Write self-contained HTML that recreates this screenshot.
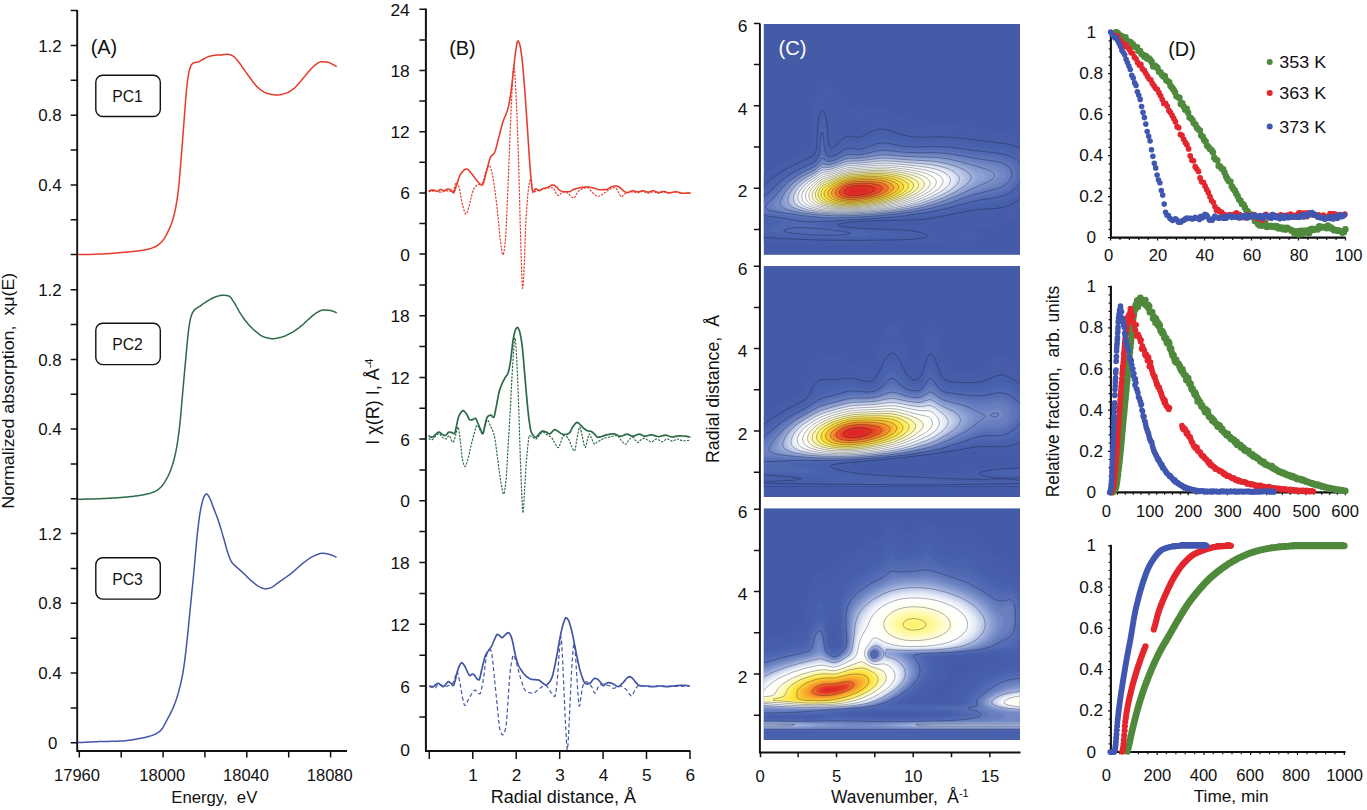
<!DOCTYPE html>
<html><head><meta charset="utf-8"><title>Figure</title>
<style>
html,body{margin:0;padding:0;background:#fff;}
body{width:1367px;height:810px;overflow:hidden;}
svg{display:block;font-family:"Liberation Sans",sans-serif;}
</style></head><body>
<svg width="1367" height="810" viewBox="0 0 1367 810">
<defs><filter id="bl" x="-5%" y="-5%" width="110%" height="110%"><feGaussianBlur stdDeviation="0.9"/></filter></defs>
<rect width="1367" height="810" fill="#fff"/>
<path d="M77.2 10 V751 H347" fill="none" stroke="#111" stroke-width="1.9"/>
<path d="M77.2 254.6H70.7M77.2 219.8H70.7M77.2 184.9H70.7M77.2 150H70.7M77.2 115.2H70.7M77.2 80.3H70.7M77.2 45.5H70.7M77.2 498.8H70.7M77.2 463.9H70.7M77.2 429.1H70.7M77.2 394.2H70.7M77.2 359.4H70.7M77.2 324.6H70.7M77.2 289.7H70.7M77.2 742.7H70.7M77.2 707.9H70.7M77.2 673H70.7M77.2 638.2H70.7M77.2 603.3H70.7M77.2 568.5H70.7M77.2 533.6H70.7M77.2 10.5H70.7" stroke="#111" stroke-width="1.5" fill="none"/>
<text x="61.7" y="51.6" font-size="16.9" text-anchor="end" fill="#111">1.2</text>
<text x="61.7" y="121.3" font-size="16.9" text-anchor="end" fill="#111">0.8</text>
<text x="61.7" y="191" font-size="16.9" text-anchor="end" fill="#111">0.4</text>
<text x="61.7" y="295.8" font-size="16.9" text-anchor="end" fill="#111">1.2</text>
<text x="61.7" y="365.5" font-size="16.9" text-anchor="end" fill="#111">0.8</text>
<text x="61.7" y="435.2" font-size="16.9" text-anchor="end" fill="#111">0.4</text>
<text x="61.7" y="539.7" font-size="16.9" text-anchor="end" fill="#111">1.2</text>
<text x="61.7" y="609.4" font-size="16.9" text-anchor="end" fill="#111">0.8</text>
<text x="61.7" y="679.1" font-size="16.9" text-anchor="end" fill="#111">0.4</text>
<text x="57.4" y="749.1" font-size="16.9" text-anchor="end" fill="#111">0</text>
<path d="M79.3 751V757.5M121.2 751V757.5M163.1 751V757.5M204.9 751V757.5M246.8 751V757.5M288.7 751V757.5M330.6 751V757.5" stroke="#111" stroke-width="1.5" fill="none"/>
<text x="77" y="780.6" font-size="16.5" text-anchor="middle" fill="#111">17960</text>
<text x="162.3" y="780.6" font-size="16.5" text-anchor="middle" fill="#111">18000</text>
<text x="246" y="780.6" font-size="16.5" text-anchor="middle" fill="#111">18040</text>
<text x="329.8" y="780.6" font-size="16.5" text-anchor="middle" fill="#111">18080</text>
<text x="214.3" y="803.3" font-size="16.5" text-anchor="middle" fill="#111" textLength="86" lengthAdjust="spacingAndGlyphs">Energy,&#160; eV</text>
<text transform="translate(14 390.7) rotate(-90)" font-size="16.8" text-anchor="middle" fill="#111" textLength="236" lengthAdjust="spacingAndGlyphs">Normalized absorption,&#160; x&#956;(E)</text>
<text x="104" y="53.8" font-size="20" text-anchor="middle" fill="#111" textLength="26.5" lengthAdjust="spacingAndGlyphs">(A)</text>
<rect x="95.8" y="75.2" width="64.5" height="41.3" rx="7" ry="7" fill="#fff" stroke="#111" stroke-width="1.4"/>
<text x="127.6" y="102" font-size="16.5" text-anchor="middle" fill="#111" textLength="30.5" lengthAdjust="spacingAndGlyphs">PC1</text>
<rect x="95.8" y="323.3" width="64.5" height="41.3" rx="7" ry="7" fill="#fff" stroke="#111" stroke-width="1.4"/>
<text x="127.6" y="350.1" font-size="16.5" text-anchor="middle" fill="#111" textLength="30.5" lengthAdjust="spacingAndGlyphs">PC2</text>
<rect x="95.8" y="557.8" width="64.5" height="41.3" rx="7" ry="7" fill="#fff" stroke="#111" stroke-width="1.4"/>
<text x="127.6" y="584.6" font-size="16.5" text-anchor="middle" fill="#111" textLength="30.5" lengthAdjust="spacingAndGlyphs">PC3</text>
<path d="M77.7 254.6 L 78.7 254.6 79.7 254.6 80.7 254.6 81.7 254.6 82.7 254.6 83.7 254.6 84.7 254.6 85.7 254.5 86.7 254.5 87.7 254.5 88.7 254.5 89.7 254.4 90.7 254.4 91.7 254.4 92.7 254.3 93.7 254.3 94.7 254.3 95.7 254.2 96.7 254.2 97.7 254.1 98.7 254.1 99.7 254.1 100.7 254 101.7 254 102.7 253.9 103.7 253.9 104.7 253.8 105.7 253.8 106.7 253.7 107.7 253.7 108.7 253.6 109.7 253.5 110.7 253.5 111.7 253.4 112.7 253.3 113.7 253.2 114.7 253.1 115.7 253.1 116.7 253 117.7 252.9 118.7 252.8 119.7 252.7 120.7 252.6 121.7 252.5 122.7 252.4 123.7 252.3 124.7 252.2 125.7 252.2 126.7 252.1 127.7 252 128.7 251.9 129.7 251.8 130.7 251.7 131.7 251.6 132.7 251.5 133.7 251.4 134.7 251.3 135.7 251.2 136.7 251.1 137.7 250.9 138.7 250.8 139.7 250.7 140.7 250.5 141.7 250.4 142.7 250.2 143.7 250.1 144.7 249.9 145.7 249.7 146.7 249.5 147.7 249.3 148.7 249 149.7 248.8 150.7 248.5 151.7 248.1 152.7 247.8 153.7 247.4 154.7 247 155.7 246.5 156.7 246 157.7 245.3 158.7 244.5 159.7 243.7 160.7 242.7 161.7 241.7 162.7 240.6 163.7 239.4 164.7 237.8 165.7 236.1 166.7 234.2 167.7 232.2 168.7 230.1 169.7 227.9 170.7 225.6 171.7 223 172.7 220 173.7 216.5 174.7 212.4 175.7 207.6 176.7 201.9 177.7 195.3 178.7 187.2 179.7 176.3 180.7 164.1 181.7 151.9 182.7 138.8 183.7 125.5 184.7 112.4 185.7 98.9 186.7 87.8 187.7 79.4 188.7 73.2 189.7 69 190.7 65.9 191.7 64.3 192.7 63.5 193.7 62.9 194.7 62.5 195.7 62.4 196.7 62.2 197.7 62.1 198.7 61.8 199.7 61.3 200.7 60.7 201.7 60.1 202.7 59.5 203.7 59 204.7 58.4 205.7 57.9 206.7 57.3 207.7 56.9 208.7 56.5 209.7 56.2 210.7 56 211.7 55.7 212.7 55.5 213.7 55.4 214.7 55.2 215.7 55.2 216.7 55.1 217.7 55 218.7 55 219.7 55 220.7 54.9 221.7 54.9 222.7 54.7 223.7 54.6 224.7 54.5 225.7 54.4 226.7 54.3 227.7 54.3 228.7 54.4 229.7 54.6 230.7 55 231.7 55.4 232.7 55.8 233.7 56.5 234.7 57.4 235.7 58.5 236.7 59.5 237.7 60.7 238.7 61.9 239.7 63.3 240.7 64.7 241.7 66.2 242.7 67.6 243.7 69 244.7 70.4 245.7 71.9 246.7 73.3 247.7 74.7 248.7 76.1 249.7 77.5 250.7 78.8 251.7 80.1 252.7 81.5 253.7 82.8 254.7 84.1 255.7 85.3 256.7 86.4 257.7 87.4 258.7 88.2 259.7 89 260.7 89.8 261.7 90.5 262.7 91.2 263.7 91.8 264.7 92.3 265.7 92.8 266.7 93.2 267.7 93.5 268.7 93.8 269.7 94 270.7 94.2 271.7 94.5 272.7 94.6 273.7 94.8 274.7 94.9 275.7 95 276.7 95 277.7 95 278.7 94.9 279.7 94.8 280.7 94.6 281.7 94.4 282.7 94.2 283.7 93.9 284.7 93.6 285.7 93.3 286.7 93 287.7 92.6 288.7 92 289.7 91.5 290.7 90.8 291.7 90.1 292.7 89.4 293.7 88.6 294.7 87.8 295.7 86.9 296.7 85.8 297.7 84.7 298.7 83.5 299.7 82.3 300.7 81.2 301.7 80 302.7 78.8 303.7 77.6 304.7 76.4 305.7 75.1 306.7 73.9 307.7 72.7 308.7 71.6 309.7 70.5 310.7 69.3 311.7 68.2 312.7 67.2 313.7 66.2 314.7 65.3 315.7 64.6 316.7 63.9 317.7 63.2 318.7 62.6 319.7 62.1 320.7 61.8 321.7 61.7 322.7 61.7 323.7 61.8 324.7 61.9 325.7 62 326.7 62.1 327.7 62.3 328.7 62.5 329.7 62.9 330.7 63.3 331.7 63.8 332.7 64.3 333.7 64.8 334.7 65.4 335.7 66 336.7 66.7" fill="none" stroke="#e63a2b" stroke-width="1.5" stroke-linejoin="round"/>
<path d="M77.7 499.3 L 78.7 499.3 79.7 499.2 80.7 499.2 81.7 499.2 82.7 499.2 83.7 499.2 84.7 499.2 85.7 499.1 86.7 499.1 87.7 499.1 88.7 499.1 89.7 499 90.7 499 91.7 499 92.7 498.9 93.7 498.9 94.7 498.9 95.7 498.8 96.7 498.8 97.7 498.8 98.7 498.7 99.7 498.7 100.7 498.7 101.7 498.6 102.7 498.6 103.7 498.5 104.7 498.5 105.7 498.4 106.7 498.4 107.7 498.3 108.7 498.3 109.7 498.2 110.7 498.2 111.7 498.1 112.7 498.1 113.7 498 114.7 497.9 115.7 497.9 116.7 497.8 117.7 497.7 118.7 497.7 119.7 497.6 120.7 497.5 121.7 497.4 122.7 497.3 123.7 497.3 124.7 497.2 125.7 497.1 126.7 497 127.7 496.9 128.7 496.8 129.7 496.7 130.7 496.6 131.7 496.5 132.7 496.4 133.7 496.3 134.7 496.1 135.7 496 136.7 495.9 137.7 495.7 138.7 495.6 139.7 495.4 140.7 495.2 141.7 495.1 142.7 494.9 143.7 494.7 144.7 494.5 145.7 494.3 146.7 494.1 147.7 493.9 148.7 493.6 149.7 493.4 150.7 493.1 151.7 492.8 152.7 492.4 153.7 492 154.7 491.6 155.7 491.2 156.7 490.6 157.7 489.9 158.7 489.1 159.7 488.2 160.7 487.3 161.7 486.2 162.7 485 163.7 483.6 164.7 482.1 165.7 480.4 166.7 478.6 167.7 476.8 168.7 474.8 169.7 472.5 170.7 470.1 171.7 467.3 172.7 464.3 173.7 460.7 174.7 456.8 175.7 452.3 176.7 447.2 177.7 441.2 178.7 433.9 179.7 425.7 180.7 415.5 181.7 403.9 182.7 392.4 183.7 381.3 184.7 370.2 185.7 359.4 186.7 348.5 187.7 337.7 188.7 328.9 189.7 322.6 190.7 317.7 191.7 314.6 192.7 312.4 193.7 310.8 194.7 309.7 195.7 308.9 196.7 308.2 197.7 307.5 198.7 306.9 199.7 306.3 200.7 305.6 201.7 304.9 202.7 304.1 203.7 303.4 204.7 302.8 205.7 302.1 206.7 301.5 207.7 300.9 208.7 300.3 209.7 299.7 210.7 299.1 211.7 298.5 212.7 298 213.7 297.6 214.7 297.2 215.7 296.8 216.7 296.5 217.7 296.2 218.7 295.9 219.7 295.6 220.7 295.4 221.7 295.3 222.7 295.2 223.7 295.2 224.7 295.3 225.7 295.4 226.7 295.6 227.7 295.8 228.7 296 229.7 296.5 230.7 297.5 231.7 298.8 232.7 300.3 233.7 301.8 234.7 303.4 235.7 305.1 236.7 307 237.7 308.8 238.7 310.7 239.7 312.3 240.7 313.9 241.7 315.4 242.7 316.9 243.7 318.3 244.7 319.7 245.7 321.1 246.7 322.3 247.7 323.5 248.7 324.7 249.7 325.8 250.7 326.8 251.7 327.8 252.7 328.8 253.7 329.7 254.7 330.6 255.7 331.4 256.7 332.2 257.7 333 258.7 333.8 259.7 334.6 260.7 335.3 261.7 335.9 262.7 336.5 263.7 336.9 264.7 337.2 265.7 337.5 266.7 337.8 267.7 338.1 268.7 338.3 269.7 338.5 270.7 338.6 271.7 338.7 272.7 338.7 273.7 338.7 274.7 338.6 275.7 338.4 276.7 338.3 277.7 338.1 278.7 337.8 279.7 337.6 280.7 337.4 281.7 337.1 282.7 336.8 283.7 336.5 284.7 336.1 285.7 335.7 286.7 335.2 287.7 334.7 288.7 334.2 289.7 333.7 290.7 333.2 291.7 332.6 292.7 332.1 293.7 331.4 294.7 330.8 295.7 330.1 296.7 329.4 297.7 328.7 298.7 328 299.7 327.2 300.7 326.4 301.7 325.6 302.7 324.7 303.7 323.8 304.7 322.8 305.7 321.9 306.7 321 307.7 320 308.7 319.1 309.7 318.3 310.7 317.4 311.7 316.5 312.7 315.6 313.7 314.8 314.7 314 315.7 313.3 316.7 312.6 317.7 312.1 318.7 311.5 319.7 311 320.7 310.6 321.7 310.2 322.7 310 323.7 310 324.7 310 325.7 310.1 326.7 310.1 327.7 310.2 328.7 310.3 329.7 310.4 330.7 310.5 331.7 310.8 332.7 311.1 333.7 311.5 334.7 311.9 335.7 312.4 336.7 312.9" fill="none" stroke="#2b6a45" stroke-width="1.5" stroke-linejoin="round"/>
<path d="M77.6 742.7 L 78.6 742.6 79.6 742.6 80.6 742.5 81.6 742.5 82.6 742.4 83.6 742.3 84.6 742.3 85.6 742.2 86.6 742.2 87.6 742.1 88.6 742.1 89.6 742 90.6 742 91.6 741.9 92.6 741.9 93.6 741.8 94.6 741.8 95.6 741.7 96.6 741.7 97.6 741.7 98.6 741.6 99.6 741.6 100.6 741.6 101.6 741.5 102.6 741.5 103.6 741.5 104.6 741.5 105.6 741.4 106.6 741.4 107.6 741.4 108.6 741.4 109.6 741.4 110.6 741.3 111.6 741.3 112.6 741.3 113.6 741.3 114.6 741.2 115.6 741.2 116.6 741.2 117.6 741.2 118.6 741.1 119.6 741.1 120.6 741 121.6 741 122.6 740.9 123.6 740.9 124.6 740.8 125.6 740.7 126.6 740.6 127.6 740.5 128.6 740.3 129.6 740.2 130.6 740 131.6 739.9 132.6 739.7 133.6 739.5 134.6 739.4 135.6 739.2 136.6 739 137.6 738.8 138.6 738.7 139.6 738.5 140.6 738.3 141.6 738.1 142.6 737.9 143.6 737.7 144.6 737.5 145.6 737.2 146.6 737 147.6 736.8 148.6 736.5 149.6 736.2 150.6 735.9 151.6 735.6 152.6 735.2 153.6 734.9 154.6 734.4 155.6 734 156.6 733.4 157.6 732.8 158.6 732.2 159.6 731.4 160.6 730.6 161.6 729.5 162.6 728 163.6 726.3 164.6 724.4 165.6 722.5 166.6 720.6 167.6 718.8 168.6 716.9 169.6 715.1 170.6 713.1 171.6 711.1 172.6 709 173.6 706.6 174.6 704.1 175.6 701.4 176.6 698.5 177.6 695.3 178.6 691.9 179.6 688.1 180.6 684.1 181.6 679.6 182.6 674.5 183.6 668.7 184.6 661.6 185.6 653.3 186.6 644.5 187.6 635.3 188.6 625.2 189.6 614.9 190.6 604.8 191.6 594.9 192.6 585 193.6 574.8 194.6 563.8 195.6 552.1 196.6 541.1 197.6 531.7 198.6 523.2 199.6 515.7 200.6 509.7 201.6 504.9 202.6 500.8 203.6 497.7 204.6 495.8 205.6 494.4 206.6 493.8 207.6 494.6 208.6 496.1 209.6 497.8 210.6 500 211.6 502.6 212.6 505.4 213.6 508.1 214.6 510.6 215.6 513.2 216.6 515.8 217.6 518.5 218.6 521.4 219.6 524.5 220.6 527.7 221.6 531.1 222.6 534.6 223.6 538 224.6 541.5 225.6 545.2 226.6 548.9 227.6 552.2 228.6 555.1 229.6 557.8 230.6 560.2 231.6 562 232.6 563.3 233.6 564.4 234.6 565.2 235.6 566.1 236.6 567.1 237.6 568 238.6 568.9 239.6 569.7 240.6 570.6 241.6 571.5 242.6 572.4 243.6 573.4 244.6 574.3 245.6 575.3 246.6 576.3 247.6 577.4 248.6 578.3 249.6 579.3 250.6 580.2 251.6 581 252.6 581.9 253.6 582.7 254.6 583.5 255.6 584.3 256.6 585.1 257.6 585.8 258.6 586.4 259.6 586.9 260.6 587.4 261.6 587.8 262.6 588.3 263.6 588.6 264.6 588.8 265.6 588.9 266.6 588.8 267.6 588.6 268.6 588.4 269.6 588.1 270.6 587.8 271.6 587.4 272.6 586.9 273.6 586.2 274.6 585.5 275.6 584.7 276.6 583.9 277.6 583.1 278.6 582.3 279.6 581.6 280.6 580.9 281.6 580.3 282.6 579.6 283.6 578.9 284.6 578.2 285.6 577.5 286.6 576.8 287.6 576 288.6 575.3 289.6 574.6 290.6 573.8 291.6 573 292.6 572.2 293.6 571.4 294.6 570.5 295.6 569.6 296.6 568.7 297.6 567.8 298.6 566.9 299.6 566 300.6 565.1 301.6 564.3 302.6 563.5 303.6 562.7 304.6 562 305.6 561.2 306.6 560.5 307.6 559.7 308.6 559 309.6 558.3 310.6 557.7 311.6 557.1 312.6 556.6 313.6 556.1 314.6 555.6 315.6 555.2 316.6 554.8 317.6 554.4 318.6 554 319.6 553.7 320.6 553.4 321.6 553.3 322.6 553.3 323.6 553.3 324.6 553.4 325.6 553.6 326.6 553.8 327.6 554 328.6 554.2 329.6 554.4 330.6 554.7 331.6 555 332.6 555.4 333.6 555.9 334.6 556.3 335.6 556.9 336.6 557.4" fill="none" stroke="#4356a6" stroke-width="1.5" stroke-linejoin="round"/>
<path d="M425.9 8.6 V751 H690.5" fill="none" stroke="#111" stroke-width="2"/>
<path d="M425.9 9.3H419.4M425.9 39.9H419.4M425.9 70.5H419.4M425.9 101.1H419.4M425.9 131.7H419.4M425.9 162.3H419.4M425.9 192.9H419.4M425.9 223.5H419.4M425.9 254.1H419.4M425.9 284.9H419.4M425.9 315.8H419.4M425.9 346.6H419.4M425.9 377.4H419.4M425.9 408.2H419.4M425.9 439.1H419.4M425.9 469.9H419.4M425.9 500.7H419.4M425.9 531.6H419.4M425.9 562.5H419.4M425.9 593.4H419.4M425.9 624.3H419.4M425.9 655.2H419.4M425.9 686.1H419.4M425.9 717H419.4" stroke="#111" stroke-width="1.5" fill="none"/>
<text x="409.8" y="15.8" font-size="17.4" text-anchor="end" fill="#111">24</text>
<text x="409.8" y="77" font-size="17.4" text-anchor="end" fill="#111">18</text>
<text x="409.8" y="138.2" font-size="17.4" text-anchor="end" fill="#111">12</text>
<text x="409.8" y="199.4" font-size="17.4" text-anchor="end" fill="#111">6</text>
<text x="409.8" y="260.6" font-size="17.4" text-anchor="end" fill="#111">0</text>
<text x="409.8" y="322.3" font-size="17.4" text-anchor="end" fill="#111">18</text>
<text x="409.8" y="383.9" font-size="17.4" text-anchor="end" fill="#111">12</text>
<text x="409.8" y="445.6" font-size="17.4" text-anchor="end" fill="#111">6</text>
<text x="409.8" y="507.2" font-size="17.4" text-anchor="end" fill="#111">0</text>
<text x="409.8" y="569" font-size="17.4" text-anchor="end" fill="#111">18</text>
<text x="409.8" y="630.8" font-size="17.4" text-anchor="end" fill="#111">12</text>
<text x="409.8" y="692.6" font-size="17.4" text-anchor="end" fill="#111">6</text>
<text x="409.8" y="756.1" font-size="17.4" text-anchor="end" fill="#111">0</text>
<path d="M429.3 751V759M472.8 751V759M516.2 751V759M559.7 751V759M603.1 751V759M646.5 751V759M690 751V759" stroke="#111" stroke-width="1.5" fill="none"/>
<text x="473.1" y="781" font-size="17.2" text-anchor="middle" fill="#111">1</text>
<text x="516.6" y="781" font-size="17.2" text-anchor="middle" fill="#111">2</text>
<text x="560.1" y="781" font-size="17.2" text-anchor="middle" fill="#111">3</text>
<text x="603.5" y="781" font-size="17.2" text-anchor="middle" fill="#111">4</text>
<text x="646.9" y="781" font-size="17.2" text-anchor="middle" fill="#111">5</text>
<text x="690.4" y="781" font-size="17.2" text-anchor="middle" fill="#111">6</text>
<text x="563.4" y="802.9" font-size="17.5" text-anchor="middle" fill="#111" textLength="145.5" lengthAdjust="spacingAndGlyphs">Radial distance, &#197;</text>
<text transform="translate(378.5 401.7) rotate(-90)" font-size="18" text-anchor="middle" fill="#111">I &#967;(R) I, &#197;<tspan font-size="11" dy="-6">-4</tspan></text>
<text x="462.5" y="55" font-size="20" text-anchor="middle" fill="#111" textLength="26.5" lengthAdjust="spacingAndGlyphs">(B)</text>
<path d="M428.6 191.8 L 429.3 191.6 430 191.5 430.7 191.4 431.4 191.3 432.1 191.2 432.8 191.2 433.5 191.1 434.2 191.1 434.9 191.1 435.6 191.1 436.3 191.2 437 191.3 437.7 191.5 438.4 191.7 439.1 191.9 439.8 192.1 440.5 192.1 441.2 192.1 441.9 192 442.6 191.9 443.3 191.7 444 191.5 444.7 191.3 445.4 191.1 446.1 190.9 446.8 190.8 447.5 190.8 448.2 190.8 448.9 190.9 449.6 191.1 450.3 191.3 451 191.5 451.7 191.7 452.4 191.8 453.1 191.6 453.8 189.9 454.5 187.2 455.2 184.5 455.9 182.7 456.6 182.6 457.3 183.3 458 184.5 458.7 186 459.4 188.4 460.1 192.1 460.8 196.3 461.5 200.3 462.2 203.5 462.9 206.2 463.6 208.9 464.3 211.4 465 213.2 465.7 214.2 466.4 214 467.1 212.6 467.8 210.5 468.5 208 469.2 205.5 469.9 203.1 470.6 200.3 471.3 197.2 472 194.2 472.7 191.5 473.4 189.6 474.1 188.4 474.8 187.4 475.5 186.5 476.2 185.8 476.9 185.3 477.6 184.9 478.3 184.6 479 184.4 479.7 184.2 480.4 184 481.1 183.8 481.8 183.4 482.5 182.8 483.2 181.2 483.9 178.9 484.6 176.2 485.3 173.5 486 171.2 486.7 169.5 487.4 167.7 488.1 166.2 488.8 165.3 489.5 165.4 490.2 166.7 490.9 168.7 491.6 171.2 492.3 173.9 493 177.7 493.7 182.1 494.4 186.7 495.1 191.7 495.8 197.1 496.5 202.8 497.2 208.9 497.9 215.1 498.6 222.3 499.3 230 500 237.1 500.7 242.7 501.4 248.1 502.1 252.7 502.8 255 503.5 254 504.2 250.4 504.9 245.1 505.6 238.2 506.3 225.4 507 209.2 507.7 193.2 508.4 176.4 509.1 159.2 509.8 141.4 510.5 123.1 511.2 106.6 511.9 93.1 512.6 79.7 513.3 69.1 514 64.9 514.7 70.5 515.4 83 516.1 96.9 516.8 112.1 517.5 130 518.2 150.1 518.9 172.7 519.6 199.8 520.3 226.2 521 249.7 521.7 273.6 522.4 288.5 523.1 286.4 523.8 273.8 524.5 258.5 525.2 237.8 525.9 220.8 526.6 209.8 527.3 201 528 192.9 528.7 186.8 529.4 182.8 530.1 179.7 530.8 179.4 531.5 183.6 532.2 189.4 532.9 192.8 533.6 192.7 534.3 192.3 535 191.8 535.7 191.2 536.4 190.6 537.1 190.2 537.8 190 538.5 189.9 539.2 189.8 539.9 189.7 540.6 189.6 541.3 189.6 542 189.5 542.7 189.4 543.4 189.2 544.1 189 544.8 188.8 545.5 188.6 546.2 188.3 546.9 188.2 547.6 188 548.3 187.9 549 187.9 549.7 187.8 550.4 187.8 551.1 187.7 551.8 187.7 552.5 187.7 553.2 187.7 553.9 188.6 554.6 190.2 555.3 191.9 556 193.1 556.7 194.2 557.4 195.1 558.1 195.6 558.8 195.4 559.5 194.9 560.2 194.1 560.9 193.4 561.6 192.9 562.3 192.6 563 192.3 563.7 192 564.4 191.9 565.1 191.8 565.8 191.9 566.5 192.3 567.2 192.8 567.9 193.4 568.6 194 569.3 194.6 570 195.2 570.7 195.8 571.4 196.6 572.1 197.2 572.8 197.7 573.5 198 574.2 197.9 574.9 197 575.6 195.8 576.3 194.4 577 193.1 577.7 192.3 578.4 191.4 579.1 190.6 579.8 190 580.5 189.5 581.2 189.2 581.9 188.9 582.6 188.6 583.3 188.4 584 188.2 584.7 188 585.4 187.9 586.1 187.7 586.8 187.7 587.5 187.6 588.2 187.8 588.9 188.3 589.6 189 590.3 189.9 591 190.8 591.7 191.7 592.4 192.5 593.1 193.1 593.8 193.7 594.5 194.3 595.2 194.9 595.9 195.5 596.6 195.9 597.3 196.2 598 196.3 598.7 196.2 599.4 196 600.1 195.7 600.8 195.3 601.5 194.9 602.2 194.4 602.9 194 603.6 193.6 604.3 193.1 605 192.5 605.7 192 606.4 191.4 607.1 190.8 607.8 190.4 608.5 190 609.2 189.6 609.9 189.3 610.6 189 611.3 188.7 612 188.4 612.7 188.1 613.4 187.9 614.1 187.7 614.8 187.7 615.5 187.7 616.2 188.3 616.9 189.4 617.6 190.8 618.3 192.1 619 193.3 619.7 194.6 620.4 196 621.1 196.8 621.8 196.9 622.5 196.3 623.2 195.4 623.9 194.5 624.6 193.9 625.3 193.5 626 193.2 626.7 193 627.4 192.8 628.1 192.6 628.8 192.4 629.5 192.2 630.2 192.1 630.9 191.9 631.6 191.8 632.3 191.8 633 191.8 633.7 191.9 634.4 192.1 635.1 192.3 635.8 192.5 636.5 192.7 637.2 192.8 637.9 192.8 638.6 192.7 639.3 192.5 640 192.3 640.7 192 641.4 191.7 642.1 191.5 642.8 191.5 643.5 191.5 644.2 191.7 644.9 192 645.6 192.4 646.3 192.7 647 193 647.7 193.1 648.4 193.2 649.1 193 649.8 192.8 650.5 192.6 651.2 192.3 651.9 192 652.6 191.9 653.3 191.8 654 191.9 654.7 192 655.4 192.3 656.1 192.6 656.8 192.8 657.5 193.1 658.2 193.2 658.9 193.1 659.6 193 660.3 192.8 661 192.5 661.7 192.2 662.4 192 663.1 191.8 663.8 191.8 664.5 191.9 665.2 192.1 665.9 192.3 666.6 192.6 667.3 192.9 668 193.1 668.7 193.2 669.4 193.2 670.1 193.1 670.8 193 671.5 192.8 672.2 192.7 672.9 192.5 673.6 192.4 674.3 192.3 675 192.2 675.7 192.1 676.4 192.2 677.1 192.3 677.8 192.4 678.5 192.6 679.2 192.8 679.9 193 680.6 193.2 681.3 193.4 682 193.5 682.7 193.5 683.4 193.5 684.1 193.5 684.8 193.5 685.5 193.5 686.2 193.4 686.9 193.4 687.6 193.3 688.3 193.3 689 193.2 689.7 193 690.4 192.9" fill="none" stroke="#e63a2b" stroke-width="1.15" stroke-linejoin="round" stroke-dasharray="2.3 1.2"/>
<path d="M428.6 191.1 L 429.3 190.8 430 190.5 430.7 190.3 431.4 190.2 432.1 190.1 432.8 190.1 433.5 190.1 434.2 190.1 434.9 190.4 435.6 190.8 436.3 191.2 437 191.4 437.7 191.3 438.4 190.9 439.1 190.3 439.8 189.7 440.5 189.4 441.2 189.5 441.9 189.8 442.6 190.2 443.3 190.5 444 190.7 444.7 190.6 445.4 190.2 446.1 189.7 446.8 189.3 447.5 189 448.2 189.1 448.9 189.2 449.6 189.4 450.3 189.7 451 190 451.7 190.7 452.4 191.8 453.1 192.7 453.8 192.7 454.5 191.3 455.2 189.2 455.9 186.9 456.6 185 457.3 182.9 458 180.7 458.7 178.5 459.4 176.6 460.1 174.9 460.8 173.8 461.5 172.9 462.2 172 462.9 171.2 463.6 170.5 464.3 169.9 465 169.5 465.7 169.1 466.4 169 467.1 169.1 467.8 169.4 468.5 169.9 469.2 170.7 469.9 171.5 470.6 172.4 471.3 173.2 472 174 472.7 174.9 473.4 175.9 474.1 176.9 474.8 177.9 475.5 178.9 476.2 179.8 476.9 180.6 477.6 181.4 478.3 182.2 479 183 479.7 183.8 480.4 184.4 481.1 184.9 481.8 185.2 482.5 185.1 483.2 183.9 483.9 181.7 484.6 179 485.3 176 486 173.2 486.7 170.8 487.4 168.1 488.1 165.2 488.8 162.4 489.5 159.9 490.2 157.8 490.9 156.4 491.6 155.6 492.3 155 493 154.5 493.7 153.8 494.4 152.9 495.1 151.3 495.8 149.1 496.5 146.6 497.2 143.7 497.9 140.9 498.6 138.1 499.3 135.6 500 132.8 500.7 130.1 501.4 127.3 502.1 124.7 502.8 122.3 503.5 120.3 504.2 118.5 504.9 116.8 505.6 115.3 506.3 113.6 507 111.7 507.7 109.6 508.4 106.9 509.1 103.6 509.8 99.5 510.5 95.1 511.2 90.2 511.9 84.3 512.6 78 513.3 71.7 514 65.4 514.7 59 515.4 53.2 516.1 48.5 516.8 44 517.5 41.1 518.2 41 518.9 42.2 519.6 44.1 520.3 46.7 521 50.9 521.7 56.2 522.4 62.2 523.1 69.5 523.8 77.9 524.5 86.7 525.2 95.8 525.9 105.7 526.6 116.1 527.3 126.4 528 137 528.7 147.7 529.4 157.9 530.1 168.2 530.8 176.1 531.5 183.2 532.2 189 532.9 191.8 533.6 191.4 534.3 190.4 535 189.3 535.7 188.7 536.4 188.9 537.1 189.4 537.8 190 538.5 190.5 539.2 190.8 539.9 190.6 540.6 190.1 541.3 189.6 542 189.1 542.7 188.7 543.4 188.4 544.1 188.2 544.8 188.1 545.5 187.9 546.2 187.8 546.9 187.6 547.6 187.4 548.3 187.1 549 186.8 549.7 186.3 550.4 185.9 551.1 185.5 551.8 185.2 552.5 184.9 553.2 184.9 553.9 185.1 554.6 185.5 555.3 186 556 186.6 556.7 187.1 557.4 187.8 558.1 188.7 558.8 189.5 559.5 190.1 560.2 190.5 560.9 190.9 561.6 191.2 562.3 191.4 563 191.6 563.7 191.7 564.4 191.8 565.1 191.8 565.8 191.8 566.5 191.8 567.2 191.8 567.9 191.8 568.6 191.8 569.3 191.7 570 191.5 570.7 191.1 571.4 190.7 572.1 190.2 572.8 189.8 573.5 189.5 574.2 189.2 574.9 189 575.6 188.8 576.3 188.6 577 188.4 577.7 188.2 578.4 188.1 579.1 187.9 579.8 187.7 580.5 187.6 581.2 187.5 581.9 187.4 582.6 187.3 583.3 187.2 584 187.1 584.7 187.1 585.4 187 586.1 187 586.8 187 587.5 187 588.2 187 588.9 187 589.6 187.1 590.3 187.3 591 187.4 591.7 187.6 592.4 187.8 593.1 188 593.8 188.2 594.5 188.3 595.2 188.5 595.9 188.8 596.6 189 597.3 189.2 598 189.5 598.7 189.6 599.4 189.7 600.1 189.7 600.8 189.7 601.5 189.7 602.2 189.7 602.9 189.6 603.6 189.6 604.3 189.6 605 189.5 605.7 189.5 606.4 189.4 607.1 189.3 607.8 189 608.5 188.6 609.2 188.1 609.9 187.6 610.6 187.1 611.3 186.8 612 186.6 612.7 186.4 613.4 186.3 614.1 186.1 614.8 186 615.5 185.9 616.2 185.9 616.9 186 617.6 186.2 618.3 186.6 619 187 619.7 187.5 620.4 188 621.1 188.5 621.8 189.2 622.5 189.9 623.2 190.6 623.9 191.1 624.6 191.5 625.3 191.9 626 192.2 626.7 192.4 627.4 192.5 628.1 192.4 628.8 192.2 629.5 191.8 630.2 191.5 630.9 191.2 631.6 190.9 632.3 190.8 633 190.8 633.7 190.9 634.4 191.1 635.1 191.3 635.8 191.5 636.5 191.6 637.2 191.8 637.9 191.8 638.6 191.7 639.3 191.6 640 191.4 640.7 191.2 641.4 191 642.1 190.8 642.8 190.8 643.5 190.8 644.2 191 644.9 191.2 645.6 191.5 646.3 191.8 647 192 647.7 192.1 648.4 192.1 649.1 192 649.8 191.8 650.5 191.5 651.2 191.2 651.9 191 652.6 190.8 653.3 190.8 654 190.8 654.7 191.1 655.4 191.4 656.1 191.7 656.8 192.1 657.5 192.3 658.2 192.5 658.9 192.5 659.6 192.4 660.3 192.2 661 192 661.7 191.8 662.4 191.6 663.1 191.5 663.8 191.5 664.5 191.5 665.2 191.7 665.9 192 666.6 192.3 667.3 192.5 668 192.7 668.7 192.8 669.4 192.8 670.1 192.7 670.8 192.6 671.5 192.5 672.2 192.3 672.9 192.2 673.6 192 674.3 191.9 675 191.8 675.7 191.8 676.4 191.8 677.1 191.9 677.8 192.1 678.5 192.3 679.2 192.5 679.9 192.7 680.6 192.9 681.3 193 682 193.1 682.7 193.2 683.4 193.2 684.1 193.2 684.8 193.2 685.5 193.2 686.2 193.1 686.9 193.1 687.6 193.1 688.3 193.1 689 193 689.7 192.9 690.4 192.9" fill="none" stroke="#e63a2b" stroke-width="1.55" stroke-linejoin="round"/>
<path d="M428.6 438.3 L 429.3 439 430 439.4 430.7 439.6 431.4 439.7 432.1 439.7 432.8 439.4 433.5 438.7 434.2 437.8 434.9 436.9 435.6 436.2 436.3 435.5 437 434.9 437.7 434.3 438.4 433.9 439.1 433.8 439.8 434.2 440.5 435 441.2 435.9 441.9 436.8 442.6 437.4 443.3 437.9 444 438.3 444.7 438.7 445.4 439 446.1 439 446.8 438.4 447.5 437.4 448.2 436.4 448.9 435.7 449.6 435.7 450.3 436.9 451 438.8 451.7 440.8 452.4 442.2 453.1 442.3 453.8 441.1 454.5 439 455.2 436.7 455.9 434.3 456.6 431.1 457.3 428.2 458 426.9 458.7 429.1 459.4 434 460.1 439.3 460.8 445.5 461.5 452.5 462.2 458.3 462.9 461.5 463.6 464.2 464.3 466.1 465 466.6 465.7 465.8 466.4 463.9 467.1 461.6 467.8 459.3 468.5 456.8 469.2 453.9 469.9 450.8 470.6 447.6 471.3 444.5 472 441.7 472.7 438.9 473.4 436.2 474.1 433.7 474.8 431.3 475.5 428.7 476.2 426.4 476.9 425.2 477.6 425.5 478.3 426.6 479 427.9 479.7 429.2 480.4 430.8 481.1 432.5 481.8 433.6 482.5 433.6 483.2 432.3 483.9 430.2 484.6 427.9 485.3 425.8 486 423.2 486.7 420.9 487.4 420 488.1 420.6 488.8 422 489.5 423.7 490.2 425.3 490.9 426.8 491.6 428.2 492.3 429.8 493 431.5 493.7 433.6 494.4 436 495.1 439.8 495.8 444.7 496.5 450.2 497.2 455.8 497.9 460.9 498.6 466.1 499.3 471.4 500 476.5 500.7 481.2 501.4 485.1 502.1 489.1 502.8 492.6 503.5 494.3 504.2 493.2 504.9 489.5 505.6 484.1 506.3 477.6 507 466.4 507.7 453 508.4 441.1 509.1 430.2 509.8 418.8 510.5 405.8 511.2 391.7 511.9 378.1 512.6 366.4 513.3 355.2 514 344.6 514.7 337.9 515.4 338.8 516.1 348.2 516.8 360.5 517.5 375.5 518.2 393.7 518.9 413.2 519.6 435.6 520.3 457.7 521 476.1 521.7 494 522.4 508.7 523.1 513 523.8 504.1 524.5 490.5 525.2 479.7 525.9 468.6 526.6 458.6 527.3 451 528 444.2 528.7 438.5 529.4 435.6 530.1 435.7 530.8 436.1 531.5 436.7 532.2 437.2 532.9 437.6 533.6 438.1 534.3 438.5 535 438.9 535.7 439 536.4 438.8 537.1 438.2 537.8 437.3 538.5 436.4 539.2 435.6 539.9 434.7 540.6 433.8 541.3 433 542 432.3 542.7 432.1 543.4 432.2 544.1 432.6 544.8 433 545.5 433.6 546.2 434.2 546.9 434.7 547.6 435.1 548.3 435.5 549 435.8 549.7 436.2 550.4 436.6 551.1 437.1 551.8 437.8 552.5 438.8 553.2 440.1 553.9 441.5 554.6 442.8 555.3 444 556 445 556.7 446.2 557.4 447.2 558.1 447.6 558.8 447.2 559.5 445.8 560.2 443.9 560.9 442 561.6 440 562.3 437.6 563 435.9 563.7 435.6 564.4 435.7 565.1 435.8 565.8 436.1 566.5 436.4 567.2 437.1 567.9 438 568.6 439 569.3 440.4 570 442.3 570.7 444.3 571.4 446.2 572.1 447.7 572.8 449.1 573.5 450.3 574.2 451 574.9 450.5 575.6 447.3 576.3 442.8 577 438.5 577.7 434.9 578.4 430.9 579.1 427.8 579.8 427 580.5 428.5 581.2 431.6 581.9 435 582.6 438 583.3 441.3 584 444.7 584.7 447.1 585.4 447.5 586.1 445.6 586.8 442.4 587.5 439.4 588.2 436.8 588.9 434.4 589.6 433.9 590.3 435 591 436.9 591.7 438.8 592.4 440.3 593.1 442 593.8 443.5 594.5 444.2 595.2 443.9 595.9 443.2 596.6 442.4 597.3 441.8 598 441.4 598.7 441.1 599.4 440.9 600.1 440.5 600.8 440.1 601.5 439.6 602.2 439.2 602.9 438.7 603.6 438.4 604.3 438.2 605 438 605.7 437.8 606.4 437.7 607.1 437.5 607.8 437.4 608.5 437.2 609.2 437.1 609.9 436.9 610.6 436.7 611.3 436.6 612 436.4 612.7 436.3 613.4 436.1 614.1 436 614.8 435.8 615.5 435.7 616.2 435.6 616.9 435.5 617.6 435.7 618.3 436.4 619 437.3 619.7 438.3 620.4 439.4 621.1 440.3 621.8 441.1 622.5 441.8 623.2 442.6 623.9 443.3 624.6 443.8 625.3 444.2 626 444.1 626.7 443.4 627.4 442.3 628.1 441 628.8 440 629.5 439.3 630.2 438.6 630.9 438 631.6 437.5 632.3 437.3 633 437.4 633.7 438 634.4 438.9 635.1 439.8 635.8 440.6 636.5 441.5 637.2 442.3 637.9 442.4 638.6 442.1 639.3 441.5 640 440.7 640.7 440 641.4 439.6 642.1 439.2 642.8 438.8 643.5 438.5 644.2 438.3 644.9 438.3 645.6 438.6 646.3 439.1 647 439.6 647.7 440.2 648.4 440.5 649.1 440.9 649.8 441.3 650.5 441.6 651.2 441.7 651.9 441.7 652.6 441.5 653.3 441 654 440.5 654.7 439.9 655.4 439.5 656.1 439.1 656.8 439 657.5 439.2 658.2 439.5 658.9 440 659.6 440.6 660.3 441.1 661 441.5 661.7 441.8 662.4 441.7 663.1 441.4 663.8 440.9 664.5 440.4 665.2 439.9 665.9 439.4 666.6 439.1 667.3 439 668 439.2 668.7 439.5 669.4 439.9 670.1 440.3 670.8 440.7 671.5 440.9 672.2 441.1 672.9 441 673.6 440.7 674.3 440.4 675 440 675.7 439.6 676.4 439.2 677.1 439 677.8 439 678.5 439.2 679.2 439.5 679.9 439.8 680.6 440.1 681.3 440.4 682 440.7 682.7 440.7 683.4 440.7 684.1 440.7 684.8 440.7 685.5 440.7 686.2 440.6 686.9 440.6 687.6 440.5 688.3 440.4 689 440.2 689.7 440 690.4 439.8" fill="none" stroke="#2b6a45" stroke-width="1.15" stroke-linejoin="round" stroke-dasharray="2.3 1.2"/>
<path d="M428.6 435.5 L 429.3 436.2 430 436.7 430.7 437.1 431.4 437.2 432.1 437.3 432.8 437 433.5 436.5 434.2 435.8 434.9 435.1 435.6 434.4 436.3 433.8 437 433.2 437.7 432.6 438.4 432.2 439.1 432.1 439.8 432.4 440.5 432.9 441.2 433.5 441.9 434.2 442.6 434.6 443.3 435 444 435.4 444.7 435.5 445.4 435.4 446.1 434.9 446.8 434.2 447.5 433.4 448.2 432.6 448.9 432.2 449.6 432.1 450.3 432.2 451 432.4 451.7 432.6 452.4 432.9 453.1 433.3 453.8 433.6 454.5 433.8 455.2 432.1 455.9 428.6 456.6 425.4 457.3 421.9 458 418.7 458.7 416.5 459.4 415 460.1 413.7 460.8 412.6 461.5 411.7 462.2 411 462.9 410.7 463.6 410.7 464.3 411.2 465 412 465.7 412.9 466.4 413.8 467.1 414.9 467.8 416.3 468.5 417.9 469.2 419.3 469.9 420 470.6 420 471.3 419.9 472 419.8 472.7 419.7 473.4 419.4 474.1 418.9 474.8 418.4 475.5 418.3 476.2 419.2 476.9 420.7 477.6 422.5 478.3 424 479 425.8 479.7 427.6 480.4 429.2 481.1 430.9 481.8 432.5 482.5 433.6 483.2 433.4 483.9 430.5 484.6 426.7 485.3 423.8 486 420.8 486.7 418.2 487.4 416.8 488.1 416.3 488.8 415.8 489.5 415.4 490.2 415.2 490.9 415.2 491.6 415.6 492.3 416.5 493 417.3 493.7 417.5 494.4 415.8 495.1 412.5 495.8 408.8 496.5 405.5 497.2 401.7 497.9 397.8 498.6 394.2 499.3 391.2 500 388.9 500.7 387 501.4 385.2 502.1 383.6 502.8 382.1 503.5 380.7 504.2 379.4 504.9 378 505.6 376.9 506.3 375.9 507 374.9 507.7 373.6 508.4 371.8 509.1 369 509.8 365.4 510.5 361.4 511.2 356.2 511.9 349.9 512.6 343.6 513.3 338.7 514 335.1 514.7 332 515.4 330 516.1 328.7 516.8 327.7 517.5 327.4 518.2 328 518.9 329.5 519.6 331.4 520.3 334.1 521 337.8 521.7 342.4 522.4 347.9 523.1 355.2 523.8 363.5 524.5 371.6 525.2 379.8 525.9 388.2 526.6 396 527.3 403.7 528 411 528.7 417.2 529.4 422.3 530.1 427.1 530.8 430.7 531.5 432.6 532.2 433.9 532.9 435 533.6 435.9 534.3 436.7 535 437.1 535.7 437.3 536.4 437 537.1 436.4 537.8 435.5 538.5 434.6 539.2 433.8 539.9 433.1 540.6 432.4 541.3 431.7 542 431.2 542.7 431.1 543.4 431.1 544.1 431.3 544.8 431.6 545.5 431.8 546.2 432.1 546.9 432.5 547.6 432.9 548.3 433.4 549 433.7 549.7 433.8 550.4 433.5 551.1 433 551.8 432.2 552.5 431.4 553.2 430.6 553.9 430 554.6 429.7 555.3 429.7 556 430 556.7 430.4 557.4 430.9 558.1 431.3 558.8 431.8 559.5 432.4 560.2 432.9 560.9 433.4 561.6 433.8 562.3 434 563 434.2 563.7 434.4 564.4 434.5 565.1 434.5 565.8 434.5 566.5 434.3 567.2 434.1 567.9 433.8 568.6 433.5 569.3 433.1 570 432.3 570.7 431 571.4 429.5 572.1 428 572.8 426.8 573.5 425.9 574.2 424.9 574.9 424 575.6 423.3 576.3 422.7 577 422.4 577.7 422.5 578.4 422.9 579.1 423.5 579.8 424.3 580.5 425 581.2 425.7 581.9 426.4 582.6 427.2 583.3 427.9 584 428.5 584.7 429 585.4 429.5 586.1 430 586.8 430.4 587.5 430.7 588.2 430.9 588.9 431 589.6 431.1 590.3 431.2 591 431.4 591.7 431.7 592.4 432.2 593.1 432.8 593.8 433.5 594.5 434.2 595.2 434.9 595.9 435.7 596.6 436.5 597.3 437.1 598 437.3 598.7 437.2 599.4 437.1 600.1 436.9 600.8 436.7 601.5 436.5 602.2 436.3 602.9 436.1 603.6 435.9 604.3 435.6 605 435.3 605.7 435.1 606.4 434.9 607.1 434.8 607.8 434.6 608.5 434.5 609.2 434.3 609.9 434.2 610.6 434.1 611.3 434 612 433.9 612.7 433.8 613.4 433.8 614.1 433.9 614.8 434 615.5 434.3 616.2 434.6 616.9 435 617.6 435.3 618.3 435.7 619 436 619.7 436.2 620.4 436.2 621.1 436.2 621.8 436 622.5 435.8 623.2 435.5 623.9 435.2 624.6 434.9 625.3 434.6 626 434.4 626.7 434.2 627.4 434.2 628.1 434.3 628.8 434.6 629.5 434.9 630.2 435.4 630.9 435.7 631.6 436.1 632.3 436.2 633 436.2 633.7 436.1 634.4 435.9 635.1 435.6 635.8 435.3 636.5 435 637.2 434.7 637.9 434.4 638.6 434.3 639.3 434.2 640 434.2 640.7 434.5 641.4 434.8 642.1 435.2 642.8 435.6 643.5 436 644.2 436.2 644.9 436.2 645.6 436.2 646.3 436 647 435.9 647.7 435.7 648.4 435.5 649.1 435.3 649.8 435.1 650.5 434.9 651.2 434.9 651.9 434.9 652.6 435 653.3 435.1 654 435.4 654.7 435.6 655.4 435.9 656.1 436.1 656.8 436.3 657.5 436.5 658.2 436.6 658.9 436.6 659.6 436.5 660.3 436.3 661 436.2 661.7 436 662.4 435.8 663.1 435.6 663.8 435.4 664.5 435.3 665.2 435.2 665.9 435.2 666.6 435.3 667.3 435.5 668 435.8 668.7 436 669.4 436.3 670.1 436.5 670.8 436.7 671.5 436.9 672.2 436.9 672.9 436.9 673.6 436.8 674.3 436.7 675 436.6 675.7 436.4 676.4 436.3 677.1 436.1 677.8 436 678.5 435.9 679.2 435.9 679.9 435.9 680.6 435.9 681.3 435.9 682 436 682.7 436 683.4 436 684.1 436.1 684.8 436.2 685.5 436.2 686.2 436.3 686.9 436.4 687.6 436.6 688.3 436.7 689 436.9 689.7 437 690.4 437.2" fill="none" stroke="#2b6a45" stroke-width="1.7" stroke-linejoin="round"/>
<path d="M429.3 686 L 430 686.4 430.7 686.8 431.4 687.2 432.1 687.5 432.8 687.7 433.5 688 434.2 688.2 434.9 688.3 435.6 687.9 436.3 686.8 437 685.5 437.7 684.4 438.4 684 439.1 684.1 439.8 684.4 440.5 684.8 441.2 685.1 441.9 685.4 442.6 685.8 443.3 686.2 444 686.5 444.7 686.7 445.4 686.6 446.1 686.5 446.8 686.2 447.5 685.9 448.2 685.7 448.9 685.5 449.6 685.4 450.3 685.3 451 685.2 451.7 685 452.4 684.1 453.1 682.5 453.8 680.6 454.5 678.7 455.2 676.7 455.9 674.4 456.6 672.5 457.3 671.7 458 673.4 458.7 677 459.4 680.3 460.1 683.8 460.8 687.6 461.5 692 462.2 696.2 462.9 699.5 463.6 702.4 464.3 704.8 465 705.7 465.7 705 466.4 703.6 467.1 702 467.8 700.7 468.5 699.4 469.2 698 469.9 696.8 470.6 695.6 471.3 694.5 472 693.5 472.7 692.6 473.4 691.5 474.1 690.6 474.8 690 475.5 690.2 476.2 691 476.9 691.9 477.6 692.6 478.3 693.2 479 693.7 479.7 694 480.4 693.4 481.1 690.7 481.8 687.6 482.5 684.4 483.2 680.6 483.9 675.6 484.6 669.6 485.3 664 486 658.4 486.7 654.8 487.4 652.9 488.1 651.6 488.8 650.9 489.5 650.4 490.2 650.1 490.9 650 491.6 652.1 492.3 657.3 493 663.2 493.7 670.6 494.4 677.7 495.1 684.7 495.8 691.7 496.5 698.8 497.2 705.9 497.9 712.7 498.6 719.5 499.3 726.1 500 730.1 500.7 732.1 501.4 733.7 502.1 734.7 502.8 735 503.5 734.2 504.2 732.7 504.9 731 505.6 728.5 506.3 724.1 507 715.6 507.7 705.8 508.4 695.2 509.1 684.8 509.8 675.1 510.5 668.8 511.2 664 511.9 660.3 512.6 656.7 513.3 655 514 655.7 514.7 657.3 515.4 659.3 516.1 661.4 516.8 664 517.5 666.9 518.2 669.6 518.9 672.2 519.6 674.8 520.3 677.3 521 679.7 521.7 681.9 522.4 684 523.1 686.1 523.8 687.9 524.5 689.4 525.2 690.2 525.9 690.9 526.6 691.4 527.3 691.8 528 692.2 528.7 692.5 529.4 692.7 530.1 692.9 530.8 693 531.5 693.2 532.2 693.3 532.9 693.3 533.6 693.3 534.3 693 535 692.4 535.7 691.8 536.4 691.2 537.1 690.6 537.8 690.1 538.5 689.5 539.2 688.9 539.9 688.4 540.6 687.8 541.3 687.2 542 686.7 542.7 686.2 543.4 686 544.1 685.8 544.8 685.7 545.5 685.7 546.2 685.7 546.9 686.2 547.6 687.2 548.3 688.3 549 689.4 549.7 690.4 550.4 691.5 551.1 692.6 551.8 693.5 552.5 694.5 553.2 695.4 553.9 696.1 554.6 696.6 555.3 696.1 556 691.8 556.7 686.1 557.4 678.6 558.1 669.4 558.8 658.9 559.5 648.1 560.2 640.9 560.9 636.7 561.6 641.9 562.3 653.3 563 667.3 563.7 683.9 564.4 699.9 565.1 716.1 565.8 729.6 566.5 742.4 567.2 749.9 567.9 745.5 568.6 733.4 569.3 720.3 570 704.1 570.7 688.7 571.4 674.8 572.1 662.8 572.8 653.3 573.5 645.3 574.2 643.8 574.9 649.2 575.6 656.9 576.3 668 577 679.1 577.7 689.8 578.4 699 579.1 706.2 579.8 705.1 580.5 700 581.2 695.2 581.9 690.4 582.6 686.8 583.3 684.8 584 683.4 584.7 682.6 585.4 682.1 586.1 681.8 586.8 681.7 587.5 682.1 588.2 682.8 588.9 683.6 589.6 684.3 590.3 685 591 685.8 591.7 686.8 592.4 688.4 593.1 690.2 593.8 691.7 594.5 693 595.2 693.2 595.9 692.2 596.6 690.7 597.3 689 598 687.2 598.7 686.2 599.4 685.6 600.1 685.1 600.8 684.7 601.5 684.4 602.2 684.2 602.9 684 603.6 684 604.3 684.2 605 684.4 605.7 684.7 606.4 684.9 607.1 685.1 607.8 685.3 608.5 685.5 609.2 685.7 609.9 686 610.6 686.4 611.3 687 612 687.7 612.7 688.2 613.4 688.3 614.1 688.2 614.8 688 615.5 687.8 616.2 687.5 616.9 687.2 617.6 686.9 618.3 686.5 619 686.2 619.7 686 620.4 686 621.1 686.2 621.8 686.5 622.5 686.9 623.2 687.3 623.9 687.7 624.6 688.2 625.3 688.7 626 689.4 626.7 690.1 627.4 691 628.1 692.2 628.8 693.4 629.5 694.2 630.2 695 630.9 695.7 631.6 696 632.3 695.3 633 693.9 633.7 692.6 634.4 691.1 635.1 689.8 635.8 688.6 636.5 687.5 637.2 686.6 637.9 685.8 638.6 685.7 639.3 685.7 640 685.7 640.7 685.8 641.4 685.9 642.1 686 642.8 686 643.5 686.1 644.2 686.2 644.9 686.2 645.6 686.3 646.3 686.4 647 686.5 647.7 686.6 648.4 686.6 649.1 686.6 649.8 686.7 650.5 686.7 651.2 686.6 651.9 686.6 652.6 686.6 653.3 686.5 654 686.4 654.7 686.4 655.4 686.3 656.1 686.2 656.8 686.2 657.5 686.1 658.2 686.1 658.9 686 659.6 686 660.3 686 661 686 661.7 686 662.4 686 663.1 686 663.8 686.1 664.5 686.1 665.2 686.1 665.9 686.1 666.6 686.2 667.3 686.2 668 686.2 668.7 686.2 669.4 686.3 670.1 686.3 670.8 686.3 671.5 686.3 672.2 686.3 672.9 686.3 673.6 686.3 674.3 686.3 675 686.3 675.7 686.3 676.4 686.3 677.1 686.3 677.8 686.3 678.5 686.3 679.2 686.3 679.9 686.3 680.6 686.3 681.3 686.3 682 686.3 682.7 686.2 683.4 686.2 684.1 686.2 684.8 686.2 685.5 686.2 686.2 686.1 686.9 686.1 687.6 686.1 688.3 686.1 689 686 689.7 686" fill="none" stroke="#4356a6" stroke-width="1.2" stroke-linejoin="round" stroke-dasharray="4 2.6"/>
<path d="M429.3 685.7 L 430 686.1 430.7 686.4 431.4 686.6 432.1 686.6 432.8 686.7 433.5 686.6 434.2 686.2 434.9 685.4 435.6 684.6 436.3 684.1 437 683.7 437.7 683.4 438.4 683.3 439.1 683.7 439.8 684.3 440.5 685 441.2 685.5 441.9 686 442.6 686.5 443.3 686.7 444 686.3 444.7 685.6 445.4 684.7 446.1 683.9 446.8 683 447.5 682.1 448.2 681.7 448.9 681.8 449.6 682.2 450.3 682.8 451 683.4 451.7 684.1 452.4 685.1 453.1 685.6 453.8 685.1 454.5 683 455.2 680.3 455.9 677.6 456.6 674.5 457.3 671.7 458 669.4 458.7 667.4 459.4 665.8 460.1 664.4 460.8 663.3 461.5 662.7 462.2 662.9 462.9 663.6 463.6 664.5 464.3 665.5 465 666.7 465.7 668.2 466.4 669.6 467.1 670.9 467.8 672.5 468.5 674 469.2 675.1 469.9 675.7 470.6 675.4 471.3 674.7 472 674.1 472.7 674.1 473.4 674.4 474.1 674.9 474.8 675.5 475.5 676.7 476.2 677.8 476.9 678.6 477.6 679.3 478.3 679.8 479 680 479.7 678.7 480.4 675.8 481.1 672.3 481.8 669.4 482.5 666.5 483.2 663.5 483.9 660.6 484.6 657.9 485.3 655.8 486 654.3 486.7 653.1 487.4 652.1 488.1 651.2 488.8 650.2 489.5 649.2 490.2 648.2 490.9 647.2 491.6 646.1 492.3 644.6 493 643 493.7 641.2 494.4 639.5 495.1 638.1 495.8 636.5 496.5 635.1 497.2 634.3 497.9 634.5 498.6 634.9 499.3 635.5 500 636 500.7 636.7 501.4 637.4 502.1 637.7 502.8 637.3 503.5 636.6 504.2 635.8 504.9 635.1 505.6 634.5 506.3 633.8 507 633.2 507.7 632.8 508.4 632.7 509.1 633.1 509.8 634 510.5 635.1 511.2 636.6 511.9 638.9 512.6 641.5 513.3 644.7 514 648.5 514.7 652.1 515.4 655.1 516.1 657.9 516.8 660.5 517.5 662.9 518.2 664.8 518.9 666.3 519.6 667.6 520.3 668.7 521 669.7 521.7 670.8 522.4 671.8 523.1 672.8 523.8 673.7 524.5 674.5 525.2 675.2 525.9 675.9 526.6 676.5 527.3 677 528 677.5 528.7 677.9 529.4 678.4 530.1 678.8 530.8 679.1 531.5 679.3 532.2 679.4 532.9 679.5 533.6 679.6 534.3 679.6 535 679.7 535.7 679.7 536.4 679.8 537.1 679.8 537.8 679.9 538.5 680 539.2 680.3 539.9 680.8 540.6 681.3 541.3 681.9 542 682.5 542.7 683 543.4 683.5 544.1 684.1 544.8 684.6 545.5 684.9 546.2 685 546.9 684.7 547.6 684.1 548.3 683.4 549 682.6 549.7 681.8 550.4 680.7 551.1 679.5 551.8 677.9 552.5 675.8 553.2 673.1 553.9 670.1 554.6 667 555.3 663.6 556 660 556.7 656.3 557.4 652.4 558.1 648.4 558.8 644.4 559.5 640.6 560.2 636.9 560.9 633.3 561.6 630.1 562.3 627.3 563 624.6 563.7 622.4 564.4 620.5 565.1 618.7 565.8 617.7 566.5 617.8 567.2 618.5 567.9 619.4 568.6 620.5 569.3 622.3 570 624.5 570.7 626.9 571.4 629.6 572.1 632.6 572.8 635.8 573.5 639.2 574.2 642.8 574.9 646.3 575.6 649.9 576.3 653.4 577 656.9 577.7 660.2 578.4 663.5 579.1 666.6 579.8 669.4 580.5 671.9 581.2 674.2 581.9 676.3 582.6 678.2 583.3 680.1 584 681.9 584.7 683.1 585.4 683.5 586.1 683.8 586.8 683.9 587.5 684 588.2 683.9 588.9 683.8 589.6 683.5 590.3 683.1 591 682.3 591.7 681.2 592.4 680.2 593.1 679.6 593.8 678.9 594.5 678.4 595.2 678.3 595.9 678.5 596.6 678.8 597.3 679.1 598 679.6 598.7 680.2 599.4 681 600.1 681.8 600.8 682.8 601.5 683.9 602.2 684.9 602.9 685.6 603.6 685.6 604.3 685.2 605 684.5 605.7 683.8 606.4 683.4 607.1 683 607.8 682.7 608.5 682.7 609.2 682.7 609.9 682.8 610.6 682.9 611.3 683.1 612 683.3 612.7 683.7 613.4 684.1 614.1 684.5 614.8 684.9 615.5 685.4 616.2 685.8 616.9 686.2 617.6 686.5 618.3 686.7 619 686.4 619.7 685.9 620.4 685.2 621.1 684.6 621.8 683.9 622.5 683.2 623.2 682.5 623.9 681.7 624.6 680.9 625.3 679.9 626 679 626.7 678.3 627.4 677.7 628.1 677.1 628.8 676.8 629.5 676.7 630.2 676.9 630.9 677.2 631.6 677.6 632.3 678.2 633 678.9 633.7 679.7 634.4 680.5 635.1 681.4 635.8 682.4 636.5 683.2 637.2 683.9 637.9 684.6 638.6 685.2 639.3 685.4 640 685.6 640.7 685.8 641.4 685.9 642.1 686 642.8 686 643.5 686 644.2 686 644.9 686 645.6 686 646.3 686 647 686 647.7 686 648.4 686.1 649.1 686.2 649.8 686.3 650.5 686.4 651.2 686.5 651.9 686.6 652.6 686.6 653.3 686.7 654 686.6 654.7 686.6 655.4 686.5 656.1 686.4 656.8 686.3 657.5 686.2 658.2 686.1 658.9 686 659.6 686 660.3 686 661 686 661.7 686.1 662.4 686.2 663.1 686.3 663.8 686.4 664.5 686.5 665.2 686.6 665.9 686.6 666.6 686.7 667.3 686.7 668 686.6 668.7 686.6 669.4 686.5 670.1 686.4 670.8 686.3 671.5 686.2 672.2 686.1 672.9 686 673.6 686 674.3 685.9 675 685.8 675.7 685.8 676.4 685.7 677.1 685.6 677.8 685.5 678.5 685.5 679.2 685.4 679.9 685.4 680.6 685.4 681.3 685.3 682 685.3 682.7 685.3 683.4 685.4 684.1 685.4 684.8 685.4 685.5 685.5 686.2 685.5 686.9 685.6 687.6 685.7 688.3 685.8 689 685.9 689.7 686" fill="none" stroke="#4356a6" stroke-width="1.7" stroke-linejoin="round"/>
<path d="M759.9 23.5 V752.5 H1020.5" fill="none" stroke="#111" stroke-width="1.9"/>
<text x="747.4" y="197" font-size="17.4" text-anchor="end" fill="#111">2</text>
<text x="747.4" y="114.6" font-size="17.4" text-anchor="end" fill="#111">4</text>
<text x="747.4" y="32.2" font-size="17.4" text-anchor="end" fill="#111">6</text>
<text x="747.4" y="439.8" font-size="17.4" text-anchor="end" fill="#111">2</text>
<text x="747.4" y="357.4" font-size="17.4" text-anchor="end" fill="#111">4</text>
<text x="747.4" y="275" font-size="17.4" text-anchor="end" fill="#111">6</text>
<text x="747.4" y="682.8" font-size="17.4" text-anchor="end" fill="#111">2</text>
<text x="747.4" y="600.4" font-size="17.4" text-anchor="end" fill="#111">4</text>
<text x="747.4" y="518" font-size="17.4" text-anchor="end" fill="#111">6</text>
<path d="M759.9 229.4H753.9M759.9 188.2H753.9M759.9 147H753.9M759.9 105.8H753.9M759.9 64.6H753.9M759.9 23.4H753.9M759.9 472.2H753.9M759.9 431H753.9M759.9 389.8H753.9M759.9 348.6H753.9M759.9 307.4H753.9M759.9 266.2H753.9M759.9 715.2H753.9M759.9 674H753.9M759.9 632.8H753.9M759.9 591.6H753.9M759.9 550.4H753.9M759.9 509.2H753.9M760.5 752.5V757.2M798.1 752.5V757.2M836.5 752.5V757.2M874.8 752.5V757.2M913.2 752.5V757.2M951.5 752.5V757.2M989.9 752.5V757.2" stroke="#111" stroke-width="1.5" fill="none"/>
<text x="760.2" y="781.6" font-size="16.6" text-anchor="middle" fill="#111">0</text>
<text x="836.5" y="781.6" font-size="16.6" text-anchor="middle" fill="#111">5</text>
<text x="913.2" y="781.6" font-size="16.6" text-anchor="middle" fill="#111">10</text>
<text x="989.9" y="781.6" font-size="16.6" text-anchor="middle" fill="#111">15</text>
<text x="899.9" y="803.4" font-size="17.5" text-anchor="middle" fill="#111" textLength="137.6" lengthAdjust="spacingAndGlyphs">Wavenumber,&#160; &#197;<tspan font-size="11" dy="-6">-1</tspan></text>
<text transform="translate(718.9 389) rotate(-90)" font-size="17.5" text-anchor="middle" fill="#111" textLength="148" lengthAdjust="spacingAndGlyphs">Radial distance,&#160; &#197;</text>
<clipPath id="cla"><rect x="763.8" y="24" width="256.2" height="230.8"/></clipPath>
<rect x="763.8" y="24" width="256.2" height="230.8" fill="#445ba8"/>
<g clip-path="url(#cla)"><g filter="url(#bl)">
<path d="M821.3 86.1 823.2 85.3 826.2 85.4 829.2 86.4 832.3 88.3 836.8 92.8 844.3 103.1 847.4 106.6 850.4 108.9 853.4 110 857.9 110.2 867 108.6 871.5 108.2 877.6 108.1 882.1 108.4 886.6 109.6 891.1 111.2 909.5 119.1 913.8 120.5 918.3 121.6 927.4 122.7 948.5 123.5 960.6 124.6 969.7 126 1021 135.6 1021 212.9 1011.9 219.8 1008.9 221.6 1005.9 222.9 999.9 224.6 984.8 227.5 980.2 228.7 978.7 229.4 977.2 230.3 976.4 231.8 977.2 233.3 980 236.3 980.3 237.8 978.6 239.3 977.2 239.7 972.6 240.8 966.6 241.4 951.5 242.4 930.4 243.1 882.1 243.5 823.2 244.5 796 244 779.4 243.2 762.8 241.9 762.8 174.8 768.8 170.7 776.4 166.2 801 153.7 807.5 149.2 810.3 146.2 811.8 143.2 812.7 138.6 812.8 132.6 812.2 114.6 812.4 108.6 813.1 102.6 814.6 96.6 816.4 92.1 818.7 88.4 820.2 86.9 821.3 86.1ZM857.9 222.8 849.3 224.3 851.4 225.8 860.9 226.8 870 227.3 883.6 227.6 898.7 227.3 910.8 226.6 919 225.8 920.9 224.3 910.9 222.8 898.7 222.1 883.6 221.9 868.5 222.2 857.9 222.8Z" fill="#465daa" fill-rule="evenodd"/>
<path d="M820.7 108.6 821.7 107.4 823.2 107.4 824.7 109.2 825.1 110.1 826.6 114.6 827.4 119.1 828.1 125.1 829.1 141.7 829.6 143.2 830.7 145.1 832.3 145.2 833.8 144.6 836.8 142 841.3 137 844.3 134.7 845.8 134 848.9 133.7 856.4 134.8 859.4 134.5 862.5 133.3 870 129 873 127.8 877.6 126.7 882.1 126.3 888.1 127.4 904.7 133.2 912.3 134.8 921.3 135.4 944 135.1 959.1 136.1 1004.4 141.9 1011.9 143.4 1021 145.7 1021 199.9 1015 204.2 1010.4 206.7 1005.9 208.5 999.9 209.7 980.2 210.8 968.4 212.2 953 215.2 938 218.7 930.6 219.8 918.3 220.4 883.6 220.8 868.5 221.2 856.4 221.9 846.8 222.8 840.3 224.3 841.6 225.8 851.2 227.3 860.9 228 882.1 228.9 907.8 229.5 920 230.3 927.5 231.8 931.7 233.3 934.8 234.8 936.3 236.3 935 237.8 928.9 239 918.3 239.9 901.7 240.4 841.3 240.8 800.5 240.1 762.8 237.9 762.8 184.1 771.9 176.5 779.4 171.4 788.5 166.4 811.1 155.4 812.6 154.5 814.1 153.1 815.6 149.8 816.2 146.2 817.1 128.1 818.1 117.6 819.4 111.6 820.2 109.4 820.7 108.6Z" fill="#475fab" fill-rule="evenodd"/>
<path d="M821.2 119.1 821.7 118.3 823.2 118.8 824.7 122.8 825.8 129.6 826.6 143.2 827.3 147.7 827.7 149.3 828.6 150.7 829.2 151.4 830.7 151.9 833.8 151.1 836.8 149.3 842.8 143.8 845.8 141.9 848.9 141.3 856.4 142.8 859.4 142.9 860.9 142.6 864 141.6 871.5 137.6 874.5 136.4 879.1 135.2 882.1 135 888.1 135.8 903.2 140 909.3 141 916.8 141.4 936.4 140.9 948.5 141.3 959.1 142.2 978.3 144.7 999.9 147 1005.9 147.9 1010.4 149 1015 150.5 1021 152.8 1021 192.3 1014.8 197.2 1008.9 200.9 1005.9 202.1 1001.4 203.3 974.2 206.5 944 212.9 925.9 216.1 909.3 218.3 889.6 219.5 862.5 220.6 848.9 221.4 836.1 222.8 830.5 224.3 831.4 225.8 841.3 227.6 857.9 229.2 876.1 230.3 891.8 231.8 895.7 232.6 899 233.3 902.1 234.8 901.5 236.3 894.2 237.6 879.1 238.3 864 238.7 824.7 238.6 791.5 237.4 762.8 235.3 762.8 190.3 774.9 179.6 782.4 174.1 793 168.1 812.6 158.9 814.1 157.9 815.3 156.7 816.8 153.7 817.5 150.7 818 146.2 818.9 128.1 820.2 121.1 821.2 119.1Z" fill="#4a62ae" fill-rule="evenodd"/>
<path d="M821.2 128.1 821.7 126.9 823.2 128.1 824.3 134.1 825 144.7 825.6 149.2 826.2 151.6 827.3 153.7 827.7 154.3 829.2 155.3 830.7 155.4 832.3 155.1 835.7 153.7 838.3 152.1 844.3 147.5 847.4 146.3 850.4 146.2 857.9 147.5 860.9 147.3 864.8 146.2 873 142.6 876 141.6 880.6 140.7 883.6 140.6 888.1 141.2 901.7 144.2 907.8 145 915.3 145.4 934.9 144.9 947 145.3 954.6 145.9 978.7 149.1 998.4 151.2 1004.4 152.2 1010.4 153.9 1016.5 156.6 1021 159.5 1021 185.5 1016.9 189.7 1013.4 192.7 1010.4 194.9 1005.9 197.3 1002.9 198.3 998.4 199.3 980.5 201.7 972.7 203.2 945.5 210 930.4 213 909.3 216.2 888.1 218.2 836.3 221.3 822.7 222.8 815.5 224.3 816.4 225.8 826.2 227.7 838.3 229.3 862.1 231.8 868.4 233.3 868.8 234.8 859.5 236.3 842.8 236.7 823.2 236.5 791.5 235.1 773.5 233.3 767.2 231.8 765.6 230.3 767.8 228.8 777.8 225.8 781.4 224.3 782.5 222.8 781.1 221.3 777 219.8 762.8 217.1 762.8 194.8 767.6 191.2 778.8 180.7 785.4 175.7 796 169.5 812.6 161.8 814.1 161 815.6 159.7 817.5 156.7 818.7 152.2 819.4 146.2 820.1 132.6 821.2 128.1Z" fill="#4f67b1" fill-rule="evenodd"/>
<path d="M821.6 143.2 821.7 141.9 822.3 144.7 823.2 146.7 823.9 150.7 825.8 155.2 827.7 157.3 829.2 157.8 832.3 157.5 835.3 156.4 838.3 154.9 844.3 150.9 847.4 149.8 850.4 149.6 857.9 150.6 860.9 150.4 865.5 149.3 876 145.7 882.1 144.7 888.1 145.1 901.7 147.5 909.3 148.2 916.8 148.3 936.4 148 950 148.8 975.7 152.4 998.4 155 1004.4 156.2 1008.9 157.7 1012.7 159.7 1016.6 162.7 1019.2 165.7 1021 169.4 1021 175.9 1020.4 177.7 1018.9 180.7 1016.8 183.7 1012.7 188.2 1010.4 190.1 1007.4 192.2 1004.4 193.6 1001.4 194.6 995.3 196 977.2 199.1 969.7 201 959.1 204 948.5 207 936.4 210 922.9 212.6 910.8 214.4 895.7 216.2 880.6 217.5 850.4 219.3 821.7 220.5 811.1 220.2 802.1 219.3 784 216.7 762.8 214.2 762.8 198.6 769 194.2 781.2 182.2 788.5 176.6 797.5 171.2 803.6 168.2 812.6 164.1 815.6 162.3 817.6 159.7 819.5 155.2 820.9 149.2 821.6 143.2Z" fill="#546cb5" fill-rule="evenodd"/>
<path d="M874.4 149.2 879.1 148.2 883.6 147.9 888.1 148.1 901.7 150 908.9 150.7 933.4 150.5 944 151 953.1 151.9 975.7 155.6 995.3 158.1 1003 159.7 1005.9 160.7 1008.9 162.2 1011.6 164.2 1013 165.7 1014.2 167.2 1015.6 170.2 1016 171.7 1016.1 174.7 1015.4 177.7 1013.9 180.7 1011.8 183.7 1008.9 186.6 1005.9 188.8 1002.9 190.3 995.3 192.5 981.7 195.2 974.2 197 947 205.5 934.9 208.7 918.3 211.9 895.7 215 879.1 216.5 859.4 217.9 841.3 218.7 823.2 218.8 805.1 217.3 771.9 213.2 762.8 211.5 762.8 202.7 768.8 198.3 771.8 195.7 783.1 183.7 790 178.1 799 172.5 813.4 165.7 815.6 164.3 817.2 162.8 818.3 161.2 821.7 154.6 823.2 155 825.7 158.2 827.7 159.6 829.2 159.9 830.7 159.7 835.8 158.2 839 156.7 844.3 153.6 847.4 152.5 850.4 152.3 856.4 152.9 860.9 152.8 864.2 152.2 874.4 149.2Z" fill="#5e75ba" fill-rule="evenodd"/>
<path d="M879.4 150.7 882.1 150.4 886.6 150.5 901.7 152.2 909.3 152.7 938 152.9 945.5 153.5 953.1 154.5 975.7 158.7 993.8 161.4 999.9 162.7 1004.4 164.4 1007.4 166.4 1009.5 168.7 1011 171.7 1011.3 173.2 1011.1 176.2 1010 179.2 1008.9 180.9 1006.5 183.7 1004.5 185.2 1001.7 186.7 998.4 188 975.7 193.9 947 203.7 933.4 207.6 924.4 209.6 915.3 211.3 892.7 214.3 873 216.1 850.4 217.4 836.8 217.7 821.7 217.4 805.1 215.8 777.9 212 770.3 210.3 767.6 209.2 766.5 207.7 766.5 206.2 768.6 203.2 774.9 196.7 783.2 186.7 787.9 182.2 793 178.2 799 174.4 815.6 166 817.6 164.2 821.7 158.6 823.2 158.6 826.2 160.8 827.7 161.4 830.7 161.4 836.2 159.7 844.3 155.7 847.4 154.7 850.4 154.4 857.9 154.8 860.9 154.7 866.3 153.7 874.5 151.5 879.4 150.7Z" fill="#677ebf" fill-rule="evenodd"/>
<path d="M873.9 153.7 879.1 152.8 885.1 152.5 907.8 154.5 933.4 154.8 947 155.9 956.1 157.5 975.7 161.8 995.3 165.6 999.8 167.2 1002.6 168.7 1004.3 170.2 1005.3 171.7 1005.9 173.2 1006.1 174.7 1005.9 176.2 1004.5 179.2 1003.1 180.7 1001.2 182.2 995.3 185.1 975.7 191.2 950 200.9 936.4 205.3 928.9 207.4 918.3 209.7 900.2 212.6 879.1 214.8 857.9 216.2 841.3 216.8 823.2 216.5 803.6 214.5 783.9 211.2 776.8 209.2 774.5 207.7 773.6 206.2 773.6 204.7 774.1 203.2 775.9 200.2 783.5 189.7 789 183.7 793 180.3 799.1 176.2 805.1 172.8 815.6 167.6 817.2 166.3 821.7 161.2 823.2 161.1 826.2 162.5 827.7 162.9 830.7 162.8 836 161.2 844.3 157.5 847.4 156.5 850.4 156.2 857.9 156.5 860.9 156.3 873.9 153.7Z" fill="#7388c5" fill-rule="evenodd"/>
<path d="M874.8 155.2 880.6 154.4 886.6 154.3 907.8 156.1 934.9 156.8 947 158.1 959.1 160.6 989.6 168.7 993.4 170.2 995.9 171.7 997.3 173.2 998 174.7 997.9 176.2 997.1 177.7 995.7 179.2 993.6 180.7 990.8 182.2 947 200.4 936.4 204 924.4 207.3 910.8 210.1 896.4 212.2 874.5 214.5 853.4 215.8 838.3 216 823.2 215.6 803.6 213.4 789 210.7 784 209.2 781.1 207.7 779.5 206.2 778.8 204.7 778.7 203.2 779.1 201.7 781.2 197.2 786 189.7 790 185.2 795.1 180.7 800.5 176.9 806.6 173.5 815.6 169 817.2 167.8 821.7 163.3 823.2 163 826.2 164 829.2 164.3 835.4 162.7 844.3 159 847.4 158.1 850.4 157.8 860.9 157.7 874.8 155.2Z" fill="#8095cc" fill-rule="evenodd"/>
<path d="M874.5 156.7 882.1 155.9 888.1 156 907.8 157.5 933.4 158.5 945.5 159.9 957.9 162.7 971.7 167.2 979.1 170.2 982.1 171.7 984.3 173.2 985.6 174.7 986 176.2 985.5 177.7 984.2 179.2 980.2 182.2 972.3 186.7 963.7 191.2 954.2 195.7 945.5 199.4 931.9 204.1 919.8 207.3 906.2 210.1 890.4 212.2 870 214.2 851.9 215.1 838.3 215.3 821.7 214.8 805.1 212.7 797.5 211.4 791.5 209.8 788.5 208.8 785.4 207.2 784.2 206.2 783.1 204.7 782.7 203.2 782.9 200.2 784.7 195.7 788.4 189.7 792.3 185.2 796 181.8 801.8 177.7 806.6 174.9 815.6 170.3 821.7 165 823.2 164.7 826.2 165.4 829.2 165.5 834.3 164.2 844.3 160.3 847.4 159.5 850.4 159.1 860.9 158.9 874.5 156.7Z" fill="#8ea1d3" fill-rule="evenodd"/>
<path d="M873.2 158.2 880.6 157.3 888.1 157.3 907.8 158.8 931.9 160 944 161.5 950 162.8 956.1 164.5 962.1 166.7 966.8 168.7 972.1 171.7 974 173.2 975.3 174.7 975.9 176.2 975.9 177.7 975.4 179.2 974.3 180.7 972.9 182.2 969.1 185.2 964.6 188.2 956.5 192.7 943.4 198.7 930.4 203.4 916.8 207.1 901.7 210 886.6 212 871.5 213.4 850.4 214.6 836.8 214.7 821.7 214.1 805.1 211.9 799.6 210.7 794.5 209.3 790.6 207.7 788.3 206.2 786.9 204.7 786.1 203.2 785.8 201.7 786.1 198.7 787.8 194.2 790.6 189.7 794.4 185.2 797.7 182.2 801.8 179.2 806.7 176.2 815.6 171.4 821.7 166.5 823.2 166.1 827.7 166.7 830.7 166.2 836.8 164.4 844.3 161.5 847.4 160.7 850.4 160.3 860.9 160 873.2 158.2Z" fill="#9fafdb" fill-rule="evenodd"/>
<path d="M870.9 159.7 879.1 158.7 888.1 158.6 906.2 160 928.9 161.3 939.5 162.6 950 164.9 956.1 166.9 960.1 168.7 965.3 171.7 967 173.2 968.3 174.7 969.1 176.2 969.3 177.7 969.1 179.2 968.5 180.7 966.1 183.7 962.5 186.7 958.1 189.7 952.8 192.7 941 198.3 927.4 203.2 913.8 206.9 898.7 209.8 883.6 211.8 868.5 213.1 848.9 214.1 835.3 214.1 820.2 213.3 806.6 211.3 797.5 209 794.4 207.7 791.8 206.2 790.1 204.7 789.1 203.2 788.6 201.7 788.6 198.7 790 194.2 792.6 189.7 796.4 185.2 799.8 182.2 803.6 179.5 808.1 176.7 815.6 172.6 821.7 167.8 823.2 167.5 827.7 167.7 830.7 167.3 847.4 161.8 850.4 161.4 860.9 161.1 870.9 159.7Z" fill="#b0bee2" fill-rule="evenodd"/>
<path d="M881.9 159.7 891.1 159.9 925.9 162.5 934.9 163.5 942.5 164.9 951.5 167.6 956.1 169.6 959.6 171.7 962.8 174.7 963.7 176.2 964.1 177.7 964.1 179.2 963.7 180.7 961.7 183.7 958.6 186.7 954.5 189.7 949.4 192.7 943.5 195.7 931.9 200.5 918.3 204.9 904.7 208 891.1 210.3 872.7 212.2 853.4 213.4 838.3 213.6 821.7 212.8 809.6 211.1 801.8 209.2 797.7 207.7 794.9 206.2 793 204.7 791.9 203.2 791.2 201.7 790.9 200.2 791.1 197.2 792 194.2 794.5 189.7 796.9 186.7 800 183.7 806 179.2 815.6 173.7 821.7 169.1 823.2 168.7 827.7 168.7 830.7 168.2 844.3 163.6 847.4 162.8 850.4 162.4 860.9 162 874.5 160.2 881.9 159.7Z" fill="#c0cce9" fill-rule="evenodd"/>
<path d="M875.1 161.2 882.1 160.7 891.1 161 925.9 163.8 938.4 165.7 947 168.1 951.5 170 954.5 171.7 958 174.7 959.1 176.3 959.6 177.7 959.8 179.2 959.5 180.7 957.9 183.7 956.6 185.2 953.2 188.2 948.8 191.2 943.5 194.2 931.9 199.4 919.8 203.5 906.2 207 892.7 209.4 876 211.4 859.4 212.7 844.3 213.2 829.2 212.8 817.2 211.6 811.1 210.6 805.2 209.2 800.8 207.7 797.8 206.2 795.8 204.7 794.4 203.2 793.6 201.7 793 198.7 793.4 195.7 795.4 191.2 797.4 188.2 800.2 185.2 805.7 180.7 815.6 174.7 821.7 170.2 823.2 169.8 827.7 169.7 830.7 169.1 844.3 164.5 847.4 163.8 850.4 163.4 862.5 162.8 875.1 161.2Z" fill="#d0d9ef" fill-rule="evenodd"/>
<path d="M870.2 162.7 880.6 161.7 889.6 161.9 921.3 164.6 933.4 166.3 943 168.7 946.8 170.2 949.8 171.7 953.7 174.7 954.8 176.2 955.6 177.7 955.9 179.2 955.8 180.7 954.4 183.7 953.3 185.2 950.1 188.2 945.8 191.2 940.6 194.2 930.7 198.7 918.3 203.1 906.2 206.3 892.7 208.8 877.8 210.7 862.5 212 845.8 212.7 833.8 212.5 820.2 211.5 808.5 209.2 802.1 207 799 205.3 797.5 204 795.8 201.7 795.2 200.2 795 197.2 795.7 194.2 798.1 189.7 800.4 186.7 803.6 183.7 806.6 181.3 815.6 175.7 821.7 171.3 823.2 170.8 827.7 170.6 830.7 169.9 844.3 165.4 847.4 164.7 850.4 164.3 860.9 163.7 870.2 162.7Z" fill="#e0e6f5" fill-rule="evenodd"/>
<path d="M880.5 162.7 892.7 163 918.3 165.5 928.9 166.9 937.2 168.7 941.8 170.2 945.1 171.7 947.7 173.2 949.6 174.7 950.9 176.2 951.8 177.7 952.2 179.2 952.3 180.7 951.9 182.2 951.2 183.7 948.8 186.7 943 191.2 937.8 194.2 933.4 196.4 921.3 201.2 909.4 204.7 897.2 207.5 883.6 209.6 868.5 211.1 850.4 212.2 836.8 212.1 823.2 211.3 812.6 209.5 806.5 207.7 803.1 206.2 800.5 204.6 799 203.2 797.9 201.7 797.2 200.2 796.9 198.7 797.1 195.7 798 192.7 799.7 189.7 803.6 185.2 808.1 181.5 815.6 176.7 821.7 172.3 823.2 171.8 829.2 171.1 844.3 166.3 848.9 165.3 860.9 164.5 874.5 163 880.5 162.7Z" fill="#eaeef8" fill-rule="evenodd"/>
<path d="M871.6 164.2 882.1 163.5 891.1 163.8 916.8 166.4 930.4 168.5 938 170.7 943.5 173.2 945.6 174.7 947.2 176.2 948.2 177.7 948.8 179.2 948.9 180.7 948.7 182.2 947.1 185.2 945.8 186.7 942.4 189.7 935.1 194.2 925.3 198.7 913.8 202.7 901.7 205.9 889.6 208.2 874.5 210.1 859.4 211.3 844.3 211.8 832.3 211.5 820.2 210.3 814.8 209.2 809.6 207.9 805.5 206.2 803.6 205.1 801.1 203.2 799.9 201.7 799.1 200.2 798.6 197.2 798.8 195.7 799.7 192.7 801.3 189.7 803.7 186.7 808.8 182.2 815.6 177.7 821.7 173.3 823.2 172.8 830.2 171.7 842.8 167.5 847.4 166.3 851.9 165.8 860.9 165.3 871.6 164.2Z" fill="#f3f6fb" fill-rule="evenodd"/>
<path d="M864.9 165.7 877.6 164.5 888.1 164.5 906.2 166.2 922.9 168.4 931.9 170.4 935.9 171.7 939.3 173.2 941.7 174.7 943.5 176.2 944.7 177.7 945.5 179.2 945.8 180.7 945.6 182.2 945.1 183.7 944.3 185.2 941.6 188.2 935.3 192.7 926.3 197.2 915.3 201.4 904.7 204.5 892.7 207.1 879.1 209.1 865.5 210.4 848.9 211.3 836.8 211.2 823.2 210.2 814.1 208.4 807.9 206.2 805.1 204.7 803.1 203.2 801.8 201.7 800.9 200.2 800.3 197.2 800.7 194.2 801.9 191.2 804 188.2 808.5 183.7 821.7 174.3 823.2 173.7 829.2 172.7 844.3 167.8 847.4 167.1 851.9 166.5 864.9 165.7Z" fill="#f9fbfd" fill-rule="evenodd"/>
<path d="M872 165.7 882.1 165.2 892.7 165.7 912.3 167.9 925.7 170.2 931.9 171.9 935.1 173.2 938 174.7 940 176.2 941.4 177.7 942.5 180 942.7 182.2 941.5 185.2 940.4 186.7 937.2 189.7 930.1 194.2 919.8 198.9 909.3 202.5 897.2 205.6 885.1 207.8 871.5 209.5 854.9 210.7 844.3 211 832.3 210.5 821.7 209.4 814.1 207.6 810.2 206.2 807.2 204.7 805.1 203.2 803.7 201.7 802.7 200.2 801.9 197.2 802 195.7 802.7 192.7 804.3 189.7 806.8 186.7 810 183.7 821.7 175.2 823.2 174.6 829.2 173.5 842.8 169 847.4 167.8 872 165.7Z" fill="#fcfdfe" fill-rule="evenodd"/>
<path d="M864 167.2 876 166.1 886.6 166.1 901.7 167.5 918.3 169.9 927.4 172 930.9 173.2 934.1 174.7 936.5 176.2 938.1 177.7 939.1 179.2 939.7 180.7 939.9 182.2 939.6 183.7 938.9 185.2 936.4 188.2 932.7 191.2 930.4 192.7 921.5 197.2 912.3 200.8 901.7 203.9 889.6 206.5 877.6 208.3 862.5 209.8 847.4 210.5 835.3 210.3 824.3 209.2 817 207.7 812.5 206.2 809.6 204.9 807 203.2 805.5 201.7 804.4 200.2 803.8 198.7 803.5 197.2 803.8 194.2 804.9 191.2 806.9 188.2 811.5 183.7 821.7 176.1 823.2 175.5 829.2 174.2 842.8 169.7 847.4 168.6 851.9 168 864 167.2Z" fill="#ffffff" fill-rule="evenodd"/>
<path d="M871.2 167.2 880.6 166.7 891.1 167.2 907.8 169.1 919.8 171.3 927.4 173.5 930.3 174.7 933 176.2 934.8 177.7 936.1 179.2 936.8 180.7 937.1 182.2 936.9 183.7 936.3 185.2 935.3 186.7 932.4 189.7 925.5 194.2 915.6 198.7 906.2 201.9 895.5 204.7 883.6 207 870 208.7 854.9 209.8 844.3 210.1 832.3 209.6 821.7 208.2 814.7 206.2 811.3 204.7 808.9 203.2 807.2 201.7 806.1 200.2 805.4 198.7 805 195.7 805.2 194.2 806.3 191.2 809.7 186.7 813 183.7 821.7 177 823.2 176.4 829.2 175 842.8 170.4 847.4 169.3 851.9 168.7 871.2 167.2Z" fill="#fffffb" fill-rule="evenodd"/>
<path d="M861.9 168.7 874.5 167.6 883.6 167.5 894.2 168.2 908.6 170.2 918.3 172.1 926.5 174.7 929.5 176.2 931.7 177.7 933.1 179.2 934 180.7 934.4 182.2 934.3 183.7 933.8 185.2 931.6 188.2 928.1 191.2 920.3 195.7 910.8 199.7 900.2 202.9 889.6 205.4 876 207.6 862.5 208.9 848.9 209.7 838.3 209.5 827.7 208.6 820.2 207.3 813.3 204.7 810.7 203.2 808.9 201.7 807.7 200.2 806.9 198.7 806.5 197.2 806.6 194.2 807.1 192.7 808.6 189.7 812.6 185.2 821.7 177.9 823.2 177.2 829.2 175.7 845.8 170.3 851.9 169.3 861.9 168.7Z" fill="#fffff8" fill-rule="evenodd"/>
<path d="M869.3 168.7 879.1 168.2 889.6 168.6 903.1 170.2 915.3 172.5 922.7 174.7 926.1 176.2 928.5 177.7 930.1 179.2 931.2 180.7 931.7 182.2 931.7 183.7 931.3 185.2 930.5 186.7 929.3 188.2 925.9 191.2 918.2 195.7 911.1 198.7 902.2 201.7 891.1 204.5 880.6 206.4 868.5 208 853.4 209.1 844.3 209.3 833.8 208.8 823.2 207.3 818.7 206.1 815.3 204.7 812.6 203.2 810.6 201.7 809.3 200.2 808.4 198.7 807.9 195.7 808.4 192.7 809.1 191.2 811.1 188.2 814 185.2 819.1 180.7 821.7 178.8 823.2 178.1 829.2 176.4 841.3 172.3 847.4 170.6 851.9 170 869.3 168.7Z" fill="#fffff1" fill-rule="evenodd"/>
<path d="M858 170.2 873 169.1 880.6 168.8 889.6 169.3 900.2 170.6 910.8 172.5 918.9 174.7 922.7 176.2 925.4 177.7 927.2 179.2 928.4 180.7 929.1 182.2 929.3 183.7 928.9 185.2 927.1 188.2 923.8 191.2 916.8 195.3 909 198.7 899.8 201.7 889.6 204.3 878.6 206.2 866.2 207.7 851.9 208.7 841.3 208.8 832.3 208.1 823.2 206.7 817.2 204.7 814.4 203.2 812.3 201.7 810.9 200.2 809.9 198.7 809.4 197.2 809.4 194.2 810.4 191.2 811.3 189.7 815.3 185.2 821.7 179.7 823.2 178.9 829.2 177.2 845.8 171.6 850.4 170.8 858 170.2Z" fill="#fffee8" fill-rule="evenodd"/>
<path d="M866.4 170.2 877.6 169.5 886.6 169.8 897.2 170.9 909.3 173.1 916.8 175.3 922.3 177.7 924.4 179.2 925.7 180.7 926.5 182.2 926.8 183.7 926.6 185.2 926 186.7 923.5 189.7 919.5 192.7 916.9 194.2 910.6 197.2 902.5 200.2 891.7 203.2 880.6 205.4 870 206.9 854.9 208.2 844.3 208.4 833.8 207.8 824.7 206.4 819 204.7 816.1 203.2 814 201.7 812.4 200.2 811.4 198.7 810.6 195.7 811.1 192.7 811.7 191.2 813.7 188.2 819.6 182.2 821.7 180.6 823.2 179.8 845.8 172.2 851.9 171.2 866.4 170.2Z" fill="#fffdde" fill-rule="evenodd"/>
<path d="M853.4 171.7 877.6 170.2 885.1 170.4 894.2 171.3 905.3 173.2 913.8 175.5 919.2 177.7 921.5 179.2 923.1 180.7 924 182.2 924.4 183.7 924.3 185.2 923.7 186.7 921.4 189.7 917.4 192.7 914.9 194.2 908.6 197.2 900.3 200.2 891.1 202.8 881.6 204.7 870 206.4 857.9 207.5 847.4 208 838.3 207.7 829.2 206.7 821.7 205 817.8 203.2 815.6 201.7 814 200.2 812.9 198.7 812.3 197.2 812 195.7 812.1 194.2 813 191.2 816.2 186.7 819 183.7 821.7 181.5 824.7 180.1 842.8 173.7 847.4 172.5 853.4 171.7Z" fill="#fffcd0" fill-rule="evenodd"/>
<path d="M862.5 171.7 874.5 170.9 882.1 170.9 891.1 171.6 901.1 173.2 909.3 175.2 916.1 177.7 918.7 179.2 920.4 180.7 921.5 182.2 922 183.7 922 185.2 921.6 186.7 919.3 189.7 915.4 192.7 907.8 196.7 900.2 199.6 891.1 202.2 880.6 204.4 871.5 205.8 860.9 206.9 848.9 207.6 839.8 207.4 832.3 206.6 823.2 204.8 819.5 203.2 817.1 201.7 815.5 200.2 814.3 198.7 813.6 197.2 813.4 194.2 813.7 192.7 815.1 189.7 817.3 186.7 820.1 183.7 823.2 181.5 838.3 175.9 845.8 173.4 851.9 172.4 862.5 171.7Z" fill="#fffbc2" fill-rule="evenodd"/>
<path d="M871.2 171.7 880.6 171.5 888.1 172 897.2 173.3 906.2 175.3 912.3 177.4 915.9 179.2 917.8 180.7 919.1 182.2 919.7 183.7 919.8 185.2 919.4 186.7 918.6 188.2 915.6 191.2 910.8 194.3 901.7 198.3 892.7 201.2 884 203.2 874.5 204.9 863.3 206.2 851.9 207 842.8 207.1 833.4 206.2 824.7 204.5 820.2 202.7 816.9 200.2 815.7 198.7 815 197.2 814.7 195.7 815 192.7 815.5 191.2 817.3 188.2 819.7 185.2 821.7 183.4 824.7 181.8 836.8 177.1 844.3 174.5 848.9 173.4 854.9 172.8 871.2 171.7Z" fill="#fffab4" fill-rule="evenodd"/>
<path d="M857.1 173.2 877.6 172.1 885.1 172.4 892.7 173.3 901.7 175.1 909.3 177.4 913.1 179.2 915.2 180.7 916.6 182.2 917.4 183.7 917.6 185.2 917.3 186.7 916.5 188.2 913.6 191.2 909 194.2 902.5 197.2 893.8 200.2 885.1 202.4 874.5 204.4 864 205.7 853.4 206.5 845.8 206.7 837.6 206.2 829.2 204.9 823.2 203.3 820.2 201.7 818.3 200.2 817.1 198.7 816.3 197.2 815.9 195.7 815.9 194.2 816.7 191.2 819.5 186.7 822.7 183.7 833.8 178.9 844.3 175.1 850.4 173.8 857.1 173.2Z" fill="#fff8a2" fill-rule="evenodd"/>
<path d="M866.1 173.2 876 172.8 883.6 173 892.7 174.1 900.2 175.6 907 177.7 910.8 179.5 912.7 180.7 914.2 182.2 915.1 183.7 915.4 185.2 915.2 186.7 914.5 188.2 911.6 191.2 907 194.2 900.6 197.2 892.7 199.9 885.1 201.9 876 203.7 865.5 205.1 853.4 206.1 845.8 206.3 838.3 205.8 830.7 204.6 824.7 203 821.8 201.7 820.2 200.6 818.4 198.7 817.6 197.2 817.1 194.2 817.3 192.7 818.5 189.7 820.2 187.1 821.7 185.5 824.7 183.6 833.8 179.6 841.3 176.7 847.4 174.9 853.4 174 866.1 173.2Z" fill="#fff68f" fill-rule="evenodd"/>
<path d="M852.6 174.7 874.5 173.4 882.1 173.6 888.1 174.1 897.2 175.7 904 177.7 907.8 179.3 910.1 180.7 911.8 182.2 912.9 183.7 913.3 185.2 913.1 186.7 912.5 188.2 909.7 191.2 905.1 194.2 898.6 197.2 892.7 199.3 885.1 201.3 876 203.2 865.5 204.6 854.9 205.6 847.4 205.8 841.3 205.6 834.2 204.7 827.8 203.2 823.2 201.5 821.2 200.2 819.7 198.7 818.8 197.2 818.3 195.7 818.4 192.7 819.5 189.7 820.5 188.2 821.7 186.7 823.2 185.5 832.7 180.7 840.1 177.7 845.8 175.9 852.6 174.7Z" fill="#fff47d" fill-rule="evenodd"/>
<path d="M860.8 174.7 871.5 174.1 879.1 174.1 886.6 174.7 894.2 175.9 901 177.7 906.2 179.9 909.5 182.2 910.6 183.7 911.1 185.2 911.1 186.7 910.5 188.2 909.4 189.7 905.8 192.7 900.2 195.7 894.2 198.1 887.1 200.2 879.1 202.1 870 203.6 859.9 204.7 850.4 205.3 842.8 205.2 836.8 204.6 830.2 203.2 824.7 201.3 822.8 200.2 821 198.7 820 197.2 819.5 195.7 819.3 194.2 819.9 191.2 821.6 188.2 823.2 186.6 828.2 183.7 837.9 179.2 845.8 176.5 851.9 175.4 860.8 174.7Z" fill="#fff16c" fill-rule="evenodd"/>
<path d="M871.9 174.7 879.1 174.7 886.6 175.4 894.2 176.7 900.2 178.5 905.1 180.7 907.8 183 909 185.2 909 186.7 908.5 188.2 907.5 189.7 905.9 191.2 901.3 194.2 895.7 196.8 890.2 198.7 883.6 200.5 874.5 202.4 865.5 203.7 856.4 204.5 848.9 204.9 841.3 204.6 833.8 203.5 827.7 201.7 824.6 200.2 823.2 199.3 821.3 197.2 820.7 195.7 820.5 194.2 820.6 192.7 821.7 189.9 823 188.2 824.7 186.7 829.8 183.7 835.9 180.7 844.3 177.5 848.9 176.4 853.4 175.8 871.9 174.7Z" fill="#ffed5d" fill-rule="evenodd"/>
<path d="M855 176.2 874.5 175.3 880.6 175.5 887.2 176.2 894.2 177.6 899.2 179.2 903.2 181.2 904.7 182.2 906.1 183.7 906.9 185.2 907 186.7 906.5 188.2 905.5 189.7 904 191.2 899.4 194.2 894.2 196.6 888 198.7 880.6 200.6 873 202.1 864 203.4 853.4 204.3 847.4 204.4 841.3 204.1 835.6 203.2 830.1 201.7 826.2 200 824.2 198.7 822.8 197.2 822 195.7 821.7 194.2 822.3 191.2 823.1 189.7 824.5 188.2 826.4 186.7 834.2 182.2 841.3 179.1 847.4 177.3 855 176.2Z" fill="#fee84d" fill-rule="evenodd"/>
<path d="M864.8 176.2 873 175.9 880.6 176.2 886.6 176.9 892.7 178.1 898.7 180.2 902.3 182.2 903.9 183.7 904.8 185.2 905 186.7 904.6 188.2 903.6 189.7 902.1 191.2 897.5 194.2 891.1 197 885.8 198.7 877.6 200.7 871.5 201.9 862.5 203.1 853.4 203.8 845.8 203.9 838.9 203.2 833.8 202.1 828.5 200.2 826 198.7 824.7 197.6 823.4 195.7 823.1 194.2 823.2 192.7 823.7 191.2 824.7 189.7 828.1 186.7 832.8 183.7 839.8 180.4 845.8 178.3 850.4 177.3 864.8 176.2Z" fill="#fee43e" fill-rule="evenodd"/>
<path d="M851.8 177.7 871.5 176.6 877.6 176.7 883.6 177.2 889.6 178.3 894.2 179.5 898.7 181.5 901.7 183.7 902.6 185.2 902.9 186.7 902.6 188.2 901.7 189.7 900.2 191.2 898.2 192.7 892.7 195.6 888.4 197.2 880.6 199.5 873 201.1 865.5 202.2 854.9 203.2 848.9 203.4 843.7 203.2 838.3 202.5 833.8 201.4 829.2 199.5 826.1 197.2 825 195.7 824.6 194.2 824.7 192.7 825.3 191.2 826.3 189.7 829.6 186.7 834.3 183.7 840.7 180.7 845.8 178.9 851.8 177.7Z" fill="#fddb3a" fill-rule="evenodd"/>
<path d="M859 177.7 874.5 177.2 880.6 177.6 885.1 178.2 890 179.2 894.5 180.7 897.5 182.2 899.4 183.7 900.5 185.2 900.9 186.7 900.6 188.2 899.8 189.7 898.3 191.2 896.3 192.7 893.7 194.2 888.1 196.6 881.1 198.7 874.6 200.2 867 201.5 851.9 202.9 845.8 202.8 841.3 202.4 836.8 201.6 832.3 200.1 829.2 198.4 827.8 197.2 826.7 195.7 826.2 194.2 826.3 192.7 826.8 191.2 827.9 189.7 831.1 186.7 835.8 183.7 842.4 180.7 847.1 179.2 851.9 178.3 859 177.7Z" fill="#fcd136" fill-rule="evenodd"/>
<path d="M850 179.2 856.4 178.4 867 177.9 873 177.8 879.1 178.2 885.1 179 889.6 180.1 894.2 181.8 897.1 183.7 898.3 185.2 898.8 186.7 898.6 188.2 897.8 189.7 896.4 191.2 892.7 193.7 888.3 195.7 883.6 197.3 876 199.3 870 200.5 860.9 201.7 853.4 202.3 847.4 202.4 842.8 202 838.3 201.2 834.7 200.2 830.7 198.2 829.5 197.2 828.3 195.7 827.8 194.2 827.9 192.7 828.4 191.2 830.7 188.2 834.7 185.2 839.8 182.5 844.3 180.7 850 179.2Z" fill="#fbc832" fill-rule="evenodd"/>
<path d="M854.6 179.2 870 178.5 876 178.7 881.6 179.2 886.6 180.2 891.1 181.7 894.7 183.7 896.1 185.2 896.7 186.7 896.6 188.2 895.9 189.7 894.5 191.2 892.4 192.7 886.6 195.5 881.7 197.2 876 198.7 870 199.9 854.9 201.7 848.9 201.9 844.3 201.6 839.8 200.9 835.3 199.5 832.3 198 831.2 197.2 829.9 195.7 829.4 194.2 829.4 192.7 829.9 191.2 832.2 188.2 835.3 185.8 838.9 183.7 844.3 181.3 848.9 180.1 854.6 179.2Z" fill="#fabb30" fill-rule="evenodd"/>
<path d="M867 179.2 877.6 179.5 882.1 180.1 886.6 181.2 889.4 182.2 892.7 184.1 893.8 185.2 894.6 186.7 894.6 188.2 893.8 189.7 892.5 191.2 890.4 192.7 883.9 195.7 879.3 197.2 873.2 198.7 860.9 200.6 853.4 201.2 848.9 201.3 844.3 201 839.8 200.2 835.5 198.7 833 197.2 831.6 195.7 830.9 194.2 830.9 192.7 831.3 191.2 832.2 189.7 835.4 186.7 840.5 183.7 844.3 182 848.9 180.7 853.4 180 867 179.2Z" fill="#f8ad2f" fill-rule="evenodd"/>
<path d="M852.7 180.7 867 179.9 877.6 180.3 882.1 181 886.3 182.2 889.6 183.7 891.4 185.2 892.3 186.7 892.4 188.2 891.8 189.7 890.4 191.2 888.3 192.7 885.4 194.2 881.6 195.7 876.7 197.2 870 198.7 862.5 199.9 854.9 200.6 850.4 200.7 845.8 200.5 841.3 199.8 837.7 198.7 834.8 197.2 833.2 195.7 832.5 194.2 832.4 192.7 832.8 191.2 833.8 189.6 836.9 186.7 839.8 184.9 844.3 182.8 848.9 181.4 852.7 180.7Z" fill="#f7a02d" fill-rule="evenodd"/>
<path d="M862.3 180.7 873.1 180.7 877.6 181.2 882.8 182.2 886.7 183.7 888.9 185.2 890 186.7 890.2 188.2 889.6 189.7 888.3 191.2 886.1 192.7 883.1 194.2 879.2 195.7 873.9 197.2 864 199.1 851.9 200.1 847.4 200 842.8 199.4 839.8 198.6 836.8 197.2 834.9 195.7 834.1 194.2 833.9 192.7 834.3 191.2 835.2 189.7 836.6 188.2 840.9 185.2 843.9 183.7 848.4 182.2 851.9 181.5 862.3 180.7Z" fill="#f48d2b" fill-rule="evenodd"/>
<path d="M851.8 182.2 862.5 181.4 873 181.5 877.6 182.1 880.6 182.7 883.6 183.7 886.3 185.2 887.6 186.7 887.9 188.2 887.4 189.7 886.1 191.2 883.9 192.7 880.8 194.2 876.6 195.7 870.8 197.2 859.4 199 853.4 199.4 848.9 199.4 844.3 198.9 841.3 198.1 838.9 197.2 836.8 195.7 835.7 194.2 835.5 192.7 835.9 191.2 836.7 189.7 838.1 188.2 840.1 186.7 844.3 184.4 847.4 183.3 851.8 182.2Z" fill="#f27a29" fill-rule="evenodd"/>
<path d="M860.9 182.2 871.5 182.3 879.1 183.5 883.3 185.2 885 186.7 885.5 188.2 885.1 189.7 883.7 191.2 881.5 192.7 878.3 194.2 871.5 196.3 862.5 197.9 851.9 198.8 847.4 198.6 844.3 198.1 841.4 197.2 838.8 195.7 837.5 194.2 837.1 192.7 837.5 191.2 838.3 189.7 839.8 188.2 841.8 186.7 844.5 185.2 848.5 183.7 851.9 183 860.9 182.2Z" fill="#ef6828" fill-rule="evenodd"/>
<path d="M852.2 183.7 856.4 183.2 862.5 183 871.5 183.2 877.6 184.3 880 185.2 882.1 186.7 882.9 188.2 882.5 189.7 881.2 191.2 879 192.7 875.5 194.2 868.5 196.2 860.9 197.4 851.9 198.1 845.8 197.5 844.3 197.2 840.9 195.7 839.4 194.2 838.9 192.7 839.2 191.2 840 189.7 841.5 188.2 844.3 186.3 847.4 185 852.2 183.7Z" fill="#eb5627" fill-rule="evenodd"/>
<path d="M849.5 185.2 856.4 184.1 865.5 183.9 873 184.6 875.9 185.2 877.6 186 878.9 186.7 880 188.2 879.8 189.7 878.6 191.2 876.2 192.7 874.5 193.4 868.5 195.3 860.9 196.6 853.4 197.3 848.9 197.1 845.8 196.5 843.5 195.7 841.5 194.2 840.8 192.7 841 191.2 841.3 190.6 841.8 189.7 844.3 187.5 845.8 186.6 849.5 185.2Z" fill="#e84526" fill-rule="evenodd"/>
<path d="M854.3 185.2 860.9 184.9 868.5 185.1 873 186 875 186.7 876 187.6 876.7 188.2 876.8 189.7 875.5 191.2 873 192.7 868.7 194.2 865.5 194.9 859.4 196 851.9 196.4 846.9 195.7 843.9 194.2 842.9 192.7 842.9 191.2 843.8 189.7 845.5 188.2 848.9 186.5 854.3 185.2Z" fill="#e53826" fill-rule="evenodd"/>
<path d="M852.2 186.7 856.4 186.1 864 186.1 869.2 186.7 871.5 187.6 872.6 188.2 873.1 189.7 871.9 191.2 869 192.7 865.5 193.8 859.4 194.9 853.4 195.4 850.4 195.2 846.9 194.2 845.3 192.7 845.2 191.2 846.1 189.7 848.1 188.2 852.2 186.7Z" fill="#e23025" fill-rule="evenodd"/>
<path d="M852.3 188.2 854.9 187.7 859.4 187.5 866.1 188.2 868.1 189.7 867.2 191.2 863.6 192.7 854.9 194.1 851.9 193.9 850.4 193.5 848.7 192.7 848.2 191.2 849.3 189.7 852.3 188.2Z" fill="#df2825" fill-rule="evenodd"/>
</g>
<path d="M762.8 185.9 773.4 176.9 782.4 170.9 793 165.2 811.2 156.7 814.1 154.6 815.6 152.1 816.6 147.7 817 143.2 817.6 128.1 818.6 119.1 820.2 112.8 821.7 110.6 823.2 110.8 824.7 113.2 825.7 116.1 827 123.6 828.5 143.2 829.2 146.1 830.7 147.6 832.3 147.5 835.3 145.9 842.8 138.3 845.8 136.5 848.9 136.1 856.4 137.4 859.4 137.3 862.5 136.2 870 131.9 873 130.6 877.6 129.4 882.1 128.9 885.1 129.3 889.6 130.4 903.2 135 910.8 136.7 919.8 137.2 944 136.9 957.6 137.8 1004.4 143.5 1011.9 145.1 1021 147.7M1021 197.8 1016.5 201.1 1011.9 204 1008.9 205.5 1004.4 207.1 996.8 208.3 980.2 209.3 969.7 210.7 934.9 217.7 928.9 218.7 921.3 219.5 913.8 219.9 882.1 220.6 859.4 221.4 844.2 222.8 838 224.3 839.2 225.8 845.8 227 851.9 227.7 864 228.5 906.2 230.2 915.3 231.3 921.3 232.7 926.4 234.8 927.6 236.3 925.4 237.8 922.9 238.2 913.5 239.3 900.2 239.8 868.5 240.3 842.8 240.3 821.7 240.1 803.6 239.5 782.4 238.6 762.8 237.3M1021 181.6 1016.9 186.7 1012.1 191.2 1007.4 194.3 1002.9 196.2 996.8 197.6 981.7 199.8 974.2 201.3 947 208.5 934.9 211.2 922.9 213.3 906.2 215.7 891.1 217.3 876 218.4 821.7 221.6 809.6 221.9 802.1 221.6 796 220.7 783.4 218.3 762.8 215.5M762.8 196.8 768.4 192.7 779.2 182.2 787 176.2 796 170.8 802.1 167.8 812.6 163 815.6 161.1 817.6 158.2 818.7 155.2 819.4 152.2 820 147.7 820.7 137.1 821.7 131.9 823.2 134 824.2 146.2 825.4 152.2 827 155.2 827.7 155.9 829.2 156.6 832.3 156.3 835.5 155.2 838.3 153.6 844.3 149.3 847.4 148.1 850.4 148 857.9 149.2 860.9 149 865.5 147.7 876 143.8 880.6 142.9 883.6 142.8 889.6 143.5 900.2 145.7 906.2 146.5 913.8 146.9 934.9 146.5 947 146.9 957.6 148.1 977.2 150.8 998.4 153.2 1005.9 154.6 1011.5 156.7 1016.8 159.7 1021 163.4M788.2 228.8 794.5 227.8 802.1 227.5 821 228.8 845.7 231.8 850.6 233.3 845.8 234.6 836.8 235.1 820.2 235.1 810 234.8 791.6 233.3 784.5 231.8 783.7 230.3 788.2 228.8ZM877.8 150.7 882.1 150.2 885.1 150.2 906.2 152.4 913.8 152.6 936.4 152.7 944 153.1 953.1 154.3 975.7 158.4 994.6 161.2 1001.1 162.7 1004.4 163.9 1007.4 165.8 1010.1 168.7 1011.5 171.7 1011.8 173.2 1011.6 176.2 1010.5 179.2 1008.9 181.6 1007 183.7 1004.4 185.7 998.9 188.2 993.9 189.7 975.7 194.1 947 203.9 931.9 208.1 913.8 211.7 892.7 214.4 873 216.2 850.4 217.5 836.8 217.8 821.7 217.6 803.6 215.8 776.4 211.9 770.4 210.7 768.8 210.2 766.6 209.2 765.6 207.7 765.8 206.2 766.6 204.7 774.9 196.3 782.9 186.7 787.6 182.2 793 178 799 174.2 815.6 165.9 817.4 164.2 821.7 158.3 823.2 158.3 826.2 160.6 827.7 161.2 830.7 161.2 835.8 159.7 844.3 155.5 847.4 154.5 850.4 154.2 857.9 154.7 860.9 154.5 865.5 153.7 877.8 150.7ZM878 155.2 882.1 154.8 886.6 154.8 907.8 156.5 931.9 157.2 939.5 157.7 947 158.7 960.6 161.7 984.7 168.7 989 170.2 991.9 171.7 993.8 173.2 994.6 174.7 994.6 176.2 993.9 177.7 992.3 179.2 987.3 182.2 957.2 195.7 945.5 200.4 933.4 204.5 919.8 208 907.8 210.4 892.7 212.5 871.5 214.5 850.4 215.7 836.8 215.8 821.7 215.2 803.6 213.2 790.9 210.7 785.8 209.2 782.7 207.7 781 206.2 780.2 204.7 780 203.2 780.2 201.7 782.1 197.2 785.7 191.2 790.7 185.2 795.8 180.7 800.5 177.4 806.6 173.9 815.6 169.4 821.7 163.8 823.2 163.5 826.2 164.4 829.2 164.6 835.3 163.1 844.3 159.4 847.4 158.5 850.4 158.2 860.9 158.1 878 155.2ZM881.9 158.2 889.6 158.3 906.8 159.7 928.9 160.9 938 161.8 945.5 163.2 956.1 166.2 960.6 168 964.9 170.2 968.9 173.2 970.2 174.7 970.9 176.2 971.1 177.7 970.8 179.2 968.9 182.2 965.7 185.2 961.6 188.2 956.7 191.2 950 194.7 942.5 198.1 934.9 201 921.3 205.3 907.8 208.4 891.1 211.1 874.5 212.8 853.4 214.1 839.8 214.4 821.7 213.6 809.6 212.1 802.6 210.7 797.5 209.4 793.3 207.7 791.5 206.7 789.2 204.7 788.2 203.2 787.8 201.7 787.9 198.7 788.7 195.7 791 191.2 794.4 186.7 797.4 183.7 801.2 180.7 805.1 178.1 815.6 172.2 821.7 167.5 823.2 167.1 827.7 167.4 830.7 167 835.3 165.6 844.3 162.3 847.4 161.5 850.4 161.1 860.9 160.8 874.5 158.8 881.9 158.2ZM876.1 161.2 883.6 160.8 892.7 161.2 924.4 163.8 931.9 164.7 938 165.8 947 168.3 951.4 170.2 954.1 171.7 957.6 174.7 958.6 176.2 959.2 177.7 959.4 179.2 959.1 180.7 957.6 183.7 956.3 185.2 952.9 188.2 948.5 191.2 943.2 194.2 931.9 199.3 919.8 203.4 906.2 206.9 891.1 209.6 876 211.4 859.4 212.6 844.3 213.1 829.2 212.7 817.2 211.6 805.6 209.2 801.1 207.7 798.1 206.2 796 204.7 794.6 203.2 793.8 201.7 793.2 198.7 793.6 195.7 795.6 191.2 797.6 188.2 800.3 185.2 805.8 180.7 815.6 174.8 821.7 170.3 823.2 169.9 827.7 169.8 830.7 169.2 844.3 164.6 847.4 163.9 850.4 163.5 862.5 162.9 876.1 161.2ZM868.1 164.2 879.1 163.2 889.6 163.3 916.8 165.9 928.9 167.5 938 169.8 944 172.3 947 174.3 948.5 175.7 950 177.7 950.5 179.2 950.6 180.7 949.6 183.7 948.6 185.2 945.7 188.2 939.2 192.7 930.2 197.2 919.8 201.2 907.8 204.8 895.7 207.4 880.6 209.7 865.5 211.1 848.9 212 836.8 211.9 823.2 211 813.2 209.2 808.1 207.8 805.1 206.6 801.8 204.7 800.1 203.2 798.9 201.7 798.2 200.2 797.7 197.2 798.3 194.2 799.6 191.2 802.9 186.7 808 182.2 815.6 177.2 821.7 172.8 823.2 172.3 829.2 171.6 844.3 166.7 847.4 165.9 868.1 164.2ZM871.2 165.7 880.6 165.1 891.1 165.5 910.8 167.6 924.4 169.8 931.9 171.8 935.5 173.2 938.3 174.7 940.3 176.2 941.7 177.7 942.6 179.2 943 180.7 943 182.2 941.8 185.2 940.7 186.7 937.5 189.7 930.4 194.2 921.3 198.4 910.8 202.1 898.7 205.3 886.6 207.6 873 209.4 859.4 210.5 845.8 211 833.8 210.7 821.7 209.5 814.1 207.7 810 206.2 807 204.7 804.9 203.2 803.5 201.7 802.5 200.2 801.8 197.2 801.8 195.7 802.6 192.7 804.2 189.7 806.6 186.7 811.1 182.7 821.7 175.1 823.2 174.5 829.2 173.4 842.8 169 847.4 167.8 871.2 165.7ZM874 167.2 883.6 167 894.2 167.7 909.3 169.7 921.3 172 925.4 173.2 929.2 174.7 933.4 177.3 935.2 179.2 936 180.7 936.3 182.2 936.1 183.7 934.6 186.7 933.3 188.2 929.7 191.2 921.9 195.7 912.3 199.7 901.7 203 891.1 205.5 879.1 207.5 867 208.9 851.9 209.9 841.3 209.9 830.2 209.2 820.2 207.7 815.4 206.2 811.9 204.7 809.5 203.2 807.7 201.7 806.6 200.2 805.8 198.7 805.5 197.2 805.6 194.2 806.1 192.7 807.6 189.7 810.1 186.7 820.2 178.3 823.2 176.6 829.2 175.2 842.8 170.6 847.4 169.5 851.9 168.9 874 167.2ZM877 168.7 886.6 168.8 897.2 169.9 909.3 171.9 918.3 174.1 923.7 176.2 926.3 177.7 928.1 179.2 929.3 180.7 929.9 182.2 930 183.7 929.7 185.2 927.8 188.2 926.3 189.7 922.2 192.7 913.8 197 905.4 200.2 895.7 203 886.6 205 874.5 206.9 862.5 208.2 850.4 208.9 839.8 208.8 829.2 207.9 820.5 206.2 816.6 204.7 813.8 203.2 811.8 201.7 810.4 200.2 809.5 198.7 809 197.2 808.8 195.7 809.4 192.7 810.9 189.7 813.4 186.7 820.2 180.5 823.2 178.7 829.2 176.9 842.8 172.2 847.4 171 853.4 170.3 877 168.7ZM854.2 171.7 877.6 170.3 885.1 170.4 894.2 171.3 904.9 173.2 913.8 175.6 918.9 177.7 921.2 179.2 922.8 180.7 923.8 182.2 924.2 183.7 924.1 185.2 923.5 186.7 921.1 189.7 917.2 192.7 914.7 194.2 908.4 197.2 898.7 200.7 888.9 203.2 879.1 205.1 868.5 206.6 854.9 207.7 845.8 208 838.3 207.7 829.2 206.6 821.7 204.9 818 203.2 815.7 201.7 814.1 200.2 813 198.7 812.4 197.2 812.1 195.7 812.2 194.2 813.2 191.2 816.3 186.7 819.2 183.7 821.7 181.6 824.7 180.2 842.8 173.7 848.9 172.3 854.2 171.7ZM853.1 173.2 870 172.1 877.6 171.8 885.1 172.1 892.7 172.9 902 174.7 909.3 176.8 914.5 179.2 916.5 180.7 917.8 182.2 918.6 183.7 918.7 185.2 918.3 186.7 917.5 188.2 914.6 191.2 909.9 194.2 903.5 197.2 895.7 200 888.1 202 879.1 203.9 870 205.3 859.4 206.3 850.4 206.9 841.3 206.8 833.8 206 826.2 204.5 821.7 203 819.4 201.7 817.6 200.2 816.4 198.7 815.7 197.2 815.3 195.7 815.6 192.7 816.1 191.2 817.8 188.2 820.2 185.3 821.7 183.9 824.7 182.2 841.3 175.7 847.4 174 853.1 173.2ZM852.1 174.7 874.5 173.3 882.1 173.5 888.1 174.1 897.2 175.7 904.3 177.7 909.3 180 912.1 182.2 913.1 183.7 913.5 185.2 913.3 186.7 912.7 188.2 909.9 191.2 905.3 194.2 898.8 197.2 892.7 199.3 885.1 201.4 876 203.2 865.5 204.7 854.9 205.6 847.4 205.9 841.3 205.6 833.9 204.7 827.5 203.2 823.2 201.6 821 200.2 819.6 198.7 818.7 197.2 818.2 195.7 818.3 192.7 819.4 189.7 820.3 188.2 821.7 186.6 823.2 185.3 832.6 180.7 840 177.7 845.8 175.8 852.1 174.7ZM851.2 176.2 871.5 174.9 879.1 174.9 885.1 175.4 891.1 176.3 897.2 177.8 901.7 179.4 904.3 180.7 906.4 182.2 907.8 183.8 908.4 185.2 908.4 186.7 907.9 188.2 906.9 189.7 903.3 192.7 897.7 195.7 892.7 197.7 884.1 200.2 876 202 868.1 203.2 859.4 204.2 851.9 204.7 844.3 204.7 838.3 204.1 832.3 202.9 826.2 200.7 823 198.7 821.7 197.2 821.1 195.7 821 192.7 822.2 189.7 824.7 187.1 830.2 183.7 838.3 179.9 845.8 177.2 851.2 176.2ZM850.6 177.7 856.4 177.1 870 176.4 877.6 176.5 883.6 177 888.3 177.7 894.2 179.2 898.7 181.1 900.7 182.2 902.3 183.7 903.3 185.2 903.5 186.7 903.2 188.2 902.3 189.7 898.8 192.7 894.2 195.2 889 197.2 882.1 199.3 874.5 201 867 202.2 857.9 203.1 850.4 203.6 844.3 203.4 838.3 202.7 833.8 201.7 829.2 199.9 827.3 198.7 825.5 197.2 824.5 195.7 824.1 194.2 824.2 192.7 824.8 191.2 825.8 189.7 829.1 186.7 833.8 183.7 840.2 180.7 845.8 178.7 850.6 177.7ZM850.3 179.2 856.4 178.5 867 178 873 177.9 879.1 178.2 885.1 179.1 889.6 180.2 894.2 182 896.8 183.7 898.1 185.2 898.6 186.7 898.4 188.2 897.6 189.7 896.2 191.2 894.2 192.7 891.5 194.2 886.6 196.2 880.6 198.1 874.5 199.6 867 200.9 859.4 201.8 851.9 202.3 845.8 202.2 841.1 201.7 835.3 200.3 831.7 198.7 829.7 197.2 828.5 195.7 828 194.2 828 192.7 828.5 191.2 830.9 188.2 834.8 185.2 840.6 182.2 845.8 180.2 850.3 179.2ZM850.5 180.7 856.4 180 864 179.6 870 179.5 876 179.8 880.6 180.3 885.1 181.3 887.9 182.2 891.1 183.9 892.6 185.2 893.5 186.7 893.5 188.2 892.8 189.7 891.4 191.2 889.3 192.7 886.6 194.2 882.8 195.7 878 197.2 871.7 198.7 860.9 200.3 853.4 201 848.9 201 844.3 200.7 839.8 199.8 836.5 198.7 833.9 197.2 832.4 195.7 831.7 194.2 831.6 192.7 832.1 191.2 833 189.7 834.3 188.2 838.3 185.3 841.3 183.7 845.8 181.9 850.5 180.7ZM851.4 182.2 856.4 181.6 862.5 181.4 873 181.5 880.6 182.6 883.9 183.7 886.5 185.2 887.8 186.7 888.2 188.2 887.6 189.7 886.3 191.2 884.1 192.7 881 194.2 876.9 195.7 871.5 197.1 859.4 199 853.4 199.5 848.9 199.5 842.8 198.7 838.7 197.2 836.8 195.9 835.6 194.2 835.3 192.7 835.7 191.2 836.6 189.7 838 188.2 839.9 186.7 844.3 184.3 847.4 183.2 851.4 182.2ZM853.8 183.7 864 183.2 871.5 183.5 877.6 184.8 879.1 185.3 881.2 186.7 882 188.2 881.8 189.7 880.5 191.2 878.1 192.7 873 194.7 865.5 196.5 854.9 197.8 848.9 197.7 845.5 197.2 842.8 196.3 841.6 195.7 840 194.2 839.4 192.7 839.7 191.2 840.6 189.7 842 188.2 844.2 186.7 847.4 185.2 853.8 183.7ZM850.8 186.7 854.9 185.9 860.9 185.7 867 185.9 871.5 186.8 873.9 188.2 874.3 189.7 873.1 191.2 870.3 192.7 865.5 194.2 859.4 195.2 853.4 195.8 848.9 195.3 845.9 194.2 844.5 192.7 844.5 191.2 845.4 189.7 847.2 188.2 850.8 186.7Z" fill="none" stroke="#10182c" stroke-opacity="0.75" stroke-width="0.45"/>
</g>
<text x="792.5" y="55" font-size="20.5" text-anchor="middle" fill="#fff" textLength="28" lengthAdjust="spacingAndGlyphs">(C)</text>
<clipPath id="clb"><rect x="763.8" y="266" width="256.2" height="231"/></clipPath>
<rect x="763.8" y="266" width="256.2" height="231" fill="#445ba8"/>
<g clip-path="url(#clb)"><g filter="url(#bl)">
<path d="M890.4 322.1 891.1 321.6 892.7 321.1 894.2 321.2 895.7 321.9 897.2 323.3 898.7 325.4 900.2 328.3 901.7 332.3 906.5 349.2 909.3 357.5 911.1 361.2 912.3 363 913.8 364.3 915.3 364.7 916.8 363.9 918.3 361.7 919.8 357.6 924.4 338.2 926.5 331.1 927.4 328.9 928.9 326.3 930.4 324.9 931.9 324.6 933.4 325.5 934.9 327.5 937 332.6 938.9 340.2 942.5 357.9 944 362.9 945.5 366 947 368 948.5 369.2 951.5 370.4 959.1 371.1 969.7 371 975.8 370.2 980.2 368.7 983.3 367 987 364.2 993.8 358.1 996.8 356.1 999.9 354.9 1001.4 354.7 1004.4 355.1 1005.9 355.6 1008.9 357.5 1021 369.3 1021 447.4 1011.9 448.9 1002.9 449.9 981.7 449.9 969.7 450.8 927.4 456.1 883.2 460.4 856.9 463.4 849.1 464.9 846.2 466.4 847.2 467.9 851.2 469.4 854.9 470.3 864 471.7 877.6 473.1 895.7 474.1 916.8 474.7 936.4 474.9 947 474.5 956.1 473.5 969.6 470.9 990.8 467.9 1004.4 466.7 1021 466.2 1021 485.6 928.9 486.5 762.8 485.5 762.8 415.2 773.4 408.7 793.7 397.3 797.5 394.7 799.7 392.8 802.1 389.9 803.6 387 808.6 373.2 811.8 367.2 814.1 364.1 817.2 361 820.2 358.8 823.2 357.3 827.7 356 830.7 355.7 833.8 356 839.8 357.7 854.7 364.2 862.5 366.9 865.5 367.2 867 367 868.5 366.4 870 365.3 871.5 363.7 873 361.5 876 355.5 879.1 347.7 883.6 334.2 886.1 328.1 888.1 324.5 890.4 322.1Z" fill="#465daa" fill-rule="evenodd"/>
<path d="M891.9 349.2 892.7 349 894.2 349.4 895.7 350.4 897.2 352.1 900.2 357.2 905.4 368.7 907.8 373 909.3 375 910.8 376.4 913.8 377.9 915.3 378.1 916.8 377.8 918.3 377 919.8 375.3 921.5 371.7 925.9 357.6 927.4 353.6 928.9 350.9 930.4 349.6 931.9 349.7 932.9 350.7 933.4 351.2 934.9 354.2 939.5 368.7 941 372.5 942.1 374.7 944 377.2 947 379.2 951.5 380.2 960.1 380.7 971.2 381 977.2 380.5 981.7 379.5 984.8 378.5 996.8 373 1001.4 372.1 1004.4 372.5 1008.9 374.3 1021 382 1021 443.7 1015 445.5 1005.9 447.1 999.9 447.6 983.3 447.3 975.7 447.7 928.9 454.8 898.7 458.1 844.4 463.4 836 464.9 833.9 466.4 835.8 467.9 840.1 469.4 848.9 471.5 860.9 473.2 879.1 474.9 931.9 477.4 960.6 478.4 975.7 478.2 978.7 477.7 980.4 477 976.1 475.5 974.7 473.9 976.9 472.4 982.6 470.9 991.4 469.4 1001.4 468.4 1010.4 467.9 1021 467.8 1021 484 954.6 484.9 916.8 485.1 821.7 484.5 762.8 483.7 762.8 480.9 783.3 480 792.2 478.5 783.7 477 762.8 475.2 762.8 423.3 770.3 418 777.9 413.2 785.4 408.9 799.1 401.8 803.7 398.8 806.6 396 808.1 394 812.6 384.6 814.1 382.1 815.6 380.2 817.2 378.8 818.7 378 821.7 377.1 824.7 376.9 835.3 377.3 844.3 376.4 848.9 376.3 854.9 377 865.5 379.6 868.5 379.6 871.5 378.6 873 377.6 874.4 376.2 876 374 883 359.7 886.6 353.7 889.6 350.3 891.1 349.3 891.9 349.2Z" fill="#475fab" fill-rule="evenodd"/>
<path d="M890.5 362.7 892.7 362.3 894.2 362.8 895.7 363.8 898.7 367.5 903.6 376.2 906.2 379.8 909.3 382.3 912.3 383.7 913.8 384 916.8 383.9 918.3 383.4 919.8 382.4 921.3 380.7 922.9 377.7 927.4 366.3 928.9 364 930.4 363.1 931.9 363.5 933.4 365.2 934.9 368 939 377.7 941 381 942.5 382.7 944 383.8 947 385.1 951.5 385.8 965 386.8 972.7 387 977.2 386.9 984.8 385.6 996.8 381.9 1001.4 381.4 1004.4 381.8 1007.4 382.6 1015 386.3 1021 390.1 1021 437.7 1018 439.6 1013.5 441.7 1008.9 443.1 1004.4 444 998.4 444.4 984.8 443.9 978.7 444.2 972.7 445.2 950.6 449.9 927.4 453.9 891.1 458 856.4 461.1 825.9 463.4 817.5 464.9 818 466.4 822 467.9 833.8 471.2 842.8 473.1 853.4 474.7 865.5 476 888.1 477.6 966 481.5 976 483 939.5 483.7 912.3 483.9 823.6 483 821 481.5 828 480 828.3 478.5 827.7 478.4 815.6 476.8 762.8 473.3 762.8 428.9 773.4 421 780.9 415.9 788.5 411.5 801.4 404.8 806.2 401.8 808.1 400.3 811 397.3 817.2 388.8 818.7 387.5 820.2 386.8 824.7 386 830.7 386 835.3 385.6 844.3 383.5 848.9 382.8 854.9 383.2 864 385.2 867 385.5 870 385.4 873 384.5 876 382.5 877.7 380.7 879.7 377.7 885.7 367.2 888.1 364.3 890.5 362.7ZM996.4 470.9 1008.9 469.8 1021 469.7 1021 475.2 1016.5 475.4 1002.9 475.3 996.8 474.8 992.3 474 991.2 472.4 996.4 470.9Z" fill="#4a62ae" fill-rule="evenodd"/>
<path d="M890.1 371.7 891.1 371.3 892.7 371.2 894.2 371.8 895.7 372.9 897.2 374.5 901.8 380.7 904.7 384 907.8 386.1 909.3 386.8 912.3 387.6 916.8 387.9 919.8 386.8 921.3 385.6 923.7 382.3 927.4 374.7 928.9 372.6 930.4 371.9 931.9 372.4 933.4 374.1 938 382.3 941 386.1 944 388.2 947 389.2 951.5 389.9 966.6 391.3 977.2 391.8 984.8 390.9 996.8 388 1001.4 387.7 1005.9 388.5 1010.4 390.2 1016.5 393.7 1021 397.1 1021 430.1 1017.4 433.4 1012.9 436.4 1007.4 438.8 1002.9 439.9 998.4 440.4 986.3 439.8 980.2 440.2 974.2 441.4 949.1 448.4 931.9 452.1 901.7 456.2 873 458.9 844.3 461 806.6 462.2 792.1 463.4 790 464.9 794.4 466.4 808.6 469.4 814 470.9 816.4 472.4 814.1 472.9 806.6 473.3 794.5 473 780.4 472.4 762.8 471.2 762.8 433.3 774.9 423.8 780.9 419.5 788.5 414.7 806.7 404.8 810.8 401.8 817.2 396.2 820.2 394.4 824.7 393 834.8 391.3 844.3 388.4 848.9 387.5 851.9 387.3 854.9 387.5 862.5 388.8 867 389.3 870 389.2 873 388.6 876 387.3 879.1 385 881.4 382.3 886.6 374.8 888.1 373.1 890.1 371.7Z" fill="#4f67b1" fill-rule="evenodd"/>
<path d="M889.6 379.2 891.1 378.6 892.7 378.6 894.2 379.1 897.2 381.4 901.7 385.8 905.2 388.3 909.3 389.9 912.3 390.6 915.3 390.9 918.3 390.6 919.8 390.1 921.3 389.2 923.7 386.8 927.4 380.9 928.9 379.1 930.4 378.5 931.9 379.1 933.4 380.6 937.8 386.8 939.5 388.7 942.5 391 945.5 392.2 950 393.1 968.2 395.3 977.2 396 984.8 395.4 996.8 393 999.9 392.8 1002.9 393.1 1005.9 393.8 1008.9 395 1013.5 397.6 1018 401.5 1021 405.4 1021 421.2 1018 425.7 1015 428.8 1011.9 431.1 1007.4 433.6 1002.9 435.2 999.9 435.7 996.8 435.9 986.3 435.6 980.2 436.3 974.2 437.9 952.7 445.4 936.4 449.8 925.9 451.9 903.2 455.3 874.5 458.2 847.4 460 826.2 460.6 794.5 460.5 770.3 461.6 762.8 461.7 762.8 437.4 778.6 424.3 785.4 419.4 793 414.8 806 407.8 817.2 400.3 820.2 398.8 824.7 397.3 835.3 394.9 844.3 392.1 848.9 391 854.9 390.9 867 392.1 870 391.9 873.9 391.3 877.6 389.8 880 388.3 883.3 385.3 888.1 380.3 889.6 379.2Z" fill="#546cb5" fill-rule="evenodd"/>
<path d="M930.1 383.8 931.9 384.2 933.4 385.4 938 390.6 941 393.1 944 394.6 947 395.4 971.2 399.4 977.2 400.1 981.7 400.1 984.8 399.8 993.8 398.1 998.4 397.5 1002.9 398 1007.4 399.6 1010.9 401.8 1014 404.8 1016 407.8 1016.7 409.3 1017.4 412.3 1017.3 415.3 1015.8 419.8 1013.8 422.8 1010.9 425.8 1006.4 428.9 1001.4 430.8 996.8 431.4 986.3 431.5 981.7 432.2 978.7 432.9 972.7 435.1 958.8 440.9 950.9 443.9 938 448 928.9 450.3 910.8 453.4 894.2 455.6 867 458.1 842.8 459.5 823.2 459.7 793 459 770.3 459.1 762.8 458.7 762.8 441.3 768.8 436.3 778.6 427.3 785.4 421.9 793 417 807 409.3 817.2 403.1 823.2 400.7 836.7 397.3 845.8 394.5 850.4 393.7 854.9 393.5 867 394.3 871.5 394 874.5 393.4 876.6 392.8 879.9 391.3 888.1 385.6 891.1 384.4 892.7 384.3 894.2 384.7 897.2 386.3 902.5 389.8 907.8 392 913.8 393.2 918.3 393 921.3 391.9 922.9 390.9 927.4 385.5 928.9 384.1 930.1 383.8Z" fill="#5e75ba" fill-rule="evenodd"/>
<path d="M928.6 388.3 930.4 387.7 931.9 388.2 933.4 389.2 939.5 394.7 941.1 395.8 944 397.1 974.2 403.7 978.7 404.5 981.7 404.7 986.3 404.3 996.8 402.5 999.9 402.5 1003.1 403.3 1006 404.8 1008.9 407.4 1010.2 409.3 1011.3 412.3 1011.3 415.3 1010.4 417.9 1008.9 420.3 1006.5 422.8 1002.9 425.1 999.9 426.2 995.3 426.8 986.3 427.1 980.2 428.5 974.2 431 957.6 439 949.4 442.4 936.8 446.9 927.4 449.4 909 452.9 891.1 455.3 862.5 457.9 839 458.9 817.2 458.8 776.4 457.2 767.3 456.3 765 455.9 762.8 455 762.8 446.2 778.6 430.4 785.5 424.3 790 421 796 417.2 818.7 404.6 824.7 402.5 845.8 396.8 848.9 396.2 853.4 395.7 867 396.1 873 395.6 879.1 393.9 889.6 388.8 892.7 388.4 895.7 389.1 903.5 392.8 907.8 394.2 913.8 395.2 918.3 395.1 921.3 394.3 922.9 393.4 928.6 388.3Z" fill="#677ebf" fill-rule="evenodd"/>
<path d="M929.1 391.3 930.4 391.1 931.9 391.5 933.4 392.4 939.5 397.2 944 399.4 962.1 404 980.2 410.3 984.8 410.9 987.8 410.7 995.3 409 998.4 409 999.9 409.4 1002.1 410.8 1003.1 412.3 1003.5 413.8 1003.4 415.3 1002.9 416.7 1001.4 418.5 999 419.8 996.8 420.4 987.8 420.8 983.3 421.9 977.2 425.1 963.7 433.4 955 437.9 939.5 444.4 933.4 446.6 927.4 448.3 909.3 452.1 889.6 454.9 865.5 457.1 850.4 458 839.8 458.4 817.2 458.1 790 456.4 776.4 455 773.4 454.3 769.5 452.9 767.7 451.4 767.1 449.9 767.2 448.4 768.7 445.4 773.5 439.4 780.1 431.9 784.7 427.3 790 423.1 799 417.2 814.1 408.7 818.7 406.4 826.2 403.9 847.4 398.3 853.4 397.5 867 397.6 873 397.2 879 395.8 888.1 392.1 891.1 391.5 892.7 391.4 895.7 391.9 903.2 394.7 907.8 396 913.8 397 918.3 397 921.3 396.3 922.9 395.6 927.4 392.2 929.1 391.3Z" fill="#7388c5" fill-rule="evenodd"/>
<path d="M888.5 394.3 891.1 393.8 894.2 393.9 907.8 397.7 912.3 398.4 916.8 398.7 921.3 398.1 923.3 397.3 928.9 394 930.4 393.9 931.9 394.3 933.4 395 939.5 399.4 942.5 401 945.5 402.1 959.9 406.3 965.1 408.5 969.3 410.8 973 413.8 974.1 415.3 974.7 416.8 974.8 418.3 974.4 419.8 972.5 422.8 969.6 425.8 965.9 428.9 959 433.4 947.5 439.4 938 443.5 931.9 445.7 915.9 449.9 901.7 452.6 885.1 454.8 862.5 456.8 844.3 457.7 827.7 457.8 808.1 456.9 790 455.2 780.9 453.6 778.2 452.9 774.9 451.4 773.3 449.9 772.8 448.4 772.8 446.9 773.3 445.4 775.8 440.9 780.2 434.9 784.2 430.4 789.1 425.8 794.5 421.8 799 418.8 814.1 410.3 818.7 408 826.2 405.4 847.4 399.9 853.4 399.1 867 399 873 398.5 879.1 397.3 888.5 394.3Z" fill="#8095cc" fill-rule="evenodd"/>
<path d="M890.8 395.8 895.7 396 907.8 399.1 916.8 400.2 921.3 399.8 928.9 396.3 930.4 396.3 931.9 396.7 941 402.3 945.5 404.2 956.1 407.8 960.6 409.9 964.3 412.3 965.9 413.8 967.8 416.8 968.2 418.3 968.2 419.8 967 422.8 966 424.3 963.1 427.3 959.4 430.4 954.9 433.4 948.5 437 940.5 440.9 934.9 443.3 928.9 445.5 913.8 449.5 898.7 452.4 879.1 454.9 859.4 456.5 841.3 457.3 823.2 457.1 803.6 455.7 790 453.9 785.4 452.9 782.4 451.9 778.8 449.9 777.7 448.4 777.2 446.9 777.7 443.9 779 440.9 781.7 436.4 785.3 431.9 789.8 427.3 793.4 424.3 797.6 421.3 803.6 417.6 814.1 411.7 820.2 408.8 830.7 405.5 842.8 402.3 848.9 401 854.9 400.3 867 400.2 873 399.8 878.7 398.8 886.6 396.5 890.8 395.8Z" fill="#8ea1d3" fill-rule="evenodd"/>
<path d="M883.7 398.8 889.6 397.5 894.2 397.5 909.3 400.8 918.3 401.6 922.9 400.9 928.9 398.4 930.4 398.4 931.9 398.8 933.4 399.5 941 404.3 953 409.3 958.4 412.3 960.6 414.3 962.5 416.8 963 418.3 963.2 419.8 962.4 422.8 961.5 424.3 959 427.3 955.5 430.4 951.2 433.4 939.5 439.8 933.9 442.4 928.9 444.3 913.8 448.6 898.7 451.8 880.6 454.2 861.4 455.9 844.3 456.7 826.2 456.6 808.1 455.4 794.5 453.6 786.4 451.4 783.5 449.9 781.9 448.4 781.1 446.9 780.8 445.4 780.9 443.9 781.8 440.9 783.3 437.9 786.3 433.4 790.4 428.9 794.5 425.2 799.8 421.3 806.6 417.2 814.1 412.9 820.2 410.1 829.2 407.2 841.3 403.9 848.9 402.2 854.9 401.6 867 401.3 873 400.9 877.6 400.3 883.7 398.8Z" fill="#9fafdb" fill-rule="evenodd"/>
<path d="M882.7 400.3 889.6 399 894.2 398.9 909.3 402 918.3 403 922.9 402.4 928.9 400.4 931.9 400.8 934.9 402.4 941 406.3 951.5 411.4 955.1 413.8 956.6 415.3 958.4 418.3 958.8 419.8 958.3 422.8 957.6 424.3 955.3 427.3 952 430.4 947.8 433.4 937.4 439.4 931.9 441.9 927.4 443.6 911.1 448.4 897 451.4 879.1 453.9 859.4 455.6 842.8 456.3 826.2 456.1 809.6 454.9 796.4 452.9 790 451 787.7 449.9 785.7 448.4 784.5 446.9 784 445.4 783.9 443.9 784 442.4 785 439.4 786.5 436.4 789.7 431.9 792.5 428.9 796 425.7 800.5 422.3 808.1 417.6 815.6 413.4 820.2 411.3 829.2 408.3 847.4 403.6 854.9 402.6 873 402 882.7 400.3Z" fill="#b0bee2" fill-rule="evenodd"/>
<path d="M889.5 400.3 892.7 400.2 895.7 400.5 909.3 403.2 916.8 404.2 921.3 404.1 928.9 402.2 931.9 402.7 948.2 412.3 952.1 415.3 953.4 416.8 954.7 419.8 954.8 421.3 954.6 422.8 953 425.8 950.4 428.9 946.8 431.9 937.5 437.9 928.9 441.9 915.3 446.4 903.2 449.5 889.6 452 873 454 854.9 455.4 836.8 455.9 820.2 455.3 805.1 453.6 800.5 452.8 795.1 451.4 791.4 449.9 789.1 448.4 787.7 446.9 786.9 445.4 786.6 443.9 786.8 440.9 787.9 437.9 789.5 434.9 791.7 431.9 794.4 428.9 797.8 425.8 801.8 422.8 808.1 418.8 814.1 415.3 818.7 413.1 823.2 411.3 838.3 406.8 848.9 404.4 854.9 403.7 873 402.9 889.5 400.3Z" fill="#c0cce9" fill-rule="evenodd"/>
<path d="M886.8 401.8 891.1 401.4 894.2 401.5 910.8 404.6 918.3 405.5 922.9 405.2 928.9 403.9 931.9 404.5 934.9 406.1 946.2 413.8 949.4 416.8 950.4 418.3 951 419.8 951.2 421.3 951.1 422.8 949.8 425.8 947.4 428.9 944 431.9 939.8 434.9 934.9 437.9 927.4 441.3 913.8 445.9 901.7 449.1 889.6 451.4 873 453.6 854.9 455 838.3 455.5 823.2 455 809.6 453.6 803.6 452.6 798.8 451.4 794.8 449.9 792.2 448.4 790.5 446.9 789.6 445.4 789.1 443.9 789.1 440.9 789.9 437.9 791.5 434.9 793.6 431.9 796.3 428.9 799.6 425.8 803.6 422.8 809.6 419 815.6 415.6 820.2 413.5 824.7 411.8 839.8 407.4 848.9 405.3 854.9 404.6 873 403.9 886.8 401.8Z" fill="#d0d9ef" fill-rule="evenodd"/>
<path d="M883.8 403.3 888.1 402.7 892.7 402.5 897.2 403 907.8 405.2 916.8 406.6 921.3 406.7 928.9 405.5 931.9 406.2 934.9 407.9 938.8 410.8 942.6 413.8 945.7 416.8 947.5 419.8 947.9 421.3 947.9 422.8 946.8 425.8 944.5 428.9 941.4 431.9 937.4 434.9 933.4 437.3 927.4 440.1 912.6 445.4 900.2 448.8 888.1 451.1 873 453.1 856.4 454.5 841.3 455 826.2 454.7 812.6 453.4 802.1 451.3 797.9 449.9 795.1 448.4 793.2 446.9 792.1 445.4 791.4 443.9 791.2 440.9 791.9 437.9 793.3 434.9 795.4 431.9 798.1 428.9 801.4 425.8 805.4 422.8 815.6 416.6 820.2 414.5 824.7 412.7 839.8 408.3 850.4 406 856.4 405.4 873 404.7 883.8 403.3Z" fill="#e0e6f5" fill-rule="evenodd"/>
<path d="M880 404.8 888.1 403.7 892.7 403.6 897.2 404.1 909.3 406.5 918.3 407.9 922.9 407.9 927.4 407.2 930.4 407.4 933.4 408.8 936.3 410.8 939.8 413.8 942.6 416.8 944.4 419.8 944.8 421.3 944.9 422.8 944 425.8 942 428.9 939 431.9 932.6 436.4 926.4 439.4 912.3 444.6 901.7 447.7 889.6 450.3 874.5 452.5 859.4 453.9 844.3 454.6 829.2 454.4 815.6 453.2 805.7 451.4 800.9 449.9 797.8 448.4 795.7 446.9 794.4 445.4 793.6 443.9 793.2 440.9 793.4 439.4 794.3 436.4 796 433.4 798.3 430.4 801.3 427.3 805.1 424.3 814.1 418.5 818.7 416.1 823.2 414.2 836.8 410 848.9 407.1 854.9 406.4 871.5 405.7 880 404.8Z" fill="#eaeef8" fill-rule="evenodd"/>
<path d="M886.8 404.8 891.1 404.6 894.2 404.7 918.3 409 921.3 409.2 928.9 408.7 931.9 409.7 934.9 411.7 937.3 413.8 939.9 416.8 941.7 419.8 942.2 422.8 942 424.3 941.5 425.8 939.6 428.9 936.7 431.9 934.9 433.4 928.9 437 915.3 442.7 903.2 446.6 892.7 449.1 879 451.4 865.5 453 850.4 454 835.3 454.2 821.7 453.4 809.6 451.5 805.1 450.3 802.1 449.2 800.4 448.4 797.5 446.3 795.7 443.9 795.2 442.4 795.1 440.9 795.5 437.9 796.8 434.9 798.7 431.9 801.4 428.9 804.8 425.8 812.6 420.4 820.2 416.4 830.7 412.5 844.3 408.8 851.9 407.5 873.7 406.3 886.8 404.8Z" fill="#f3f6fb" fill-rule="evenodd"/>
<path d="M881.3 406.3 888.1 405.6 894.2 405.7 918.3 410.2 922.9 410.5 927.4 410.3 930.4 410.8 933.1 412.3 935 413.8 936.4 415.4 938.5 418.3 939.7 421.3 939.9 422.8 939.7 424.3 938.5 427.3 936.2 430.4 934.6 431.9 931.9 433.9 928.9 435.7 917.4 440.9 906.2 445 895.7 447.9 885.1 450 871.5 451.9 856.4 453.2 841.3 453.8 827.7 453.4 815.6 452 806.5 449.9 802.9 448.4 800.4 446.9 798.8 445.4 797.7 443.9 797.1 442.4 796.9 439.4 797.2 437.9 798.4 434.9 800.3 431.9 803 428.9 806.3 425.8 810.4 422.8 818.7 418 827.7 414.3 841.3 410.3 850.4 408.4 856.4 407.8 873 407.1 881.3 406.3Z" fill="#f9fbfd" fill-rule="evenodd"/>
<path d="M873.6 407.8 888.1 406.5 894.2 406.6 898.7 407.3 919.8 411.6 928.9 412.1 931.9 413.5 933.4 414.7 936.3 418.3 937.5 421.3 937.7 422.8 937.1 425.8 935.4 428.9 934.1 430.4 931.9 432.3 928.9 434.4 918.6 439.4 907.8 443.7 898.7 446.4 888.1 448.9 874.5 451 860.9 452.5 847.4 453.3 833.8 453.3 821.7 452.3 812.6 450.8 809.2 449.9 805.3 448.4 802.6 446.9 800.8 445.4 799.7 443.9 799 442.4 798.7 440.9 798.9 437.9 800 434.9 801.8 431.9 804.5 428.9 807.9 425.8 815.6 420.5 820.2 418.2 824.7 416.2 838.3 411.9 848.9 409.4 856.4 408.6 873.6 407.8Z" fill="#fcfdfe" fill-rule="evenodd"/>
<path d="M882 407.8 889.6 407.3 895.7 407.7 919.8 412.9 928.9 413.9 931.9 415.7 933.4 417.3 934.9 419.8 935.6 422.8 935.5 424.3 934.4 427.3 932 430.4 930.4 431.8 925.5 434.9 912.9 440.9 901.7 444.9 891.1 447.7 879.1 449.9 867 451.5 853.4 452.6 839.8 453 826.2 452.3 815.6 450.8 811.9 449.9 808.1 448.6 804.8 446.9 802.8 445.4 801.6 443.9 800.8 442.4 800.4 440.9 800.4 437.9 800.9 436.4 802.3 433.4 804.5 430.4 807.5 427.3 814.1 422.4 821.7 418.3 832.3 414.4 842.8 411.4 851.9 409.7 882 407.8Z" fill="#ffffff" fill-rule="evenodd"/>
<path d="M871.7 409.3 888.1 408.1 894.2 408.3 901.7 409.7 919.8 414.1 927.4 415.4 930.4 416.8 931.9 418.4 933.3 421.3 933.5 424.3 932.4 427.3 931.3 428.9 928 431.9 917.3 437.9 907.8 442 897.7 445.4 888.1 447.7 875.9 449.9 863.7 451.4 848.9 452.4 836.8 452.5 824.7 451.7 815.6 450.1 810 448.4 806.9 446.9 804.8 445.4 803.4 443.9 802.5 442.4 802 440.9 802 437.9 802.4 436.4 803.8 433.4 806 430.4 809 427.3 815.6 422.4 820.2 419.9 824.7 417.9 835.3 414.2 847.4 411.1 854.9 410.1 871.7 409.3Z" fill="#fffffb" fill-rule="evenodd"/>
<path d="M881.9 409.3 889.6 408.9 897.2 409.6 908.8 412.3 927.4 417.5 928.9 418.4 930.3 419.8 931 421.3 931.4 422.8 931.3 424.3 930.2 427.3 928.9 429 925.4 431.9 918.1 436.4 909.3 440.6 900.4 443.9 889.6 446.8 879.1 448.9 867 450.6 853.4 451.8 839.8 452.1 827.7 451.5 817.5 449.9 811.1 447.9 809 446.9 806.6 445.3 805.1 443.8 804.2 442.4 803.6 440.9 803.4 439.4 803.8 436.4 804.4 434.9 806.2 431.9 808.8 428.9 812.2 425.8 818.7 421.6 826.2 418 836.8 414.4 845.8 412.1 853.4 410.9 881.9 409.3Z" fill="#fffff8" fill-rule="evenodd"/>
<path d="M866.8 410.8 889.6 409.7 894.2 410 900.2 411.1 913.8 414.8 925.9 419.4 928.2 421.3 928.8 422.8 928.9 424.3 928.5 425.8 927.7 427.3 926.5 428.9 923 431.9 916 436.4 906.6 440.9 898.2 443.9 889.6 446.2 879 448.4 867 450.2 853.4 451.4 842.8 451.8 832.1 451.4 821.7 450.1 814.7 448.4 809.6 446.1 806.9 443.9 805.8 442.4 804.9 439.4 805 437.9 805.8 434.9 807.5 431.9 810.1 428.9 815.7 424.3 823.2 420.1 833.8 416.1 845.8 412.8 854.9 411.4 866.8 410.8Z" fill="#fffff1" fill-rule="evenodd"/>
<path d="M880.6 410.8 889.6 410.5 895.7 411.1 904.7 413.1 913.8 416 919.2 418.3 922.1 419.8 924.2 421.3 925.5 422.8 925.9 424.3 925.7 425.8 925 427.3 923.8 428.9 920.7 431.9 914 436.4 906.2 440.2 897.2 443.5 888.1 446 876.1 448.4 864 450.1 851.9 451.1 839.8 451.3 829.2 450.7 820.2 449.2 817.1 448.4 813.1 446.9 810.4 445.4 808.6 443.9 807.5 442.4 806.7 440.9 806.4 439.4 806.7 436.4 807.2 434.9 808.9 431.9 813.1 427.3 819.5 422.8 827.7 418.9 836.8 415.8 845.8 413.4 853.4 412.2 880.6 410.8Z" fill="#fffee8" fill-rule="evenodd"/>
<path d="M860 412.3 888.1 411.2 892.7 411.5 897.2 412.2 908.7 415.3 916.1 418.3 920.6 421.3 922 422.8 922.7 424.3 922.7 425.8 922.3 427.3 921.4 428.9 918.6 431.9 912.1 436.4 906.2 439.4 898.5 442.4 889.6 445 879.1 447.3 868.5 449.1 856.4 450.3 845.8 450.9 835.3 450.7 826.2 449.8 818.7 448.1 815.2 446.9 812.6 445.6 810.3 443.9 809.1 442.4 808.3 440.9 807.9 439.4 807.8 437.9 808.5 434.9 809.3 433.4 811.4 430.4 816.3 425.8 823.2 421.7 832.3 417.9 842.8 414.8 851.9 413 860 412.3Z" fill="#fffdde" fill-rule="evenodd"/>
<path d="M877.4 412.3 888.1 412 894.2 412.5 901.7 414.1 909.8 416.8 915.8 419.8 917.8 421.3 919.2 422.8 919.9 424.3 920.2 425.8 919.9 427.3 919.1 428.9 918 430.4 914.8 433.4 910.2 436.4 904.3 439.4 895.7 442.6 886.6 445.2 876 447.4 865.5 449 853.4 450.2 842.8 450.5 832.3 450 823.2 448.6 817.2 446.8 814.2 445.4 812 443.9 810.6 442.4 809.8 440.9 809.3 439.4 809.4 436.4 809.9 434.9 811.5 431.9 815.8 427.3 821.7 423.3 829.1 419.8 838.3 416.6 845.8 414.7 853.4 413.4 860.9 412.9 877.4 412.3Z" fill="#fffcd0" fill-rule="evenodd"/>
<path d="M855.5 413.8 885.1 412.7 889.6 412.8 894.2 413.3 902.7 415.3 910.5 418.3 913.2 419.8 915.2 421.3 916.7 422.8 917.5 424.3 917.9 425.8 917.7 427.3 916.1 430.4 914.7 431.9 910.8 434.9 905.6 437.9 898.7 440.9 889.6 443.8 879.1 446.3 870 447.9 859.4 449.2 848.9 450 839.8 450 830.7 449.3 823.2 448 817.2 445.9 813.7 443.9 812.2 442.4 811.3 440.9 810.7 439.4 810.6 437.9 810.7 436.4 811.9 433.4 814 430.4 815.4 428.9 818.7 426.2 821.4 424.3 829.2 420.5 838.3 417.3 847.4 415 855.5 413.8Z" fill="#fffbc2" fill-rule="evenodd"/>
<path d="M869.2 413.8 888.1 413.5 894.2 414.1 899.6 415.3 907.8 418.3 910.7 419.8 912.8 421.3 914.3 422.8 915.3 424.3 915.7 425.8 915.6 427.3 915.1 428.9 914.1 430.4 912.8 431.9 909 434.9 903.8 437.9 896.8 440.9 888.1 443.6 879.1 445.8 870 447.4 859.4 448.8 848.9 449.5 838.3 449.5 829.2 448.6 821.7 446.9 817.2 444.9 815.5 443.9 813.8 442.4 812.7 440.9 812.1 439.4 811.9 437.9 812.5 434.9 813.2 433.4 815.3 430.4 818.7 427.2 824.7 423.3 832.7 419.8 841.3 417 850.4 415 857.9 414.2 869.2 413.8Z" fill="#fffab4" fill-rule="evenodd"/>
<path d="M852.5 415.3 862.5 414.6 882.1 414.1 888.1 414.2 892.7 414.6 898.7 416 905.2 418.3 910.5 421.3 912.1 422.8 913.1 424.3 913.6 425.8 913.6 427.3 913.2 428.9 912.3 430.4 909.3 433.4 904.8 436.4 898.7 439.4 890.3 442.4 880.6 444.9 871.5 446.7 860.9 448.2 850.4 449 841.3 449.1 833.8 448.6 826.2 447.4 820.2 445.5 817.2 443.9 815.4 442.4 814.2 440.9 813.6 439.4 813.3 437.9 813.4 436.4 814.4 433.4 816.6 430.4 818 428.9 821.9 425.8 827.7 422.6 835.3 419.6 844.3 416.9 852.5 415.3Z" fill="#fff8a2" fill-rule="evenodd"/>
<path d="M859.4 415.3 885.1 414.8 889.6 415.1 894.2 415.7 900.2 417.4 905.8 419.8 908.2 421.3 909.9 422.8 911 424.3 911.6 425.8 911.7 427.3 911.3 428.9 909.2 431.9 905.5 434.9 900.2 437.9 892.8 440.9 886.6 442.8 876 445.3 867 446.9 857.9 448 848.9 448.7 839.8 448.6 832.3 447.9 826.2 446.8 820.2 444.5 817 442.4 815.7 440.9 815 439.4 814.7 436.4 815.1 434.9 816.6 431.9 818.7 429.5 821.2 427.3 825.9 424.3 833.8 420.8 842.8 417.9 850.4 416.2 859.4 415.3Z" fill="#fff68f" fill-rule="evenodd"/>
<path d="M850.3 416.8 856.4 416.1 865.5 415.7 882.1 415.5 889.6 415.8 895.4 416.8 900.1 418.3 904.7 420.6 907.7 422.8 909 424.3 909.6 425.8 909.8 427.3 909.5 428.9 907.4 431.9 903.7 434.9 898.4 437.9 891.1 440.8 883.6 443 874.5 445.1 864 446.9 853.4 448 845.8 448.3 838.3 448 829.5 446.9 824.1 445.4 820.2 443.5 818.6 442.4 817.2 440.9 816.4 439.4 816 437.9 816.4 434.9 817 433.4 818.7 430.9 822.5 427.3 827.4 424.3 834 421.3 842.8 418.5 850.3 416.8Z" fill="#fff47d" fill-rule="evenodd"/>
<path d="M854.7 416.8 864 416.3 879.1 416.2 886.6 416.3 891.1 416.8 897.2 418.3 901 419.8 904.7 422.1 906.9 424.3 907.7 425.8 907.9 427.3 907.6 428.9 906.9 430.4 904 433.4 899.5 436.4 894.2 438.9 888.1 441.1 879.1 443.6 870.2 445.4 859.8 446.9 850.4 447.7 842.8 447.8 835.3 447.2 827.7 445.8 823.2 444.1 820.3 442.4 818.7 440.9 817.8 439.4 817.4 437.9 817.3 436.4 817.7 434.9 818.7 432.7 820.5 430.4 822 428.9 826.2 425.8 832.1 422.8 839.8 420 847.4 418 854.7 416.8Z" fill="#fff16c" fill-rule="evenodd"/>
<path d="M867.3 416.8 886.6 417.1 891.1 417.6 895.7 418.8 900.2 420.7 903.5 422.8 904.9 424.3 905.8 425.8 906.1 427.3 905.8 428.9 905.1 430.4 903.9 431.9 900.3 434.9 895.7 437.4 891.1 439.4 883.6 441.8 875.2 443.9 867 445.4 856.4 446.8 847.4 447.3 839.8 447.1 833.8 446.4 827.7 445.1 823.2 443.1 820.3 440.9 819.3 439.4 818.8 437.9 819 434.9 819.6 433.4 821.7 430.4 825.3 427.3 830.4 424.3 836.8 421.6 842.8 419.7 850.4 418 857.9 417.2 867.3 416.8Z" fill="#ffed5d" fill-rule="evenodd"/>
<path d="M851.9 418.3 857.9 417.7 867 417.4 880.6 417.5 888.1 418 892.7 418.8 897.2 420.4 900.2 422 902.9 424.3 903.8 425.8 904.2 427.3 904 428.9 903.4 430.4 902.2 431.9 898.5 434.9 892.9 437.9 886.6 440.2 879.1 442.4 870 444.4 860.9 445.8 851.9 446.7 844.3 446.8 838.3 446.5 831.5 445.4 826.6 443.9 823.2 442 821.8 440.9 820.7 439.4 820.1 437.9 820 436.4 820.9 433.4 823.1 430.4 826.7 427.3 832 424.3 838.3 421.7 844.5 419.8 851.9 418.3Z" fill="#fee84d" fill-rule="evenodd"/>
<path d="M857.8 418.3 867 418 877.6 418.1 885.1 418.5 889.6 419.1 892.8 419.8 897.2 421.6 900.2 423.7 901.9 425.8 902.4 427.3 902.2 428.9 901.6 430.4 898.9 433.4 894.2 436.4 888.1 439 882.3 440.9 874.5 442.9 865.5 444.6 856.4 445.8 848.9 446.3 841.3 446.2 835.3 445.5 829.2 444 825.5 442.4 823.2 440.6 822.2 439.4 821.6 437.9 821.4 436.4 821.6 434.9 823.1 431.9 826.1 428.9 830.6 425.8 837.1 422.8 844.3 420.5 850.4 419.2 857.8 418.3Z" fill="#fee43e" fill-rule="evenodd"/>
<path d="M850 419.8 856.4 419 864 418.7 874.5 418.7 883.6 419.1 888.9 419.8 892.7 420.8 897 422.8 898.8 424.3 900.2 426.5 900.5 427.3 900.4 428.9 899.8 430.4 898.7 431.9 895 434.9 889.6 437.6 885 439.4 879.1 441.2 871.5 443 864 444.3 855.5 445.4 848.9 445.8 842.8 445.7 836.8 445.1 831.2 443.9 827.4 442.4 824.7 440.4 823.7 439.4 823 437.9 822.8 436.4 823 434.9 824.5 431.9 827.5 428.9 832.1 425.8 836.8 423.7 843.6 421.3 850 419.8Z" fill="#fddb3a" fill-rule="evenodd"/>
<path d="M854 419.8 860.9 419.4 868.5 419.3 879.1 419.6 885.1 420.1 889.6 420.9 892.7 421.9 895.7 423.6 898 425.8 898.6 427.3 898.6 428.9 898.1 430.4 895.7 433.1 893.2 434.9 888.1 437.4 882.8 439.4 876 441.3 867 443.3 859.4 444.4 851.9 445.2 845.8 445.3 839.8 444.9 833.8 443.9 829.4 442.4 826.9 440.9 825.3 439.4 824.7 438.3 824.2 436.4 824.3 434.9 824.9 433.4 827.2 430.4 831.1 427.3 836.8 424.4 841.3 422.7 847.4 421 854 419.8Z" fill="#fcd136" fill-rule="evenodd"/>
<path d="M848.5 421.3 854.9 420.3 860.9 420 868.5 419.9 877.6 420.2 883.6 420.8 888.1 421.6 891.9 422.8 894.5 424.3 895.9 425.8 896.7 427.3 896.8 428.9 896.2 430.4 895.2 431.9 893.5 433.4 889.6 435.8 884.9 437.9 879.1 439.8 871.5 441.8 857.9 444.1 850.4 444.7 844.3 444.7 838.3 444.1 833.8 443.1 830.7 442 827.7 440.1 826 437.9 825.6 436.4 825.7 434.9 826.3 433.4 828.6 430.4 832.6 427.3 836.8 425.2 842.8 422.8 848.5 421.3Z" fill="#fbc832" fill-rule="evenodd"/>
<path d="M851.9 421.3 857.9 420.7 865.5 420.5 880.6 421.2 885.1 421.9 888.7 422.8 892 424.3 893.7 425.8 894.6 427.3 894.8 428.9 894.4 430.4 893.3 431.9 891.6 433.4 889.4 434.9 885.1 436.9 878.3 439.4 867 442.2 853.4 444 847.4 444.2 841.4 443.9 836.8 443.1 832.3 441.7 829.2 439.9 827.7 438.2 827.1 436.4 827.2 434.9 827.7 433.4 829.2 431.2 831.8 428.9 836.8 425.9 840.5 424.3 845.8 422.6 851.9 421.3Z" fill="#fabb30" fill-rule="evenodd"/>
<path d="M858.4 421.3 865.5 421.2 873 421.4 879.1 421.9 884.7 422.8 889.2 424.3 891.1 425.7 892.5 427.3 892.8 428.9 892.4 430.4 891.3 431.9 889.7 433.4 884.3 436.4 876 439.4 870 440.9 862.5 442.4 850.4 443.6 844.3 443.5 839.8 443 836.8 442.4 832.3 440.6 830.4 439.4 829.1 437.9 828.6 436.4 828.6 434.9 829.1 433.4 830.1 431.9 833.4 428.9 836.8 426.8 842.5 424.3 847.4 422.9 853.4 421.8 858.4 421.3Z" fill="#f8ad2f" fill-rule="evenodd"/>
<path d="M850.7 422.8 854.9 422.3 862.5 421.9 870 422 876 422.4 880.6 423 885.1 424.1 888.1 425.5 889.6 426.7 890.2 427.3 890.6 428.9 890.3 430.4 889.3 431.9 886.6 434 882.1 436.4 878.3 437.9 873.5 439.4 867.3 440.9 859.4 442.2 853.4 442.9 844.3 442.9 839.8 442.3 835.3 441 832.3 439.4 830.8 437.9 830.2 436.4 830.1 434.9 830.6 433.4 832.3 431.1 834.9 428.9 837.4 427.3 841.3 425.6 845.8 424 850.7 422.8Z" fill="#f7a02d" fill-rule="evenodd"/>
<path d="M855.8 422.8 862.5 422.5 868.5 422.7 879.1 423.8 882.1 424.4 885.7 425.8 887.6 427.3 888.1 428.4 888.1 430.4 887.1 431.9 885.4 433.4 883 434.9 875.9 437.9 870.8 439.4 864 440.9 851.9 442.4 847.4 442.4 842.8 442 838.3 441.1 835.3 439.9 832.6 437.9 831.8 436.4 831.7 434.9 832.2 433.4 833.1 431.9 834.6 430.4 838.3 427.8 842.6 425.8 847.1 424.3 851.9 423.3 855.8 422.8Z" fill="#f48d2b" fill-rule="evenodd"/>
<path d="M850.2 424.3 854.9 423.6 859.4 423.3 865.5 423.3 871.5 423.7 879.1 424.9 882.2 425.8 884.7 427.3 885.7 428.9 885.7 430.4 884.8 431.9 883.1 433.4 880.7 434.9 877.5 436.4 873.3 437.9 867.9 439.4 857.9 441.1 851.9 441.7 847.4 441.7 842.8 441.3 839.8 440.6 836.6 439.4 834.5 437.9 833.5 436.4 833.4 434.9 833.8 433.4 834.7 431.9 836.2 430.4 838.3 428.9 841.3 427.2 844.8 425.8 850.2 424.3Z" fill="#f27a29" fill-rule="evenodd"/>
<path d="M855 424.3 864 424.1 873 424.8 879.1 426.2 881.5 427.3 882.9 428.9 883.1 430.4 882.3 431.9 880.7 433.4 878.3 434.9 874.9 436.4 870.5 437.9 860.9 440 851.9 441 844.3 440.7 839.1 439.4 836.6 437.9 835.4 436.4 835.1 434.9 835.5 433.4 836.4 431.9 838 430.4 840.2 428.9 843.1 427.3 847.3 425.8 855 424.3Z" fill="#ef6828" fill-rule="evenodd"/>
<path d="M850.5 425.8 854.9 425.2 859.4 424.9 868.5 425.2 872.9 425.8 876 426.7 877.8 427.3 879.8 428.9 880.4 430.4 879.7 431.9 878.2 433.4 875.7 434.9 872.2 436.4 865.5 438.3 857.9 439.7 850.4 440.3 845.8 440 842.8 439.5 838.9 437.9 837.4 436.4 837 434.9 837.3 433.4 838.2 431.9 839.8 430.4 842.8 428.5 845.8 427.2 850.5 425.8Z" fill="#eb5627" fill-rule="evenodd"/>
<path d="M856.8 425.8 864.6 425.8 871.5 426.8 873.5 427.3 876 428.6 877.3 430.4 876.9 431.9 875.4 433.4 872.9 434.9 869.2 436.4 865.5 437.4 857.9 438.9 851.9 439.5 845.8 439.1 841.3 437.7 839.6 436.4 839 434.9 839.2 433.4 840.2 431.9 841.9 430.4 844.4 428.9 850.4 426.8 856.8 425.8Z" fill="#e84526" fill-rule="evenodd"/>
<path d="M852.2 427.3 859.4 426.7 867 427.2 872.4 428.9 873.9 430.4 873.8 431.9 872.4 433.4 869.8 434.9 865.7 436.4 860.9 437.5 854.9 438.4 850.4 438.5 845.4 437.9 842.3 436.4 841.3 434.9 841.4 433.4 842.4 431.9 844.2 430.4 847.1 428.9 852.2 427.3Z" fill="#e53826" fill-rule="evenodd"/>
<path d="M850.7 428.9 854.9 428.1 860.9 428 865.5 428.5 867.1 428.9 868.5 429.5 869.9 430.4 870.2 431.9 868.9 433.4 866.1 434.9 862.5 436 856.4 437.2 851.9 437.5 848.9 437.2 845.6 436.4 844 434.9 843.9 433.4 844.3 432.7 844.9 431.9 847 430.4 850.7 428.9Z" fill="#e23025" fill-rule="evenodd"/>
<path d="M850.9 430.4 854.9 429.5 857.9 429.4 860.9 429.6 864.3 430.4 865.6 431.9 864.5 433.4 861.2 434.9 856.4 435.8 853.4 436.1 850.4 435.9 848.9 435.4 847.7 434.9 847.1 433.4 848.2 431.9 850.9 430.4Z" fill="#df2825" fill-rule="evenodd"/>
</g>
<path d="M762.8 424.8 770.3 419.4 777.9 414.5 785.4 410.1 800.5 402.2 805.1 399.1 807 397.3 809.4 394.3 813.2 386.8 815 383.8 817.2 381.5 818.7 380.5 820.2 380 823.2 379.5 835.3 379.8 844.3 378.5 848.9 378.2 854.9 378.9 865.5 381.4 868.5 381.4 871.5 380.7 874.5 378.5 876.4 376.2 878.9 371.7 883.6 362.1 886.6 357.4 889.6 354.3 891.1 353.5 892.7 353.2 894.2 353.6 895.7 354.6 897.2 356.2 900.2 361.1 904.7 370.6 907.1 374.7 909.8 377.7 912.2 379.2 913.8 379.8 915.3 379.9 916.8 379.7 918.3 379 919.8 377.5 921.3 374.9 922.6 371.7 925.9 361.3 927.4 357.5 928.9 354.9 930.4 353.8 931.9 354 933.1 355.2 934.9 358.5 939.5 371.7 941.6 376.2 944 379.2 947 380.9 951.5 381.8 959.1 382.3 969.7 382.7 977.2 382.3 981.7 381.5 984.8 380.6 996.8 375.7 1001.4 374.9 1004.4 375.3 1008.9 377 1021 384.2M1021 442.5 1013.5 445 1005.9 446.4 999.9 446.9 984.8 446.5 975.7 447 940 452.9 927.4 454.7 897.2 458.1 840.6 463.4 832.1 464.9 830.4 466.4 832.7 467.9 837.1 469.4 845.8 471.5 857.9 473.4 876 475.1 947 478.7 977.2 479.3 1004.4 478.8 1021 480.3M1021 477.5 1007.4 478.2 996.8 478 984.8 476.1 981.7 475.3 979 473.9 980.4 472.4 985.8 470.9 994.9 469.4 1007.4 468.5 1021 468.2M762.8 482 796 480 801.5 478.5 792 477 762.8 474.7M1021 483.5 956.1 484.6 915.3 484.8 832.3 484.3 762.8 483.2M1021 421.2 1017.8 425.8 1013.5 430 1008.9 432.9 1004.4 434.7 1001.4 435.5 998.4 435.8 986.3 435.6 980.2 436.3 974.2 437.9 957.4 443.9 945.5 447.5 931.9 450.8 919.9 452.9 904.7 455.1 891.1 456.6 871.5 458.4 851.9 459.8 827.7 460.6 794.5 460.5 770.3 461.6 762.8 461.7M762.8 437.4 777.9 424.9 784.8 419.8 793 414.8 806.6 407.5 818.7 399.4 823.2 397.7 833.8 395.3 844.3 392.1 848.9 391 854.9 390.9 867 392.1 870 391.9 873.9 391.3 877.6 389.8 880 388.3 883.3 385.3 888.1 380.3 889.6 379.2 891.1 378.6 892.7 378.6 894.2 379.1 895.7 380 901.1 385.3 905.2 388.3 908.7 389.8 912.3 390.6 916.8 390.8 919.8 390.1 921.3 389.2 923.7 386.8 927.4 380.9 928.9 379.1 930.4 378.5 931.9 379.1 933.4 380.6 937.8 386.8 940.7 389.8 944 391.7 947 392.6 969.7 395.5 977.2 396 984.8 395.4 996.8 393 999.9 392.8 1002.9 393.1 1005.9 393.8 1008.9 395 1013.5 397.6 1018 401.5 1021 405.4M888.5 392.8 891.1 392.2 894.2 392.3 907.8 396.5 912.3 397.3 916.8 397.6 919.8 397.3 921.3 396.9 923.5 395.8 928.9 392.1 930.4 391.9 931.9 392.4 933.4 393.2 938.6 397.3 942.5 399.5 945.5 400.6 961.8 404.8 966.2 406.3 973.2 409.3 984.4 415.3 984.9 416.8 981.7 419.8 973.8 425.8 967.2 430.4 962.2 433.4 950.4 439.4 934.9 445.7 925.4 448.4 906.2 452.4 891.1 454.5 871.5 456.5 850.4 457.9 833.8 458.2 817.2 457.9 796 456.6 782.4 455.2 774.9 453.8 772.2 452.9 769.9 451.4 769 449.9 768.9 448.4 769.4 446.9 771.1 443.9 775.7 437.9 781 431.9 787.3 425.8 791.5 422.6 797.5 418.6 817.2 407.6 821.7 405.8 826.2 404.4 845.8 399.1 853.4 398 867 398 873 397.6 879.1 396.2 888.5 392.8ZM992.2 413.8 995.3 412.9 996.8 413 998.4 413.6 998.6 415.3 996.8 416.6 995.3 417 992.3 416.7 990.3 415.3 992.2 413.8ZM887.3 398.8 891.1 398.3 894.2 398.4 907.8 401.3 916.8 402.4 921.3 402.2 928.9 399.6 930.4 399.6 931.9 400 933.4 400.7 941 405.5 952.6 410.8 957.1 413.8 958.5 415.3 960.2 418.3 960.5 419.8 959.9 422.8 959.1 424.3 956.7 427.3 953.4 430.4 949.1 433.4 938 439.7 932 442.4 927.4 444.1 912.3 448.4 897.2 451.6 879.1 454.1 857.9 455.9 839.8 456.5 823.2 456.2 806.6 454.9 794.5 452.9 789.3 451.4 786.1 449.9 784.2 448.4 783.2 446.9 782.8 445.4 783 442.4 784.7 437.9 787.7 433.4 790.2 430.4 793.2 427.3 796.9 424.3 802.1 420.7 809.6 416.2 815.6 412.9 821.7 410.3 832.3 407 842.8 404.2 848.9 402.9 854.9 402.2 873 401.6 879.1 400.6 887.3 398.8ZM883.2 403.3 888.1 402.6 892.7 402.4 897.2 402.9 907.8 405 916.8 406.4 921.3 406.6 928.9 405.4 931.9 406 934.9 407.7 939.1 410.8 943 413.8 946.1 416.8 947.9 419.8 948.2 421.3 948.2 422.8 947.1 425.8 946.1 427.3 943.3 430.4 939.7 433.4 934.9 436.6 927.4 440.2 912.9 445.4 901.7 448.5 889.6 450.9 874.5 453 857.9 454.4 841.3 455.1 826.2 454.7 812.6 453.5 802 451.4 797.6 449.9 794.8 448.4 793 446.9 791.8 445.4 791.2 443.9 791 440.9 792.3 436.4 794.1 433.4 796.5 430.4 799.5 427.3 803.2 424.3 808.1 421 814.1 417.3 818.7 415.1 823.2 413.2 838.3 408.6 848.9 406.2 854.9 405.4 873 404.6 883.2 403.3ZM882.7 406.3 889.6 405.7 894.2 405.8 898.7 406.5 918.3 410.4 922.9 410.8 927.4 410.6 930.4 411.1 932.6 412.3 934.9 414.3 937.1 416.8 938.8 419.8 939.4 422.8 939.3 424.3 938.1 427.3 935.8 430.4 934.2 431.9 928.9 435.5 915.3 441.5 904.4 445.4 892.7 448.4 880.6 450.6 867 452.3 853.4 453.4 839.8 453.7 826.2 453.2 814.1 451.6 806.6 449.7 803.4 448.4 800.9 446.9 799.2 445.4 798.1 443.9 797.5 442.4 797.3 439.4 798 436.4 799.6 433.4 801.8 430.4 804.9 427.3 811.1 422.6 818.7 418.2 823.2 416.2 829.2 414 841.3 410.5 850.4 408.6 856.4 408 873 407.2 882.7 406.3ZM877.4 409.3 888.1 408.5 895.7 409 903.2 410.5 919.8 414.8 927.4 416.4 928.9 417 930.4 418.2 931.6 419.8 932.5 422.8 932 425.8 930.4 428.6 928.9 430.1 924.4 433.4 915.3 438.3 904.7 442.8 895.7 445.6 885.1 448 873 450.1 859.4 451.6 845.8 452.3 833.8 452.2 823.2 451.2 814.1 449.4 811.1 448.4 807.9 446.9 805.7 445.4 804.3 443.9 803.3 442.4 802.6 439.4 802.7 437.9 803.7 434.9 806.7 430.4 809.7 427.3 813.5 424.3 817.2 422 821.2 419.8 830.7 416 841.3 412.8 850.4 410.9 857.9 410.2 877.4 409.3ZM857.8 412.3 886.6 411.1 892.7 411.3 897.2 412 907.8 414.8 915.3 417.7 919.3 419.8 921.3 421.3 922.6 422.8 923.3 424.3 923.3 425.8 922.8 427.3 920.6 430.4 915 434.9 909.3 438.1 903 440.9 894.2 443.9 885.1 446.2 873 448.5 860.9 450 848.9 450.9 838.3 450.9 829.2 450.3 820.2 448.7 814.8 446.9 811.9 445.4 810 443.9 808.7 442.4 808 440.9 807.6 439.4 807.8 436.4 808.3 434.9 809.9 431.9 814.2 427.3 817.2 425.1 820.7 422.8 829.2 418.9 838.3 415.9 848.9 413.3 857.8 412.3ZM871.7 413.8 885.1 413.5 891.1 413.7 897.2 414.8 903.2 416.6 907.6 418.3 910.4 419.8 912.6 421.3 914.1 422.8 915.1 424.3 915.5 425.8 915.4 427.3 914.9 428.9 912.6 431.9 908.8 434.9 903.2 438 894.2 441.7 886.6 444 876 446.3 867 447.8 856.4 449 845.8 449.6 836.8 449.3 828.4 448.4 822 446.9 817.2 444.8 814 442.4 812.9 440.9 812.3 439.4 812.1 437.9 812.6 434.9 813.3 433.4 815.4 430.4 820.2 426.2 825.8 422.8 833.8 419.5 842.8 416.7 851.9 414.9 859.4 414.2 871.7 413.8ZM851.8 416.8 859.4 416.1 870 415.8 883.6 415.8 891.1 416.3 897.2 417.7 902.5 419.8 906.2 422.3 908.2 424.3 908.9 425.8 909 427.3 908.7 428.9 907.9 430.4 905.1 433.4 900.6 436.4 895.7 438.7 889.6 441 880.6 443.5 872 445.4 862.5 446.9 853.4 447.8 845.8 448.1 838.3 447.8 830.8 446.9 825 445.4 821.5 443.9 819.3 442.4 817.8 440.9 816.9 439.4 816.6 437.9 816.9 434.9 818.4 431.9 819.7 430.4 823.1 427.3 828 424.3 835.3 421.1 844.3 418.3 851.8 416.8ZM855.4 418.3 862.5 417.9 871.5 417.8 882.1 418.1 888.1 418.6 893.8 419.8 897.5 421.3 900.2 423.1 901.5 424.3 902.5 425.8 902.9 427.3 902.8 428.9 902.1 430.4 899.4 433.4 894.7 436.4 889.6 438.6 883 440.9 876 442.7 867 444.5 859.4 445.6 850.4 446.4 844.3 446.5 838.3 446.1 833.6 445.4 827.7 443.7 824.7 442.2 823 440.9 821.7 439.2 821.1 437.9 821 436.4 821.8 433.4 824 430.4 825.7 428.9 829.2 426.4 835.3 423.4 841.3 421.2 848.9 419.3 855.4 418.3ZM848.5 421.3 854.9 420.3 860.9 420 868.5 419.9 877.6 420.2 883.6 420.8 888.1 421.6 891.9 422.8 894.5 424.3 895.9 425.8 896.7 427.3 896.8 428.9 896.2 430.4 895.2 431.9 893.5 433.4 889.6 435.8 884.9 437.9 879.1 439.8 871.5 441.8 857.9 444.1 850.4 444.7 844.3 444.7 838.3 444.1 833.8 443.1 830.7 442 827.7 440.1 826 437.9 825.6 436.4 825.7 434.9 826.3 433.4 828.6 430.4 832.6 427.3 836.8 425.2 842.8 422.8 848.5 421.3ZM851.9 422.8 857.9 422.2 864 422.1 871.5 422.3 877.4 422.8 884.7 424.3 887.9 425.8 889.4 427.3 890 428.9 889.7 430.4 888.7 431.9 887 433.4 884.5 434.9 877.6 437.9 867 440.7 859.4 442 853.4 442.7 844.3 442.7 839.8 442 835.7 440.9 832.9 439.4 831.3 437.9 830.7 436.4 830.6 434.9 831.1 433.4 832 431.9 833.5 430.4 835.4 428.9 838.3 427.2 842.8 425.2 847.4 423.8 851.9 422.8ZM849.1 425.8 856.4 424.7 865.5 424.6 874.5 425.7 879.3 427.3 881.1 428.9 881.5 430.4 880.8 431.9 879.2 433.4 876.7 434.9 873.3 436.4 867 438.3 857.9 440 853.4 440.5 848.9 440.6 842.8 439.9 841 439.4 837.9 437.9 836.6 436.4 836.2 434.9 836.5 433.4 837.5 431.9 839.1 430.4 841.3 428.9 844.5 427.3 849.1 425.8ZM850.2 428.9 854.9 428 859.4 427.8 864 428.1 868.5 429.2 870.3 430.4 870.6 431.9 869.3 433.4 866.5 434.9 864 435.7 859.4 436.8 853.4 437.6 848.9 437.4 845.3 436.4 843.7 434.9 843.6 433.4 844.3 432.3 846.7 430.4 850.2 428.9Z" fill="none" stroke="#10182c" stroke-opacity="0.75" stroke-width="0.45"/>
</g>
<path d="M763.8 486.6H1020" stroke="#3a4f98" stroke-width="1" fill="none"/>
<clipPath id="clc"><rect x="763.8" y="508.4" width="256.2" height="231.6"/></clipPath>
<rect x="763.8" y="508.4" width="256.2" height="231.6" fill="#445ba8"/>
<g clip-path="url(#clc)"><g filter="url(#bl)">
<path d="M888.9 522.5 891.1 521.4 892.7 521.5 894.2 522.1 896.4 524 901.7 530.5 903.2 531.3 906.2 531.6 909.3 531.3 912.3 530.6 915.3 528.7 921.3 523.2 924.4 521.6 927.4 521.2 928.9 521.5 931.9 522.9 934.9 525.5 941 532.1 942.5 533.2 945.5 534.4 952.4 536 956.1 536.6 959.1 536.3 966.6 534.4 968.2 534.3 971.2 535 973 536 975.7 538.2 981.7 544.9 984.8 547.6 996.8 555 1002.9 559.1 1015 568 1021 573.6 1021 741 904.7 741 762.8 741 762.8 638.8 792 632.5 796.8 631 799.4 629.5 800.7 628 802 625 803.6 619 806.6 605 808.9 591.8 810.7 584.3 812.8 578.2 814.1 575.5 815.6 573.3 817.2 571.9 818.7 571.1 820.2 570.9 821.7 571.2 823.2 572.1 827.7 576.1 829.2 576.5 830.7 576 833.8 573.1 843.4 561.7 847.4 557.7 851.9 553.8 857.9 549.2 864 545.2 870 541.8 877.6 538.2 879.1 537.1 880.6 535.5 886.1 525.5 888.1 523.1 888.9 522.5ZM975.7 656.6 954.4 658.1 951.4 659.6 951.2 665.6 950.2 670.2 948 674.7 944.8 679.2 938.9 685.2 931.9 690.9 924.4 696.3 915.3 701.8 921.3 702.6 931.9 702.7 942.5 702.5 947.8 701.8 948.8 695.8 951.5 688.3 954 683.7 957.8 679.2 963.3 674.7 969.7 670.7 975.7 667.8 987.8 663.1 990.7 661.1 991.4 659.6 991.3 658.1 990 656.6 986.3 656.2 975.7 656.6ZM780.9 716.8 793 717.2 802.1 716.9 780.9 716.8ZM833.8 628.8 832.4 634 832.3 638.5 832.7 640 833.8 642.3 835.3 642.6 836.9 640 837.1 637 836.9 634 835.3 628.7 833.8 628.8ZM876 713.8 875.2 713.9 878 715.4 882.1 715.5 913.8 715.5 916.9 715.4 919.8 714.7 922.7 713.9 909.3 713.2 886.6 713.2 876 713.8Z" fill="#465daa" fill-rule="evenodd"/>
<path d="M889.6 533 891.1 532.2 892.7 532.3 894.2 533.1 896.4 536 900.2 543 901.7 544.5 903.2 545.1 909.3 544.9 912.3 544.3 913.8 543.7 915.3 542.6 916.8 541 920.5 536 922.9 533.6 924.4 532.6 925.9 532 927.4 531.9 928.9 532.3 930.3 533 931.9 534.4 934.4 537.5 938 543.4 939.5 545.3 941 546.6 944 548 953.1 550.4 956.1 550.8 959.1 550.1 965.1 546.7 968.2 546.1 969.7 546.4 972.4 548.1 974.2 550 980.2 559.5 983.3 562.8 986.3 565 1002.3 575.2 1005.6 576.7 1011.9 578.7 1013.5 579.4 1015 580.4 1017.2 582.8 1019.2 585.8 1021 589 1021 649.1 1019.5 650.7 1017.9 653.6 1016.7 658.1 1016.4 661.1 1016.8 662.6 1018 663.7 1021 664.5 1021 731.5 904.7 731.5 762.8 731.5 762.8 646.8 776.4 643.7 799 638.9 802.1 637.9 803.6 636.7 805.2 634 810.2 618.9 811.2 614.4 812.4 602.3 813.4 596.3 815.2 590.3 817.2 586.8 818.7 585.6 820.2 585.4 821.7 586.2 823.6 588.8 827.7 597.4 829.2 599.5 830.7 600.8 832.3 600.8 833.8 598.2 836.3 591.8 839.3 585.8 842.1 581.2 845.6 576.7 851.9 570.3 860.9 563 868.5 557.9 878.1 552.6 880.6 550.8 882.4 548.1 886.6 537.3 888.1 534.6 889.6 533ZM969.7 655.1 943.9 656.6 939.5 658.1 939.4 659.6 940.2 665.6 939.7 670.2 937.8 674.7 936 677.7 933.7 680.7 927.8 686.7 921.3 692 912.3 698.2 905.5 701.8 903.3 703.3 912.3 703.9 934.9 703.9 948.5 703.8 956.5 703.3 957.9 701.8 958.2 698.8 958.7 697.3 963.4 688.3 966.7 683.7 969.7 680.7 974.2 677.2 980.2 673.8 986.3 671.1 997.2 667.2 1000.3 665.6 1002 664.1 1002.6 662.6 1002.4 661.1 1001.8 659.6 1000.1 656.6 998.8 655.1 996.8 654.2 993.8 653.6 990.8 653.7 969.7 655.1ZM767.3 716.8 766.5 716.9 767.3 717.1 773 718.4 779.4 718.6 805.1 718.5 808.7 718.4 812.6 717.5 814.7 716.9 812.6 716.5 806.6 715.8 800.5 715.6 779.4 715.8 767.3 716.8ZM833.8 609.4 832.3 610.1 830.7 615.4 828.8 628 828.6 637 829.2 641.5 830.7 645 832.3 647 833 647.6 833.8 648 835.3 648.1 836.8 647.4 838.3 645.8 839 644.5 839.9 641.5 840.1 637 839.8 632.4 838.3 622.3 836.8 616.3 835.3 612.1 833.8 609.4ZM865.5 712.4 857.9 713.2 853.9 713.9 855.5 715.4 871.5 716.8 883.6 717.1 907.8 717.1 921.5 716.9 928.9 716.5 939.4 715.4 941.1 713.9 933.6 712.4 930.4 712.1 913.8 711.5 889.6 711.4 877.6 711.6 865.5 712.4ZM762.8 733.5 762.8 732.6 1021 732.6 1021 739.5 1021 741 762.8 741 762.8 733.5Z" fill="#475fab" fill-rule="evenodd"/>
<path d="M890.8 542.1 891.1 541.8 892.7 541.8 894.2 543.2 898.7 552.1 900.2 553.5 901.7 554.1 904.7 554.2 910.8 553.7 913.8 553.2 915.3 552.7 916.8 551.7 918.3 550.2 922.9 543.6 924.4 542.2 925.9 541.4 927.4 541.2 928.9 541.8 930.8 543.6 932 545.1 935.3 551.1 937.6 554.1 939.5 555.6 941 556.3 953.1 559.8 957.6 560.5 960.6 559.9 965.1 557.2 966.6 556.6 968.2 556.5 969.7 557 971.2 558.2 972.7 560.1 977.3 567.7 978.7 569.5 981.7 572.2 993.8 579.9 998.4 582.4 1001.4 583.4 1010.4 584.5 1011.9 584.8 1013.5 585.5 1015 586.8 1016.5 588.7 1018.9 593.3 1021 599.6 1021 642.5 1017.8 647.6 1013.5 653.3 1011.9 654.3 1010.4 654.4 1002.9 652.1 999.9 651.7 995.3 651.6 968.2 654 941 655.4 932.3 656.6 931.4 658.1 933.1 664.1 933.4 667.2 933.1 670.2 931.7 674.7 930 677.7 927.8 680.7 922.1 686.7 913.8 693.4 904.7 699.2 896 703.3 897.2 704.1 898.7 704.5 906.2 704.9 951.5 704.7 957.6 704.5 962.1 703.8 963.8 703.3 964.2 700.3 965.4 697.3 972.7 686.7 977.1 682.2 981.7 678.9 986.3 676.4 990.8 674.4 1002.9 670.6 1007.4 669.4 1011.9 668.7 1021 668.8 1021 731 962.1 731 762.8 731 762.8 718.2 767.3 718.7 776.4 719.1 805.1 719.2 818.5 718.4 823.4 716.9 821.7 716.1 818.6 715.4 805.1 714.8 774.9 715.1 768.4 715.4 762.8 716.2 762.8 652.1 779.4 648.1 800.5 643.6 803.6 642.6 805.1 641.7 806.6 639.5 810.3 628 815 617.4 816.2 612.9 817.2 606.4 818 603.9 818.7 602.3 820.2 601.9 821.7 604.4 822 605.4 824.7 618 825.7 625 827 640 827.7 644.1 829.6 647.6 830.9 649.1 832.9 650.6 833.8 650.9 835.3 651 836.8 650.5 838.3 649.4 839.8 647.7 840.7 646.1 841.4 644.5 842 641.5 842 635.5 839.7 612.9 839.4 606.9 840.3 599.3 841.6 594.8 842.9 591.8 844.6 588.8 847.4 584.9 850.4 581.5 854.9 577.4 860.9 572.7 867 568.5 879.1 561.6 882.1 559.6 883.6 557.9 884.9 555.6 888.1 545.9 889.6 543 890.8 542.1ZM864 710.9 856.4 711.3 848.9 712.1 842.1 713.9 842.3 715.4 851.6 716.9 865.5 717.7 880.6 718.1 912.3 718.1 930.4 717.7 942.6 716.9 951 715.4 952 713.9 950 713.1 947.6 712.4 939.5 711.3 927.4 710.5 909.3 710.2 880.6 710.2 864 710.9ZM762.8 733.5 762.8 733.2 1021 733.2 1021 739.5 1021 741 762.8 741 762.8 733.5Z" fill="#4a62ae" fill-rule="evenodd"/>
<path d="M924.3 554.1 925.9 553 927.4 552.9 928.9 553.8 933.1 558.6 934.7 560.1 937.1 561.7 941 563.2 957.6 567.9 960.6 568.3 966.6 567.9 968.2 568.2 969.7 569.1 975.7 575.1 978.7 577.5 992.3 586 996.8 588.4 1001.4 589.4 1010.4 589.3 1011.9 589.6 1013.5 590.4 1015 591.9 1017.3 596.3 1018.7 600.8 1019.8 606.9 1021 615.5 1021 630 1020.5 632.5 1018.7 638.5 1016.5 643.6 1015 646.1 1013.5 647.7 1011.9 648.6 1008.9 649 998.4 649.4 983.3 651.6 969.7 652.9 929.9 655.1 925.2 656.6 925.4 658.1 926.8 661.1 927.8 664.1 928.3 667.2 928.3 670.2 927.1 674.7 925.5 677.7 923.4 680.7 920.9 683.7 916.8 687.7 908.2 694.3 898.7 700 888.1 704.8 891.1 705.4 894.2 705.7 910.8 705.9 953.1 705.5 966.4 704.8 968.7 703.3 968.9 700.3 969.5 698.8 971.6 695.8 981.1 685.2 983.3 683.4 987.1 680.7 993.8 677.4 1002.9 674.4 1011.9 672.6 1021 672.1 1021 730.6 785.4 730.6 762.8 730.6 762.8 719.1 777.9 719.8 806.6 719.8 818.7 719.2 832.3 717.7 836.8 717.5 859.4 718.6 873 719 922.9 719 936.4 718.6 947 717.8 954.7 716.9 960.4 715.4 961.2 713.9 958 712.4 948.5 710.7 939.5 709.9 925.9 709.2 903.2 708.9 879.1 709 854.9 710.1 845.4 710.9 830.7 713.4 824.7 713.9 779.4 714.3 762.8 715.1 762.8 656.2 780.9 651.5 802.1 646.9 805.1 646 806.6 645 808.2 643 811.2 632.5 812.6 628.9 814.1 626 817.2 622.1 818.7 621 820.2 620.8 821.7 621.5 823.2 624.1 823.9 626.5 825 632.5 826.2 644 827.7 648.2 830.7 651.4 832.3 652.5 833.8 653.1 835.3 653.1 836.8 652.6 838.3 651.7 839.8 650.4 842 647.6 843.2 644.5 843.7 641.5 843.7 637 842 614.4 842.2 608.4 842.8 603.9 843.9 599.3 845.2 596.3 847.4 592.4 850.2 588.8 854.9 584.3 862.5 578.5 871.5 572.7 880.6 567.7 883.6 565.5 887 561.7 891.1 555.2 892.7 555 896 558.6 897.9 560.1 900.2 561 901.7 561.1 913.8 560.3 916.8 559.7 919.8 558.2 924.3 554.1ZM873 655 873 655.1 873.3 655.1 873 655Z" fill="#4f67b1" fill-rule="evenodd"/>
<path d="M892.3 564.7 894.2 564.8 898.7 566.3 901.7 566.5 916.8 565.4 925.9 563.3 928.9 563.6 941 568.5 957.6 573.6 965.1 575.5 968.2 576.6 992.3 591.7 996.8 593.9 999.9 594.5 1008.9 593.7 1011.9 594 1013.5 595 1015 597.1 1016.4 600.8 1017.4 605.4 1018.1 612.9 1018.5 620.4 1018.2 626.5 1017.3 632.5 1016.5 635.5 1015 639.4 1013.5 642 1011.9 643.5 1008.9 644.7 990.4 649.1 980.2 650.8 966.6 652.2 930.4 654.2 921.2 655.1 919.7 656.6 922.2 661.1 923.8 665.6 924.3 670.2 923.8 673.2 921.9 677.7 919.9 680.7 917.4 683.7 912.7 688.3 906.2 693.2 898.7 698 891.1 701.8 882.4 704.8 882.1 705.3 880.6 706.2 877.6 707.1 874.5 707.6 860.9 708.6 845.8 709.5 818.7 712.6 774.9 713.7 762.8 714.2 762.8 659.6 780.9 654.6 803.6 649.5 806.6 648.5 808.2 647.6 809.5 646.1 810.2 644.5 812.6 634.8 814.1 631.1 815.1 629.5 817.2 626.9 818.7 626 820.2 625.8 821.7 626.6 823.2 629.8 824.3 635.5 825.2 644.5 825.9 647.6 826.5 649.1 827.5 650.6 829 652.1 832.3 654.3 833.8 654.8 835.3 654.7 838.3 653.6 840.2 652.1 842.8 649.1 844.4 646.1 845.1 643 845.2 638.5 843.9 620.4 844 612.9 845.1 605.4 846.5 600.8 848 597.8 850.4 594.3 852.6 591.8 859.4 585.9 870 578.9 882.1 572.1 889.6 565.7 891.1 564.9 892.3 564.7ZM874.5 652 873 652.2 871.9 653.6 871.7 655.1 873 656.7 874.5 656.8 876.1 655.1 876 653.5 874.5 652ZM1009.2 676.2 1015 675.4 1021 675 1021 730.1 762.8 730.1 762.8 719.8 773.4 720.3 809.6 720.4 838.3 719 876 720.1 924.4 720 948.5 719 956.1 718.3 963.6 717.2 969.2 715.4 969.8 713.9 967.4 712.4 962.1 710.9 957.6 710.1 947 708.6 937.3 707.8 951.5 706.6 966.6 705.9 972.2 704.8 972.6 703.3 972.5 701.8 972.8 700.3 974.6 697.3 987.8 685.1 992 682.2 996.8 679.9 1002.9 677.7 1009.2 676.2Z" fill="#546cb5" fill-rule="evenodd"/>
<path d="M921.7 569.2 925.9 568.6 930.4 569.2 965.1 580.6 968.2 581.9 974.2 585.2 983.3 590.6 993.8 597.5 996.8 599 999.9 599.7 1001.4 599.7 1008.9 598.4 1011.9 598.8 1013.5 600.3 1015 604 1015.6 608.4 1016.1 615.9 1016 621.9 1015.4 628 1014.3 632.5 1012.9 635.5 1011.9 636.9 1009.8 638.5 997.4 644.5 989.6 647.6 983.5 649.1 974.2 650.6 965.1 651.5 948.5 652.7 924.4 653.7 918.3 654.4 915 655.1 914.9 656.6 918.2 661.1 920.2 665.6 920.8 670.2 920.1 674.7 917.9 679.2 914.4 683.7 909.3 688.7 901.7 694.3 895.7 698 889.6 701 882.1 703.8 874.5 705.9 865.5 707.3 832.3 709.6 814.1 711.4 802.1 712.2 762.8 713.3 762.8 662.6 780.9 657.3 803.6 652 808.2 650.6 810.3 649.1 811.4 647.6 812.5 644.5 813.6 638.5 814.6 635.5 816.1 632.5 817.2 631.1 818.7 630.1 820.2 629.9 821.7 630.9 822.3 632.5 823.2 635.5 824.7 647.6 826.2 651.2 828.6 653.6 832.3 655.8 833.8 656.2 835.3 656.2 838.3 655.1 841.3 652.8 843.4 650.6 844.5 649.1 845.9 646.1 846.4 643 846.6 640 845.5 621.9 845.6 615.9 846 611.4 847 606.9 848.9 602.1 851.6 597.8 854.2 594.8 857.9 591.5 864 587 871.5 582.3 882.1 576.7 888.1 571.9 891.1 570.1 892.7 569.8 894.2 569.9 898.7 570.8 901.7 571 916.8 569.9 921.7 569.2ZM873 651.2 871.5 652.5 871 653.6 871 655.1 871.6 656.6 873 657.6 874.5 657.7 876.3 656.6 877.1 655.1 877.2 653.6 876 651.7 874.5 651 873 651.2ZM1020.6 677.7 1021 677.7 1021 729.7 762.8 729.7 762.8 720.6 765.8 720.7 806.6 721.1 838.3 720.4 874.5 721.2 921.3 721 950 720.2 960.6 719.4 968.4 718.4 975.7 716.7 978.4 715.4 978.7 713.9 976.7 712.4 972.5 710.9 966.7 709.4 963.4 707.8 971.2 706.8 974.2 706 975.7 705.3 976.4 704.8 975.8 701.8 976.2 700.3 978.2 697.3 980.2 695.5 990.8 687.4 996.8 683.5 1001.4 681.4 1007.4 679.5 1013.5 678.3 1020.6 677.7Z" fill="#5e75ba" fill-rule="evenodd"/>
<path d="M916.2 573.7 925.9 572.7 930.4 573.1 954.6 580.8 965.1 584.7 974.2 589.1 983.3 594.6 995.3 603.3 998.4 605 1001.4 605.9 1002.9 605.9 1008.9 604.8 1011 605.4 1011.9 606.1 1012.6 608.4 1013.4 615.9 1013.3 620.4 1012.9 623.4 1012.2 626.5 1011.5 628 1010.4 629.7 1007.7 632.5 996.4 641.5 991.5 644.5 988.2 646.1 983.7 647.6 975.7 649.3 963.6 650.9 945.5 652.2 914.6 653.6 912.3 654.1 909.7 655.1 910.5 656.6 914.6 661.1 916.4 664.1 917.7 668.7 917.6 673.2 916.1 677.7 913.1 682.2 908.8 686.7 904.7 690.2 898.7 694.5 891.4 698.8 885.1 701.7 879.1 703.7 871.5 705.6 862.5 706.9 839.8 708.6 820.5 709.4 797.5 711.1 762.8 712.4 762.8 665.2 782.4 659.2 805.9 653.6 810.1 652.1 812 650.6 813.2 649.1 814.3 646.1 815.9 638.5 817.2 635.8 818.7 634.3 820.2 634.2 821.7 635.7 822.6 640 823.9 649.1 824.7 651.1 826.2 653.2 829.2 655.6 832.3 657.1 833.8 657.5 835.3 657.4 838.3 656.4 841.3 654.4 844.3 651.4 846 649.1 847.2 646.1 847.7 643 847.9 640 847 623.4 847.1 617.4 847.7 612.9 848.8 608.4 850.4 604.6 852.7 600.8 854.9 598.3 859.4 594.1 867 588.7 873 585 883.3 579.7 889.6 575.3 891.1 574.6 894.2 574.2 900.2 574.8 916.2 573.7ZM873 650.4 871.5 651.4 871 652.1 870.4 653.6 870.4 655.1 870.9 656.6 871.5 657.4 872.5 658.1 874.5 658.4 875.6 658.1 877.4 656.6 878.1 655.1 878.2 653.6 877.7 652.1 876 650.5 874.5 650.1 873 650.4ZM1015.9 680.7 1021 680.3 1021 729.3 762.8 729.3 762.8 722.9 762.8 721.3 806.6 721.7 836.8 721.7 870 722.3 950 721.5 965.1 720.7 977.2 719.3 984.8 717.6 986.8 716.9 989 715.4 988.8 713.9 986.8 712.4 978.8 709.4 977 707.8 979.3 706.3 979.7 704.8 978.9 703.3 978.8 701.8 979.2 700.3 980.1 698.8 981.5 697.3 986.3 693.8 996.8 687.2 1001.4 684.8 1008.3 682.2 1015.9 680.7Z" fill="#677ebf" fill-rule="evenodd"/>
<path d="M919.7 576.7 925.9 576.3 930.4 576.7 953.1 583.5 962.1 586.8 968.2 589.4 974.2 592.6 981.7 597.3 987.8 601.8 993.5 606.9 1000.7 614.4 1002.8 617.4 1003.9 620.4 1003.9 623.4 1003.2 626.5 1001 631 998.9 634 996.4 637 991.4 641.5 986.6 644.5 983.1 646.1 978.3 647.6 969.7 649.3 956.1 650.9 942.5 651.8 915.3 652.9 906.6 653.6 904.9 655.1 909.9 659.6 911.3 661.1 913.3 664.1 914.9 668.7 915 673.2 913.6 677.7 910.7 682.2 906.5 686.7 901.7 690.8 895.7 694.9 888.1 699.2 882.3 701.8 876 703.8 868.5 705.4 857.9 706.8 835.3 708.3 762.8 710.1 762.8 667.6 780.9 661.7 791.5 658.8 807.4 655.1 811.1 653.8 813.7 652.1 815 650.6 816.6 647.6 818.7 640.7 820.2 640.4 821.7 644.7 822.1 647.6 823 650.6 824.7 653.5 826.2 654.9 830.7 657.7 833.8 658.6 836.8 658.2 839.8 656.7 842.1 655.1 845.3 652.1 847.3 649.1 847.9 647.6 848.7 644.5 849 641.5 848.4 623.4 848.6 618.9 849.2 614.4 850.4 610.1 851.9 606.7 854.8 602.3 857.6 599.3 862.9 594.8 870 590 891.1 578.8 894.2 578.2 900.2 578 907.8 577.3 919.7 576.7ZM871.5 650.5 870.4 652.1 869.8 653.6 869.8 655.1 870.3 656.6 871.5 658.2 873 658.9 874.5 659.1 876.9 658.1 878.3 656.6 879 655.1 879.1 653.6 878.7 652.1 877.7 650.6 876 649.6 874.5 649.3 873 649.6 871.5 650.5ZM1014.1 683.7 1021 682.9 1021 728.8 857.9 728.4 762.8 728.8 762.8 721.9 771.9 722 815.6 722.5 864 723.4 984.7 721.4 993.8 720.3 996.8 719.8 1001.2 718.4 1003.7 716.9 1004 715.4 1002.4 713.9 998.9 712.4 989.3 709.7 984.6 707.8 981.6 703.3 981.5 701.8 981.9 700.3 983.3 698.5 986.3 696 993.8 691.7 1005.9 686 1010.4 684.6 1014.1 683.7Z" fill="#7388c5" fill-rule="evenodd"/>
<path d="M918 579.7 925.9 579.5 930.4 580 950 585.4 957.6 587.9 965.1 591 971.2 594 978.7 598.6 983.8 602.3 988.8 606.9 992.7 611.4 995.6 615.9 997.3 620.4 997.6 625 997.1 628 995.2 632.5 992 637 987.1 641.5 981.7 644.6 978.3 646.1 973.1 647.6 965.1 649.1 951.7 650.6 936.4 651.5 909.3 652.5 903.2 653 899.7 653.6 900.2 655.1 906.2 659.3 909.3 662.5 911.2 665.6 912.3 668.7 912.6 673.2 912 676.2 909.7 680.7 905.9 685.2 900.9 689.8 894.2 694.5 886.7 698.8 879.8 701.8 873 703.9 865.5 705.4 854.9 706.6 845.8 707.3 821.7 708.4 800.5 708.7 785.4 708.5 762.8 707.5 762.8 669.9 773.4 666 785.4 662.2 811.1 655.7 815.2 653.6 818.7 651 820.2 650.8 821.7 651.8 824.5 655.1 826.2 656.4 829.2 658.1 832.3 659.4 833.8 659.7 835.3 659.6 836.8 659.2 839.8 657.9 843.7 655.1 845.8 653.1 847.8 650.6 848.9 648.2 849.7 644.5 850 641.5 849.9 623.4 850.7 615.9 851.9 611.9 853.4 608.6 855.5 605.4 858 602.3 864 597.1 871.5 592 877.6 588.6 891.1 582.2 894.2 581.5 906.2 580.2 918 579.7ZM873 648.9 871.5 649.8 870 651.6 869.4 653.6 869.3 655.1 870 657.1 871.5 658.8 873 659.5 874.9 659.6 876 659.3 878 658.1 879.2 656.6 879.9 655.1 880 653.6 879.7 652.1 879.1 650.9 877.6 649.3 876 648.7 874.5 648.5 873 648.9ZM1012.8 686.7 1016.5 686 1021 685.6 1021 712.7 1008.9 711.6 996.8 709.7 990 707.8 986.3 705.6 984.1 703.3 983.9 701.8 984.5 700.3 985.6 698.8 987.3 697.3 993.8 693.6 1004.4 689.3 1012.8 686.7ZM762.8 722.9 762.8 722.5 794.5 722.8 821.7 723.4 845.1 724.4 848.9 725.4 853.4 725.9 818.7 727.3 793 727.8 762.8 728 762.8 722.9ZM921.2 722.9 1021 721.9 1021 728 959.1 728 907.8 727.6 883.6 727.1 857 725.9 862.5 725.5 867.9 724.4 895.7 723.4 921.2 722.9Z" fill="#8095cc" fill-rule="evenodd"/>
<path d="M905.8 582.8 912.3 582.4 924.4 582.3 931.9 583.1 945.5 586.6 954.6 589.4 962.1 592.4 969.7 596 975.7 599.7 981.4 603.9 986.2 608.4 989.8 612.9 992.2 617.4 993.4 621.9 993.4 626.5 992.7 629.5 991.4 632.5 989.4 635.5 986.7 638.5 983 641.5 977.2 644.7 973.7 646.1 968.2 647.5 959.3 649.1 948.5 650.2 931.9 651.1 899.4 652.1 895.7 652.6 893.1 653.6 900.2 657.5 903.3 659.6 906.6 662.6 908.7 665.6 909.9 668.7 910.4 673.2 909.9 676.2 907.6 680.7 904 685.2 898.9 689.8 892.5 694.3 885.1 698.5 879.1 701.2 872.7 703.3 865.5 704.9 857.9 705.9 838.3 707.5 811.1 708.1 782.4 707.6 762.8 706.7 762.8 672.1 773.4 667.9 782.4 664.8 793 661.7 811.1 657.3 818.7 654.4 820.2 654.2 821.7 654.7 827 658.1 830.7 659.9 833.8 660.6 836.8 660.2 841.1 658.1 846.8 653.6 848.9 650.9 849.7 649.1 850.5 646.1 851 641.5 851.3 625 851.9 618.9 853.1 614.4 854.3 611.4 856.1 608.4 858.4 605.4 862.9 600.8 868.5 596.6 874.5 592.8 880.6 589.7 888.1 586.2 892.7 584.6 905.8 582.8ZM873 648.2 871.5 649.1 870.1 650.6 869.3 652.1 868.9 653.6 868.9 655.1 869.2 656.6 870.1 658.1 871.5 659.4 873 660 874.5 660.2 876.9 659.6 879 658.1 880.2 656.6 880.8 655.1 881 653.6 880.7 652.1 880 650.6 879.1 649.5 877.6 648.3 876 647.8 874.5 647.8 873 648.2ZM1017.1 688.3 1021 687.8 1021 711.1 1007.4 710.1 995.3 708.1 992.3 707.2 989.3 705.8 987.9 704.8 986.4 703.3 986.3 701.8 986.9 700.3 988.1 698.8 989.9 697.3 993.8 695.1 1001.4 692.1 1010.4 689.5 1017.1 688.3ZM1000.4 722.9 1021 722.9 1021 727.3 939.5 727.3 906.2 726.9 883.9 725.9 884.9 724.4 892.7 724 924.4 723.3 1000.4 722.9ZM762.8 724.4 762.8 723 803.6 723.4 827 724.4 827 725.9 803.6 727 762.8 727.3 762.8 724.4Z" fill="#8ea1d3" fill-rule="evenodd"/>
<path d="M899.8 585.8 906.2 584.9 912.3 584.6 924.4 584.7 930.4 585.3 938 586.9 948.5 589.8 956.1 592.4 963.6 595.6 969.7 598.7 975.7 602.6 980.9 606.9 985.1 611.4 987.9 615.9 989.6 620.4 990.1 625 989.7 628 988.6 631 987 634 984.5 637 981.2 640 977.2 642.7 973.4 644.5 969.2 646.1 963.6 647.4 951.5 649.3 933.4 650.6 892.7 651.4 889.6 651.4 886.6 650.9 886.3 652.1 886.6 654.6 888.1 654.6 891.1 655.4 897.2 657.9 901.7 660.8 905.2 664.1 907 667.2 908 670.2 908.3 673.2 908.2 674.7 907.4 677.7 905.8 680.7 902.1 685.2 897.2 689.7 892.7 693 886.6 696.7 879.3 700.3 873 702.6 867 704.1 857.9 705.6 847.4 706.6 827.7 707.5 809.6 707.7 791.5 707.5 776.4 707 762.8 706.1 762.8 674.1 774.9 669.1 787 664.9 797.5 662 811.1 658.7 818.7 656.5 820.2 656.4 821.7 656.6 829.2 660.2 831.7 661.1 833.8 661.5 835.3 661.4 838.3 660.5 842.7 658.1 846.7 655.1 848.2 653.6 849.4 652.1 850.7 649.1 852 641.5 852.7 626.5 853.4 620.4 855.2 614.4 856.7 611.4 858.7 608.4 862.5 604.2 866.3 600.8 871.5 597.1 876 594.4 882.1 591.3 889.6 588.1 894.2 586.7 899.8 585.8ZM873 647.5 871.5 648.4 869.5 650.6 868.4 653.6 868.5 655.5 869.5 658.1 871.5 659.9 873 660.5 874.5 660.7 876 660.5 877.6 660 879.1 658.9 881.2 656.6 881.9 655.1 882 653.6 881.8 652.1 881.1 650.6 880 649.1 877.9 647.6 876 647 874.5 647 873 647.5ZM1018.5 689.8 1021 689.5 1021 710.3 1013.5 709.9 1004.4 708.9 995.3 707.1 990.8 705.2 988.6 703.3 988.5 701.8 989.1 700.3 990.8 698.5 995.3 695.8 1001.4 693.4 1011.9 690.6 1018.5 689.8ZM762.8 724.4 762.8 723.4 796 723.8 815 724.4 814.1 725.5 813.8 725.9 800.5 726.5 762.8 726.9 762.8 724.4ZM896.4 724.4 931.9 723.6 1021 723.3 1021 725.9 1021 726.9 924.4 726.7 896.7 725.9 896.4 724.4Z" fill="#9fafdb" fill-rule="evenodd"/>
<path d="M903.9 587.3 910.8 586.7 918.3 586.7 925.9 587 931.9 587.8 941 589.8 950 592.4 957.6 595.2 965.1 598.7 971.2 602.3 975.4 605.4 978.8 608.4 982.8 612.9 985.3 617.4 986.6 621.9 986.7 626.5 986 629.5 984.6 632.5 982.5 635.5 979.5 638.5 975.7 641.3 972.7 643 969.3 644.5 964.7 646.1 959.1 647.3 945.5 649.2 925.9 650.3 900.2 650.6 891.1 650.3 886.6 649.8 885.8 652.1 885.7 653.6 886 655.1 886.6 656.2 888.1 656.3 891.1 657 896.9 659.6 901.2 662.6 903.9 665.6 905.5 668.7 906.3 673.2 906 676.2 904.8 679.2 903 682.2 898.9 686.7 893.4 691.3 886.6 695.6 879.1 699.5 873.4 701.8 868.2 703.3 860.9 704.7 851.9 705.9 839.8 706.8 818.7 707.4 790 707.2 762.8 705.7 762.8 676.1 774.9 670.7 787 666.3 797.5 663.3 817.2 658.4 820.2 658.1 821.7 658.2 830.7 661.7 833.8 662.3 835.3 662.2 838.3 661.4 841.8 659.6 848.2 655.1 849.6 653.6 851.2 650.6 852 647.6 852.8 643 854.2 626.5 855.3 620.4 856.2 617.4 857.4 614.4 859.2 611.4 861.4 608.4 865.5 604.2 869.6 600.8 874.5 597.5 880.6 594.2 888.1 590.9 892.7 589.3 897.2 588.3 903.9 587.3ZM873 646.8 871.5 647.7 870 649.1 869 650.6 868.3 652.1 868 655.1 868.3 656.6 869 658.1 870.3 659.6 873 661 876 661.1 879.3 659.6 881.1 658.1 882.4 656.6 883.1 655.1 883.3 653.6 883.1 652.1 881.2 649.1 879.1 647.2 877.6 646.5 876 646.2 874.5 646.3 873 646.8ZM1016 691.3 1021 690.7 1021 709.7 1008.9 708.8 999.9 707.4 993.8 705.5 992.5 704.8 990.7 703.3 990.6 701.8 991.3 700.3 992.7 698.8 996.8 696.3 1002.9 694 1010.4 692.1 1016 691.3ZM762.8 724.4 762.8 723.8 779.4 723.9 802.6 724.4 802.1 724.8 800 725.9 762.8 726.4 762.8 724.4ZM908.4 724.4 942.5 723.9 1021 723.8 1021 725.9 1021 726.4 925.9 726.3 909.9 725.9 908.4 724.4Z" fill="#b0bee2" fill-rule="evenodd"/>
<path d="M907.9 588.8 915.3 588.6 924.4 588.9 930.4 589.6 936.4 590.7 944 592.6 951.5 595 959.1 598 965.1 601.1 971.2 605 975.4 608.4 978.7 611.9 981.4 615.9 982.8 618.9 983.7 623.4 983.3 628 982.2 631 980.4 634 977.8 637 974.2 640 971.8 641.5 965.2 644.5 960.3 646.1 954.6 647.2 939.5 649.1 919.8 650 897.2 649.9 891.1 649.5 886.6 648.8 885.6 650.6 885.2 652.1 885.2 655.1 885.7 656.6 886.6 657.6 888.1 657.7 891.1 658.5 894.2 659.9 897.2 661.6 900.2 664.1 901.6 665.6 903.4 668.7 904.3 671.7 904.5 674.7 903.8 677.7 902.3 680.7 898.8 685.2 893.7 689.8 887.2 694.3 880.6 697.9 873 701.3 867 703.1 859.4 704.6 851.9 705.6 833.8 706.9 808.1 707.2 787 706.8 762.8 705.3 762.8 678.1 773.4 672.9 785.4 668.2 797.5 664.5 815.6 660.1 818.7 659.5 821.7 659.5 830.7 662.6 833.8 663.1 835.3 663 838.3 662.2 843.3 659.6 847.8 656.6 849.5 655.1 850.8 653.6 851.9 651.4 853.2 646.1 855.8 626.5 857.1 620.4 858.2 617.4 859.7 614.4 861.7 611.4 864.1 608.4 868.5 604.2 873 600.8 879.1 597.1 885.1 594.2 889.6 592.3 894.2 590.9 901.7 589.5 907.9 588.8ZM873 646 871.5 646.9 870 648.3 868.4 650.6 867.5 653.6 867.9 656.6 868.5 658.1 869.7 659.6 871.5 660.9 874.5 661.7 877.8 661.1 880.5 659.6 883.9 656.6 884.9 655.1 885 653.6 884.6 652.1 882.6 649.1 881.1 647.6 879.1 646.2 877.6 645.5 876 645.3 874.5 645.5 873 646ZM1012.5 692.8 1021 691.7 1021 709.1 1011.9 708.6 1004.4 707.6 998.7 706.3 994.7 704.8 992.8 703.3 992.7 701.8 993.4 700.3 995.3 698.6 999.9 696.2 1005.9 694.2 1012.5 692.8ZM762.8 724.4 783.9 724.5 774.3 725.9 762.8 726 762.8 724.4ZM925.9 724.4 1021 724.2 1021 725.9 931.3 725.9 925.9 724.4Z" fill="#c0cce9" fill-rule="evenodd"/>
<path d="M898.9 591.8 904.7 590.9 910.8 590.4 919.8 590.5 927.4 591 934.9 592.3 942.5 594.1 950 596.4 956.1 598.8 962.1 601.7 966.6 604.4 971.2 607.7 975 611.4 977.4 614.4 979.8 618.9 980.8 623.4 980.7 626.5 979.2 631 977.3 634 974.5 637 970.7 640 965.1 643 961.2 644.5 955.7 646.1 951.5 646.9 945.5 647.8 936.4 648.7 916.8 649.5 897.2 649.2 891.1 648.7 886.6 647.9 885.5 649.1 885.1 650.1 882.6 647.6 880.7 646.1 877.6 644.6 876 644.4 874.5 644.6 871.5 646.2 870 647.5 868.5 649.5 867.4 652.1 867.1 653.6 867.4 656.6 868.1 658.1 870 660.4 871.5 661.4 873 662 876 662.1 879.3 661.1 885.1 657.6 886.6 658.9 889.6 659.5 892.7 660.7 895.7 662.5 897.8 664.1 899.3 665.6 901.4 668.7 902 670.2 902.7 673.2 902.5 676.2 901.5 679.2 899.7 682.2 897.2 685.2 894 688.3 889.6 691.6 885.1 694.5 879.1 697.8 870 701.7 862.5 703.6 850.4 705.4 835.3 706.6 815.6 707 797.5 706.9 779.4 706.1 762.8 704.9 762.8 680.2 771.9 675.2 780.9 671.2 790 667.9 800.5 664.8 815.6 661.3 820.2 660.6 823.2 661 832.3 663.7 835.3 663.8 839.8 662.3 847.2 658.1 850.8 655.1 852.6 652.1 853.8 647.6 856.4 631.5 858.1 623.4 860.4 617.4 862.1 614.4 864.2 611.4 866.8 608.4 870 605.4 874.5 601.9 879.1 599.1 883.6 596.8 889.6 594.3 894.2 592.8 898.9 591.8ZM1019.1 692.8 1021 692.6 1021 708.7 1008.9 707.7 1001.4 706.3 996.9 704.8 994.8 703.3 994.7 701.8 995.5 700.3 997.2 698.8 1001.4 696.6 1005.9 695.1 1011.9 693.7 1019.1 692.8Z" fill="#d0d9ef" fill-rule="evenodd"/>
<path d="M900 593.3 906.2 592.4 912.3 592.1 921.3 592.3 928.9 593 934.9 594.1 942.5 595.9 950 598.3 956.1 600.8 962 603.9 966.6 606.9 970.3 609.9 973.2 612.9 975.7 616.5 977.4 620.4 977.9 625 977.5 628 976.3 631 974.3 634 971.3 637 967.3 640 962.1 642.7 957.6 644.4 951.5 645.9 947 646.7 939.5 647.7 928.9 648.5 907.8 649 894.2 648.2 889.6 647.7 886.6 646.9 885.1 648.3 880.1 644.5 877.6 643.5 876 643.4 874.5 643.6 871.5 645.3 870 646.7 868.2 649.1 867.4 650.6 866.6 653.6 866.7 655.1 867.6 658.1 868.6 659.6 870 661 871.5 661.9 874.5 662.7 876 662.6 879.1 661.9 885.1 659.3 886.6 660.2 889.6 660.9 893.2 662.6 897.2 665.7 899.4 668.7 900.2 670.4 900.9 673.2 900.9 676.2 899.9 679.2 898.2 682.2 895.7 685.2 891.1 689.4 886.6 692.6 881.4 695.8 875.4 698.8 867.7 701.8 859.4 703.8 848.9 705.3 833.8 706.4 815.6 706.8 799 706.6 780.9 705.9 762.8 704.5 762.8 682.2 770.1 677.7 779.4 673.2 788.5 669.6 799 666.3 812.6 663 820.2 661.7 823.2 662 832.3 664.4 835.3 664.5 838.3 663.7 840.8 662.6 848.7 658.1 851.9 655.3 853.6 652.1 854.4 649.1 857.6 632.5 859.4 625.2 861.8 618.9 865.5 612.9 868 609.9 871.5 606.5 876 603 880.6 600.3 886.6 597.3 891.1 595.5 900 593.3ZM1013.4 694.3 1021 693.3 1021 708.3 1007.4 707 1002.9 706.1 999 704.8 996.8 703.3 996.7 701.8 997.6 700.3 998.4 699.6 999.4 698.8 1002.3 697.3 1007.4 695.6 1013.4 694.3Z" fill="#e0e6f5" fill-rule="evenodd"/>
<path d="M900.8 594.8 906.2 594 912.3 593.7 919.8 593.8 927.4 594.5 933.4 595.4 941 597.2 948.5 599.6 954.6 602.1 960.6 605.2 965.1 608.3 968.8 611.4 971.4 614.4 973.3 617.4 974.9 621.9 975.1 625 974.7 628 973.4 631 971.3 634 968.2 637 963.9 640 959.1 642.4 954.6 644 950 645.2 944 646.4 934 647.6 925.9 648.1 913.8 648.4 903.2 648.2 894.2 647.5 886.6 646 885.1 646.7 880.6 643.6 877.6 642.4 876 642.2 874.5 642.5 873 643.3 870 645.9 868.5 647.6 867.5 649.1 866.3 652.1 866.2 655.1 866.5 656.6 868.1 659.6 869.6 661.1 871.5 662.3 874.5 663.1 877.6 662.9 885.1 660.7 890.4 662.6 894.2 665 897.2 668.3 898.9 671.7 899.3 674.7 899 677.7 897.7 680.7 895.6 683.7 892.7 686.7 889.2 689.8 883.6 693.6 877.6 697 871.5 699.8 865.5 701.9 856.4 704 847.4 705.2 833.8 706.2 815.6 706.5 799 706.4 782.4 705.7 762.8 704.2 762.8 684.4 770.4 679.2 777.9 675.2 787 671.3 797.5 667.8 809.6 664.7 815.6 663.4 820.2 662.7 824.7 663.2 832.3 665.2 835.3 665.2 838.3 664.4 841.3 663.1 850.2 658.1 852 656.6 854 653.6 855.3 649.1 857.9 636.3 860.9 626.2 864.1 618.9 868 612.9 870.6 609.9 873.9 606.9 877.9 603.9 882.1 601.3 886.6 599.1 891.1 597.3 895.7 595.9 900.8 594.8ZM1018.7 694.3 1021 694.1 1021 707.9 1011.9 707.1 1005.9 706.2 1001.1 704.8 998.8 703.3 998.7 701.8 999.6 700.3 1002.9 698.1 1007.4 696.4 1013.5 695 1018.7 694.3Z" fill="#eaeef8" fill-rule="evenodd"/>
<path d="M901.2 596.3 906.2 595.6 912.3 595.2 919.8 595.4 927.4 596.1 933.4 597.1 939.5 598.5 945.5 600.3 951.5 602.6 957.1 605.4 961.9 608.4 965.6 611.4 968.5 614.4 970.5 617.4 971.8 620.4 972.4 625 971.9 628 970.6 631 968.3 634 965.1 637 960.6 640 956.1 642.1 951.5 643.7 947 644.8 940.5 646.1 931.9 647 922.9 647.6 912.3 647.8 903.2 647.6 892.7 646.4 886.6 644.9 885.1 645.2 880.6 642.4 877.6 641.1 876 640.9 874.5 641.2 873 642 868.5 646.6 866.2 650.6 865.8 652.1 865.7 655.1 866.6 658.1 867.5 659.6 870 662 873 663.3 874.5 663.6 877.6 663.5 883.6 662.1 885.1 662 890.5 664.1 894.3 667.2 896.5 670.2 897.5 673.2 897.7 676.2 896.9 679.2 895.3 682.2 892.8 685.2 888.1 689.5 883.5 692.8 878.3 695.8 872.2 698.8 867 700.9 859.4 703 851.9 704.3 841.3 705.5 830.7 706.1 812.6 706.3 796 706.1 782.4 705.4 762.8 703.9 762.8 686.8 768.4 682.2 776.4 677.3 785.4 673.1 796 669.2 808.1 666 815.6 664.3 820.2 663.7 824.7 664.1 832.3 665.8 835.3 665.8 840.6 664.1 850.4 659 853.3 656.6 855 653.6 855.9 650.6 858.1 640 860.9 631.2 865.6 620.4 868.2 615.9 870.5 612.9 873.2 609.9 876.6 606.9 883.6 602.4 888.1 600.2 892.7 598.5 901.2 596.3ZM1013.3 695.8 1021 694.7 1021 707.5 1010.4 706.5 1003.3 704.8 1000.7 703.3 1000.6 701.8 1001.7 700.3 1003.8 698.8 1007.4 697.3 1013.3 695.8Z" fill="#f3f6fb" fill-rule="evenodd"/>
<path d="M901.3 597.8 906.2 597.1 912.3 596.7 919.8 596.9 925.9 597.4 931.9 598.4 938 599.7 944 601.5 950.2 603.9 954.6 606 959.1 608.7 962.5 611.4 965.5 614.4 967.7 617.4 969 620.4 969.7 625 969.1 628 967.7 631 965.4 634 962 637 957 640 953.1 641.8 947 643.7 942.5 644.7 934.9 645.9 925.9 646.7 916.8 647.1 907.8 647 900.2 646.6 894.2 645.8 889.6 644.8 886.6 643.8 885.1 643.7 880.6 641 877.6 639.6 876 639.3 874.5 639.5 873 640.3 868.1 646.1 866.2 649.1 865.6 650.6 865 653.6 865.1 655.1 866 658.1 867 659.6 868.3 661.1 870 662.5 873 663.8 876 664.2 882.1 663.3 885.1 663.2 889.6 665.2 892.3 667.2 894.7 670.2 895.9 673.2 896.2 676.2 895.5 679.2 893.9 682.2 891.5 685.2 888.3 688.3 884.4 691.3 879.1 694.6 873 697.7 867 700.3 859.4 702.6 851.9 704 842.8 705.1 830.7 705.8 814.1 706.1 797.5 705.9 783.9 705.2 762.8 703.5 762.8 689.6 765.4 686.7 768.9 683.7 775.6 679.2 784.4 674.7 794.5 670.7 805.1 667.6 818.7 664.7 823.2 664.6 832.3 666.5 835.3 666.5 838.3 665.7 841.3 664.5 851 659.6 853.4 657.8 855.4 655.1 856.9 650.6 859.3 640 860.9 635.4 868.8 618.9 870.7 615.9 872.9 612.9 877.6 608.3 881.6 605.4 885.1 603.4 892.7 600.1 901.3 597.8ZM1017.5 695.8 1021 695.4 1021 707.1 1013.5 706.4 1008.9 705.7 1005.5 704.8 1002.7 703.3 1002.6 701.8 1003.7 700.3 1006.1 698.8 1010.2 697.3 1017.5 695.8Z" fill="#f9fbfd" fill-rule="evenodd"/>
<path d="M901.3 599.3 906.2 598.6 912.3 598.2 919.8 598.4 925.9 598.9 931.9 599.9 938 601.3 944 603.2 948.5 605 953.1 607.2 957.4 609.9 961.1 612.9 963.8 615.9 965.7 618.9 966.7 621.9 967 625 966.4 628 965 631 962.5 634 958.8 637 953.5 640 949.9 641.5 944 643.3 938.2 644.5 930.4 645.6 922.9 646.2 912.3 646.4 904.7 646.2 898.7 645.6 892.7 644.5 885.1 642.2 879.1 638.6 876 637.4 874.5 637.2 873 637.8 871.5 639.5 866.1 647.6 864.8 650.6 864.4 652.1 864.5 655.1 865.5 658.1 867.7 661.1 869.5 662.6 871.5 663.7 873 664.3 876 664.7 882.1 664.2 885.1 664.4 889.6 666.7 891.8 668.7 893.8 671.7 894.6 674.7 894.5 677.7 893.5 680.7 891.5 683.7 888.7 686.7 883.6 690.9 878.2 694.3 872.5 697.3 867 699.7 860.9 701.7 854 703.3 843 704.8 833.8 705.5 821.7 705.9 808.1 705.9 794.5 705.5 762.8 703.2 762.8 693 765.1 689.8 767.8 686.7 773.2 682.2 777.9 679.2 782.4 676.8 793 672.2 806.6 668.1 818.7 665.6 823.2 665.4 832.3 667.2 833.8 667.2 836.8 666.8 841.3 665.2 852.6 659.6 854.9 657.5 856.5 655.1 857.6 652.1 859.4 643.8 860.9 639.2 862.5 636 867.3 628 871.3 618.9 874.5 613.9 879.1 609.3 885.1 605.1 892.7 601.7 901.3 599.3ZM1013.2 697.3 1021 696 1021 706.7 1016.3 706.3 1007.8 704.8 1004.7 703.3 1004.6 701.8 1005.9 700.3 1008.5 698.8 1013.2 697.3Z" fill="#fcfdfe" fill-rule="evenodd"/>
<path d="M901.2 600.8 909.3 599.7 918.3 599.7 927.4 600.6 936 602.3 944 604.9 951.5 608.3 956.2 611.4 959.1 613.9 961 615.9 962.1 617.6 963.5 620.4 964 621.9 964.3 625 963.7 628 963 629.5 961 632.5 959.5 634 955.6 637 949.8 640 942.5 642.5 933.4 644.3 924.4 645.2 913.8 645.6 904.7 645.3 897.2 644.4 891.4 643 885.1 640.7 872.2 632.5 871.4 631 871.3 629.5 871.5 626.5 872.1 623.4 873 620.4 874.5 617.4 877.8 612.9 882.1 609 888 605.4 894.2 602.7 901.2 600.8ZM865.7 635.5 867 634.5 868.5 634.1 869.7 635.5 869.7 637 868.6 641.5 865 647.6 864.3 649.1 863.5 652.1 863.7 655.1 864.8 658.1 865.8 659.6 868.7 662.6 870 663.5 873 664.7 876 665.2 882.1 665.1 885.1 665.6 888 667.2 889.6 668.4 892.1 671.7 892.7 673.2 893.2 676.2 892.7 679.2 891.2 682.2 887.4 686.7 883.8 689.8 880.6 692 871.5 697.1 863.8 700.3 858.9 701.8 853.4 703.1 844.3 704.4 833.8 705.3 812.6 705.7 794.5 705.3 762.8 703 762.8 694.5 763.7 694.3 765.5 692.8 767.4 689.8 770 686.7 775.4 682.2 782.4 678 790 674.4 799 671.1 811.1 667.8 820.2 666.2 824.7 666.4 832.3 667.8 835.3 667.7 839.8 666.4 851.7 661.1 854.1 659.6 855.7 658.1 856.9 656.6 858.9 652.1 860.6 644.5 861.7 641.5 864 637.4 865.7 635.5ZM1016.8 697.3 1021 696.7 1021 706.3 1013.5 705.5 1010.2 704.8 1006.8 703.3 1006.7 701.8 1008.1 700.3 1011.1 698.8 1016.8 697.3Z" fill="#ffffff" fill-rule="evenodd"/>
<path d="M901 602.3 907.8 601.3 915.3 601.1 924.4 601.7 933.4 603.3 941 605.5 947.9 608.4 953.1 611.4 956.1 613.9 958.1 615.9 959.2 617.4 960.8 620.4 961.3 621.9 961.6 625 961 628 960.3 629.5 958.1 632.5 954.6 635.6 948.5 639 941.4 641.5 933.4 643.3 922.9 644.5 913.8 644.8 905.7 644.5 897.2 643.3 890.7 641.5 885.1 639 880.2 635.5 877.1 632.5 875.1 629.5 874.7 628 874.4 625 874.9 621.9 876 618.9 878.9 614.4 883.6 610 888.1 607 894.2 604.3 901 602.3ZM863.9 643 864 642.8 864.6 643 864.2 644.5 864 645 863.7 644.5 863.9 643ZM860.5 653.6 860.9 652.5 862.5 654.6 863.1 656.6 865 659.6 868 662.6 870 664 871.5 664.7 874.5 665.6 882.1 666 885.1 666.8 888.1 668.9 890.5 671.7 891.2 673.2 891.8 676.2 891.7 677.7 890.8 680.7 890 682.2 887.6 685.2 882.5 689.8 875.6 694.3 867 698.5 857.9 701.6 850.1 703.3 837.7 704.8 827.7 705.3 809.6 705.5 793 705 772.7 703.3 762.8 702.8 762.8 695.2 766.2 694.3 767.7 692.8 770.7 688.3 775.5 683.7 782.3 679.2 790 675.4 799 672 808.1 669.3 815.6 667.6 820.2 667 824.7 667.1 833.8 668.5 836.8 668 839.6 667.2 853.4 661.1 855.6 659.6 857.1 658.1 860.5 653.6ZM1013.9 698.8 1021 697.4 1021 705.9 1016.5 705.4 1012.8 704.8 1008.9 703.3 1008.9 701.8 1010.4 700.3 1013.9 698.8Z" fill="#fffffb" fill-rule="evenodd"/>
<path d="M900.8 603.9 907.8 602.7 915.3 602.5 924.4 603.1 931.9 604.4 939.5 606.6 945.5 609.1 951.5 612.7 955.1 615.9 957.3 618.9 958 620.4 958.8 623.4 958.7 626.5 958.2 628 956.5 631 953.1 634.3 950 636.4 947 638 941 640.3 933.4 642.2 925.9 643.3 915.3 643.9 907.8 643.7 900.2 642.8 894.2 641.4 888.1 638.9 883.6 636.1 879.8 632.5 877.9 629.5 877.3 628 876.9 625 877.7 620.4 880.1 615.9 882.1 613.6 884.5 611.4 889 608.4 894.2 605.9 900.8 603.9ZM858.8 658.1 859.4 657.4 860.9 656.7 862.5 657.5 864.1 659.6 867.2 662.6 870 664.5 874.5 666.1 880.6 666.7 883.6 667.4 885.9 668.7 887.6 670.2 888.8 671.7 889.6 673.2 890.4 676.2 890.4 677.7 889.5 680.7 888.7 682.2 886.4 685.2 881.3 689.8 874.3 694.3 865.5 698.5 856.4 701.6 848.1 703.3 835.3 704.8 826.2 705.2 809.6 705.3 794.5 704.8 774.9 703.2 762.8 702.6 762.8 695.9 768.5 694.3 769.8 692.8 771.6 689.8 774.1 686.7 779.6 682.2 785.4 678.6 793 675.1 800.5 672.3 811.1 669.4 817.2 668.1 821.7 667.6 824.7 667.8 833.8 669 838.3 668.2 853.4 662 856.4 660.2 858.8 658.1ZM1017.2 698.8 1021 698.1 1021 705.5 1016.5 704.9 1011.2 703.3 1011.2 701.8 1012.9 700.3 1017.2 698.8Z" fill="#fffff8" fill-rule="evenodd"/>
<path d="M912.9 603.9 919.8 604.1 927.4 605 934.9 606.8 941 608.9 946.1 611.4 950.4 614.4 953.4 617.4 954.6 619.1 955.8 621.9 956.1 625 955.9 626.5 954.6 629.5 952.1 632.5 948.5 635.2 944 637.6 938 639.8 930.4 641.5 924.4 642.3 915.3 642.9 907.8 642.7 900.2 641.7 894.2 640.1 889.6 638.1 885.1 635.2 882.3 632.5 881.2 631 879.7 628 879.3 626.5 879.2 623.4 879.9 620.4 880.6 618.9 883.6 614.6 887.3 611.4 892.7 608.2 898.7 605.9 906.2 604.3 912.9 603.9ZM859.1 659.6 860.9 658.8 862.5 659.3 867 663.1 871.5 665.7 874.5 666.7 880.6 667.6 883.6 668.6 885.8 670.2 888.1 673.2 888.6 674.7 889 677.7 888.7 679.2 887.4 682.2 883.7 686.7 877.9 691.3 870.1 695.8 862.5 699.1 853.8 701.8 846.1 703.3 833.8 704.7 823.2 705 806.6 705 793 704.5 774.9 703 762.8 702.3 762.8 696.2 766.5 695.8 770.7 694.3 774.7 688.3 777.6 685.2 781.5 682.2 786.4 679.2 791.5 676.7 797.5 674.2 805.1 671.7 814.1 669.5 820.2 668.5 824.7 668.5 832.3 669.6 833.8 669.6 836.8 669.2 839.8 668.3 854.1 662.6 859.1 659.6ZM1015.8 700.3 1021 698.9 1021 705 1018 704.6 1013.7 703.3 1013.6 701.8 1015.8 700.3Z" fill="#fffff1" fill-rule="evenodd"/>
<path d="M910.3 605.4 916.8 605.4 924.4 606.1 930.4 607.2 936.4 608.9 942.3 611.4 947 614.3 950.4 617.4 952.4 620.4 953.1 622.5 953.3 625 952.6 628 950.6 631 947.1 634 942.5 636.6 937.4 638.5 931.7 640 924.4 641.2 916.8 641.8 909.3 641.7 903.2 641.1 897.2 639.7 892.7 637.9 888.1 635.4 884.8 632.5 883.6 631 882 628 881.4 625 881.8 621.9 882.2 620.4 883.6 617.8 885 615.9 888.1 612.9 892.9 609.9 898.7 607.5 904.7 606 910.3 605.4ZM858.9 661.1 860.9 660.4 862.5 660.7 868.5 664.7 871.5 666.3 882.1 669.2 883.8 670.2 885.1 671.3 886.5 673.2 887.2 674.7 887.6 677.7 887.4 679.2 886.2 682.2 885.2 683.7 882.5 686.7 878.9 689.8 876 691.7 868.8 695.8 860.9 699.1 852.1 701.8 844 703.3 833.8 704.4 820.2 704.9 805.1 704.8 791.5 704.1 776.4 702.8 762.8 702.1 762.8 696.6 769.2 695.8 772.7 694.3 775.4 689.8 777.9 686.7 781.3 683.7 785.4 680.9 790 678.4 796 675.7 802.1 673.5 808.1 671.7 815.6 669.9 821.7 669.1 824.7 669.1 832.3 670.1 833.8 670.2 836.8 669.7 840.3 668.7 853.4 663.7 858.9 661.1ZM1019.2 700.3 1021 699.9 1021 704.4 1019.5 704.1 1016.5 703.3 1016.5 701.8 1019.2 700.3Z" fill="#fffee8" fill-rule="evenodd"/>
<path d="M909.6 606.9 915.3 606.8 922.9 607.3 928.9 608.4 934.2 609.9 939.5 612 943.7 614.4 947.2 617.4 949.4 620.4 950.3 623.4 950.2 626.5 948.7 629.5 945.8 632.5 941 635.4 937.2 637 931.9 638.6 924.4 640 916.8 640.6 910.8 640.6 904.7 640.1 898.7 638.7 894.1 637 889.1 634 886.1 631 884.4 628 883.8 625 884.1 621.9 884.6 620.4 886.3 617.4 889.1 614.4 893.5 611.4 898.7 609.1 903.2 607.8 909.6 606.9ZM858.2 662.6 860.9 661.7 862.5 661.9 871.5 666.8 880.6 669.6 883.7 671.7 884.9 673.2 885.7 674.7 886.3 677.7 886.1 679.2 885.7 680.7 884 683.7 879.6 688.3 873.1 692.8 865.5 696.7 857.9 699.7 850.3 701.8 841.9 703.3 833.8 704.2 815.6 704.7 802.1 704.4 788.5 703.5 774.9 702.4 762.8 701.9 762.8 697 771.7 695.8 774.6 694.3 777.2 689.8 779.6 686.7 783.1 683.7 787.6 680.7 793 677.9 797.5 675.9 803.6 673.8 809.6 672 817.2 670.3 821.7 669.7 824.7 669.8 832.3 670.7 835.3 670.6 839.8 669.4 858.2 662.6ZM1019.9 701.8 1021 701.4 1021 703.3 1021 703.5 1020 703.3 1019.9 701.8Z" fill="#fffdde" fill-rule="evenodd"/>
<path d="M909.5 608.4 915.3 608.2 921.3 608.7 927.4 609.7 933.3 611.4 938 613.4 942.1 615.9 944 617.5 946.3 620.4 947.3 623.4 947.1 626.5 945.5 629.5 944 631.1 939.8 634 936.4 635.6 930.4 637.5 924.4 638.7 916.8 639.4 910.8 639.4 904.7 638.8 900.2 637.7 895.7 636 892.1 634 888.7 631 886.8 628 886.1 625 886.5 621.9 887.8 618.9 888.9 617.4 891.1 615.2 894.4 612.9 898.7 610.8 903.2 609.4 909.5 608.4ZM856.9 664.1 860.9 662.9 862.5 663 864 663.5 871.5 667.4 879.1 670 880.6 670.8 881.8 671.7 883.3 673.2 884.2 674.7 884.7 676.2 884.9 679.2 884.5 680.7 882.8 683.7 878.4 688.3 871.9 692.8 864 696.8 856.4 699.7 848.6 701.8 839.7 703.3 830.7 704.1 815.6 704.5 802.1 704.2 790 703.4 776.4 702.3 762.8 701.6 762.8 697.4 770.3 696.5 774.1 695.8 774.9 695.3 776.5 694.3 778.9 689.8 781.4 686.7 784.8 683.7 789.4 680.7 794.5 678.1 800.5 675.6 806.6 673.6 812.6 672 817.2 671 821.7 670.4 824.7 670.4 832.3 671.3 835.3 671.1 839.8 670 847.4 667.2 856.9 664.1Z" fill="#fffcd0" fill-rule="evenodd"/>
<path d="M910.3 609.9 915.3 609.8 919.8 610.1 925.9 611.1 930.4 612.3 934.9 614.1 938.3 615.9 941 618 943 620.4 944.1 623.4 944.2 625 943.9 626.5 942.5 629 940.6 631 938 632.8 933.4 634.9 928.9 636.3 924.4 637.2 918.3 637.9 912.3 638.1 907.8 637.8 903.2 637 898.5 635.5 894.2 633.2 891.5 631 889.4 628 888.7 625 889 621.9 890.5 618.9 893.4 615.9 897.2 613.4 901.7 611.5 906.2 610.4 910.3 609.9ZM860.1 664.1 862.5 664 864 664.4 871.5 668.1 879.1 671.2 881.6 673.2 882.7 674.7 883.3 676.2 883.6 679.2 883.2 680.7 882.5 682.2 880.4 685.2 875.3 689.8 867.9 694.3 860.9 697.5 852.8 700.3 845.8 702 835.3 703.5 823.2 704.1 809.6 704.2 797.5 703.7 785.4 702.7 762.8 701.2 762.8 697.8 770.3 697 776.2 695.8 778.3 694.3 780.6 689.8 783 686.7 787 683.4 793 679.7 802.1 675.8 808.1 673.9 814.1 672.3 818.7 671.4 823.2 671 832.3 671.8 835.3 671.7 839.8 670.6 848.9 667.3 860.1 664.1Z" fill="#fffbc2" fill-rule="evenodd"/>
<path d="M903.2 612.9 907.8 611.9 912.3 611.4 918.3 611.7 922.9 612.3 927.4 613.3 931.9 614.9 934.9 616.5 938 618.8 939.4 620.4 940.7 623.4 940.8 625 940.5 626.5 939.7 628 938 629.9 934.9 632 928.9 634.5 924.4 635.7 919.8 636.3 913.8 636.7 909.3 636.5 904.7 635.7 900.2 634.3 896.6 632.5 894.6 631 892.7 628.7 891.6 626.5 891.4 623.4 892.5 620.4 894.2 618.2 896.8 615.9 899.4 614.4 903.2 612.9ZM857.8 665.6 860.9 665 862.5 665 865.5 665.8 878 671.7 879.9 673.2 881.1 674.7 881.9 676.2 882.3 679.2 882 680.7 880.4 683.7 879.3 685.2 876.1 688.3 872 691.3 868.5 693.3 860 697.3 851.9 700.1 844.9 701.8 835.3 703.3 823.2 703.9 811.1 703.9 799 703.5 788.5 702.6 762.8 700.9 762.8 698.2 771.9 697.3 778.3 695.8 780.1 694.3 782.2 689.8 784.7 686.7 788.2 683.7 793 680.7 797.5 678.4 803.1 676.2 814.1 673 818.7 672.1 823.2 671.7 832.3 672.4 835.3 672.2 839.8 671.1 848.9 668 857.8 665.6Z" fill="#fffab4" fill-rule="evenodd"/>
<path d="M904.9 614.4 909.3 613.5 912.3 613.3 916.8 613.4 921.3 613.9 924.4 614.6 928.6 615.9 931.7 617.4 933.9 618.9 935.4 620.4 936.5 621.9 937 623.4 937.1 625 936.7 626.5 934.9 628.9 932.1 631 928.9 632.5 925.9 633.4 918.3 634.8 913.8 635 909.3 634.8 904.9 634 901.7 632.9 898.7 631.3 897.2 630.1 895.3 628 894.6 626.5 894.3 625 894.8 621.9 895.6 620.4 896.8 618.9 898.6 617.4 901 615.9 904.9 614.4ZM854.9 667.2 860.9 665.9 862.5 665.9 865.5 666.7 876.1 671.7 878.2 673.2 879.6 674.7 880.4 676.2 881 679.2 880.7 680.7 879.3 683.7 878.1 685.2 875 688.3 868.3 692.8 860.9 696.3 851.9 699.6 843 701.8 835.3 703 824.7 703.6 812.6 703.7 800.5 703.3 790 702.5 774.9 701.2 762.8 700.6 762.8 698.6 773.4 697.6 777.9 696.6 780.3 695.8 781.8 694.3 783.8 689.8 786.3 686.7 789.9 683.7 794.7 680.7 799 678.6 805.1 676.3 815.6 673.3 820.2 672.5 823.2 672.3 832.3 672.9 835.3 672.8 839.8 671.7 848.9 668.6 854.9 667.2Z" fill="#fff8a2" fill-rule="evenodd"/>
<path d="M907.6 615.9 910.8 615.4 913.8 615.3 920.3 615.9 925.9 617.5 928.8 618.9 930.8 620.4 932 621.9 932.7 623.4 932.8 625 932.4 626.5 931.2 628 929.4 629.5 926.3 631 922.9 632.1 919.8 632.7 915.3 633.1 910.8 633.1 907.8 632.6 902.8 631 900.4 629.5 898.9 628 898 626.5 897.7 625 897.8 623.4 898.3 621.9 899.3 620.4 900.9 618.9 903.2 617.5 907.6 615.9ZM858.8 667.2 860.9 666.9 864 667.1 867 668.1 871.4 670.2 876.5 673.2 878 674.7 879 676.2 879.5 677.7 879.5 680.7 878.9 682.2 876.9 685.2 873.8 688.3 871.9 689.8 868.5 691.9 864 694.4 856.4 697.6 847.9 700.3 841 701.8 833.8 702.8 823.2 703.4 809.6 703.4 800.5 703 786 701.8 776.4 700.9 763.4 700.3 766.9 698.8 776.4 697.7 779.4 696.9 782.2 695.8 783.4 694.3 785.4 689.8 787.9 686.7 793 682.7 799 679.5 807.5 676.2 817.2 673.7 823.2 672.9 832.3 673.5 835.3 673.3 839.8 672.2 848.9 669.3 858.8 667.2Z" fill="#fff68f" fill-rule="evenodd"/>
<path d="M906.9 618.9 910.8 618 915.3 617.9 921.2 618.9 924.6 620.4 926.4 621.9 927.4 623.4 927.5 625 926.9 626.5 925.9 627.5 922.9 629.2 918.3 630.4 912.3 630.9 907.8 630.1 904.7 628.7 903.6 628 902.4 626.5 901.9 625 902 623.4 902.7 621.9 904.2 620.4 906.9 618.9ZM854.8 668.7 860.9 667.8 862.5 667.8 865.5 668.3 868.5 669.6 872.6 671.7 876 674.3 877.5 676.2 878.1 677.7 878.2 680.7 876.9 683.7 875.8 685.2 872.7 688.3 867 692.1 860.9 695.2 853.4 698.1 846.2 700.3 838.3 701.9 830.7 702.7 817.2 703.2 806.6 703 796 702.4 771.4 700.3 772.7 698.8 779.4 697.7 784 695.8 785.1 694.3 786.1 691.3 788 688.3 791.1 685.2 795.5 682.2 800.5 679.6 805.1 677.8 815.6 674.6 823.2 673.5 832.3 674 835.3 673.9 839.8 672.8 848.9 669.9 854.8 668.7Z" fill="#fff47d" fill-rule="evenodd"/>
<path d="M912.2 621.9 915.3 622.1 918.4 623.4 918.8 625 916.8 626.5 912.3 626.9 910.3 626.5 909.3 625.5 908.8 625 909.1 623.4 910.8 622.4 912.2 621.9ZM860.8 668.7 862.5 668.7 865.5 669.2 868.5 670.4 871.5 672.1 874.9 674.7 876 676.2 876.7 677.7 877 679.2 876.9 680.7 876.5 682.2 875.7 683.7 873.2 686.7 869.5 689.8 864 693.1 857.9 695.9 849.9 698.8 844.3 700.3 835.3 702 826.2 702.7 815.6 702.9 805.1 702.7 794.5 701.9 777.7 700.3 777.5 698.8 782.4 697.6 785.8 695.8 786.7 694.3 787.6 691.3 788.5 689.8 791 686.7 794.7 683.7 800 680.7 808.1 677.5 817.2 675 823.2 674.2 832.3 674.6 835.3 674.4 838.3 673.8 850.4 670.2 860.8 668.7Z" fill="#fff16c" fill-rule="evenodd"/>
<path d="M854.3 670.2 860.9 669.5 865.5 670.1 868.5 671.3 871.6 673.2 873.3 674.7 874.6 676.2 875.3 677.7 875.7 680.7 874.5 683.7 873.5 685.2 870.4 688.3 866 691.3 860.2 694.3 851.9 697.6 842.5 700.3 835.3 701.7 820.2 702.5 803.6 702.3 782.8 700.3 781.5 698.8 785.4 697.3 787.6 695.8 789.2 691.3 790 689.8 792.5 686.7 796.4 683.7 800.5 681.3 805.3 679.2 809.6 677.7 815.6 676 823.2 674.8 832.3 675.2 835.3 675 839.8 673.9 848.9 671.2 854.3 670.2Z" fill="#ffed5d" fill-rule="evenodd"/>
<path d="M849.5 671.7 857.9 670.6 862.5 670.5 867 671.6 869.9 673.2 871.5 674.5 873.1 676.2 873.9 677.7 874.4 680.7 873.4 683.7 871.5 686.1 869.2 688.3 867 689.9 862 692.8 855.4 695.8 846.5 698.8 840.6 700.3 833.8 701.5 829.2 701.9 818.7 702.3 809.6 702.2 801.4 701.8 787.1 700.3 785 698.8 787 697.9 789.4 695.8 790.7 691.3 791.5 689.8 793 687.9 795.9 685.2 800.6 682.2 803.7 680.7 811.8 677.7 817.2 676.3 823.2 675.4 832.3 675.7 835.3 675.6 849.5 671.7Z" fill="#fee84d" fill-rule="evenodd"/>
<path d="M854.5 671.7 859.4 671.4 864 671.8 865.5 672.2 868.5 673.7 869.9 674.7 871.5 676.4 872.8 679.2 873 680.7 872.7 682.2 872 683.7 870 686.3 865.8 689.8 860.6 692.8 853.7 695.8 844.6 698.8 838.3 700.3 833.8 701 823.9 701.8 807.8 701.8 791.5 700.3 788.6 698.8 790 697.6 791.4 695.8 792.4 691.3 794.4 688.3 797.5 685.3 799.9 683.7 805.1 681 809.6 679.2 818.7 676.7 824.7 676.1 832.3 676.3 835.3 676.1 838.3 675.5 847.4 672.9 854.5 671.7Z" fill="#fee43e" fill-rule="evenodd"/>
<path d="M849.7 673.2 854.9 672.6 860.9 672.5 865.5 673.6 868.5 675.3 870.5 677.7 871.1 679.2 871.3 680.7 871.1 682.2 869.5 685.2 866.4 688.3 861.8 691.3 855.7 694.3 848.9 696.8 842.3 698.8 833.8 700.6 823.2 701.4 814.1 701.5 806.6 701.2 796.3 700.3 792.3 698.8 793.6 695.8 793.9 692.8 795.1 689.8 796.2 688.3 799 685.7 801.9 683.7 806.6 681.4 812.3 679.2 817.2 677.9 823.2 676.9 832.3 677 835.3 676.8 849.7 673.2Z" fill="#fddb3a" fill-rule="evenodd"/>
<path d="M846.5 674.7 851.9 673.7 857.9 673.5 862.5 674 865.5 675.1 867.2 676.2 868.6 677.7 869.3 679.2 869.6 680.7 869.5 682.2 868.9 683.7 866.6 686.7 862.7 689.8 857.3 692.8 851.9 695.1 845.3 697.3 839.8 698.8 833.8 700 826.2 700.7 817.2 701 809.6 700.9 801.4 700.3 796 698.8 795.8 694.3 796.3 691.3 797.5 689.1 799.7 686.7 803.6 684 807 682.2 811.1 680.6 817.2 678.7 823.2 677.7 835.3 677.6 846.5 674.7Z" fill="#fcd136" fill-rule="evenodd"/>
<path d="M851.3 674.7 856.4 674.5 860.9 675 864 676 866.3 677.7 867.3 679.2 867.8 680.7 867.8 682.2 867.3 683.7 866.3 685.2 863.2 688.3 858.5 691.3 855.5 692.8 847.9 695.8 842.8 697.3 833.8 699.4 825 700.3 815.6 700.6 808.2 700.3 805.1 699.9 800 698.8 799 697.8 798 694.3 797.9 692.8 798.3 691.3 800.2 688.3 803.8 685.2 809.6 682.2 814.1 680.5 818.7 679.2 824.7 678.4 832.3 678.5 835.3 678.3 845.8 675.7 851.3 674.7Z" fill="#fbc832" fill-rule="evenodd"/>
<path d="M847.6 676.2 853.4 675.6 857.9 675.9 860.9 676.6 864 678.2 864.9 679.2 865.6 680.7 865.8 682.2 865.4 683.7 864.5 685.2 861.4 688.3 856.6 691.3 853.5 692.8 845.8 695.7 840.2 697.3 833.6 698.8 818.7 699.9 812.6 699.8 806.6 699.1 804.7 698.8 802 697.3 800.5 694.8 800.2 692.8 800.5 691.3 801.2 689.8 804 686.7 806.1 685.2 811.1 682.7 818.7 680.2 824.7 679.3 835.3 679.1 847.6 676.2Z" fill="#fabb30" fill-rule="evenodd"/>
<path d="M845.3 677.7 848.9 677.1 853.4 676.9 857.9 677.4 860.9 678.6 861.8 679.2 863 680.7 863.4 682.2 863.2 683.7 862.4 685.2 861.1 686.7 857.2 689.8 854.5 691.3 848.9 693.7 842.8 695.7 833.8 697.9 821.7 699 811.9 698.8 808.1 698 806.1 697.3 803.6 695.1 803 694.3 802.7 692.8 802.9 691.3 803.6 689.8 805.1 688 808.1 685.7 811.1 684 815.5 682.2 818.7 681.3 824.7 680.3 835.3 680 845.3 677.7Z" fill="#f8ad2f" fill-rule="evenodd"/>
<path d="M843.4 679.2 847.4 678.5 851.9 678.2 854.9 678.5 857.9 679.4 859.8 680.7 860.7 682.2 860.7 683.7 860.1 685.2 858.9 686.7 855 689.8 852.2 691.3 844.6 694.3 833.8 697.1 823.2 698.1 818.7 698.1 814.1 697.8 811.1 697.3 807.7 695.8 806 694.3 805.4 692.8 805.5 691.3 806.2 689.8 807.4 688.3 809.2 686.7 811.6 685.2 814.9 683.7 819.5 682.2 824.7 681.3 833.8 681.2 843.4 679.2Z" fill="#f7a02d" fill-rule="evenodd"/>
<path d="M841.8 680.7 845.8 679.8 848.9 679.5 851.9 679.6 854.9 680.3 856.4 681.1 857.5 682.2 857.9 683.7 857.6 685.2 856.5 686.7 854.8 688.3 851.9 690.2 844.3 693.4 833.8 696.2 824.7 697.1 820.2 697.1 815.6 696.8 811.1 695.4 809.3 694.3 808.3 692.8 808.3 691.3 808.8 689.8 810.1 688.3 812 686.7 815.6 684.8 821.7 682.8 826.2 682.3 833.8 682.3 841.8 680.7Z" fill="#f48d2b" fill-rule="evenodd"/>
<path d="M847.8 680.7 850.4 680.8 853.4 681.6 854.6 682.2 855.6 683.7 855.5 685.2 854.6 686.7 852.9 688.3 850.4 689.9 847.4 691.4 842.8 693 833.8 695.3 826.2 696.2 818.7 696.1 815.6 695.5 812.6 694.5 810.7 692.8 810.5 691.3 811.1 689.8 812.4 688.3 814.5 686.7 817.5 685.2 823.2 683.6 826.2 683.2 833.8 683.2 847.8 680.7Z" fill="#f27a29" fill-rule="evenodd"/>
<path d="M844.3 682.2 847.4 682 850.1 682.2 851.9 683 852.7 683.7 853.2 685.2 852.4 686.7 850.8 688.3 848.9 689.5 842.8 692.2 836.8 694 829.2 695.2 823.2 695.5 820.2 695.3 815.9 694.3 813.5 692.8 813 691.3 813.5 689.8 814.9 688.3 817.1 686.7 820.2 685.4 824.7 684.3 835.3 683.8 844.3 682.2Z" fill="#ef6828" fill-rule="evenodd"/>
<path d="M840.7 683.7 845.8 683 848.9 683.3 849.7 683.7 851 685.2 850.6 686.7 849.1 688.3 845.8 690.2 841.3 692 836.8 693.3 833.8 693.9 826.2 694.7 823.2 694.7 820.2 694.4 817.2 693.6 815.8 692.8 815 691.3 815.4 689.8 817.2 688 820.2 686.3 824.7 685.2 827.7 684.8 833.8 684.7 840.7 683.7Z" fill="#eb5627" fill-rule="evenodd"/>
<path d="M835.4 685.2 842.8 684.1 845.8 683.9 847.4 684.1 848.9 684.9 849.3 685.2 849.2 686.7 847.7 688.3 845.1 689.8 841.3 691.3 835.3 693.1 830.7 693.7 826.2 694.1 823.2 694 818.7 693.2 817.6 692.8 816.4 691.3 816.8 689.8 818.7 688 821.1 686.7 823.2 686.1 826.2 685.6 835.4 685.2Z" fill="#e84526" fill-rule="evenodd"/>
<path d="M839.6 685.2 844.3 684.9 846.6 685.2 847.5 686.7 846.1 688.3 843.5 689.8 839.5 691.3 833.8 692.8 827.7 693.4 823.2 693.4 819.8 692.8 818.1 691.3 818.4 689.8 819.9 688.3 823.2 686.8 824.7 686.5 827.7 686.2 833.8 686.1 839.6 685.2Z" fill="#e53826" fill-rule="evenodd"/>
<path d="M834.7 686.7 842.8 686.1 844.9 686.7 844.1 688.3 841.4 689.8 837.1 691.3 829.2 692.7 824.7 692.9 821.7 692.2 820 691.3 820.1 689.8 822 688.3 824.7 687.3 827.7 686.9 834.7 686.7Z" fill="#e23025" fill-rule="evenodd"/>
<path d="M825.1 688.3 829.2 687.8 839.8 688 840.4 688.3 838.2 689.8 836.8 690.1 833.3 691.3 827.7 691.9 824.7 691.8 822.7 691.3 822.5 689.8 825.1 688.3Z" fill="#df2825" fill-rule="evenodd"/>
</g>
<path d="M873 651 871.5 652.1 870.9 653.6 870.8 655.1 871.5 656.8 873 657.8 874.5 657.9 876.6 656.6 877.4 655.1 877.4 653.6 876.8 652.1 876 651.4 874.5 650.8 873 651ZM762.8 663.2 782.4 657.5 805.6 652.1 809.4 650.6 811.1 649 812.6 646.1 814.2 638.5 815.6 634.4 817.2 632.2 818.7 631.1 820.2 630.9 821.7 632 821.9 632.5 823.2 637.2 824.4 647.6 825.5 650.6 826.5 652.1 830.2 655.1 832.3 656.1 833.8 656.6 835.3 656.5 836.8 656.1 839.8 654.5 842.5 652.1 844.3 649.9 845.7 647.6 846.5 644.5 846.9 640 845.9 623.4 846.1 614.4 846.8 609.9 847.6 606.9 848.9 603.6 850.4 600.8 852.5 597.8 854.9 595.2 857.9 592.5 862.5 589 871.5 583.2 883.6 576.7 889.6 572 891.1 571.2 892.7 570.9 898.7 571.9 901.7 571.9 916.8 570.9 924.4 569.8 928.9 569.9 933.4 571.1 965.1 581.7 969.7 583.8 977.2 588 984.8 592.6 993.8 598.7 996.8 600.3 999.9 601.1 1001.4 601.1 1008.9 599.7 1011.9 600.2 1013.5 601.9 1014.6 605.4 1015.2 609.9 1015.5 617.4 1015.3 623.4 1014.7 628 1013.5 632.3 1011.9 635 1009.5 637 1006.9 638.5 995.8 644.5 992.4 646.1 988.1 647.6 981.9 649.1 971.2 650.7 951.5 652.4 922.7 653.6 916.8 654.3 913.6 655.1 913.8 656.6 916.3 659.6 918.1 662.6 919.7 667.2 920 670.2 919.8 673.2 918.1 677.7 916.2 680.7 913.7 683.7 910.8 686.7 906.2 690.6 901.7 693.8 896.2 697.3 891.1 700 886.6 702 880.6 704 874.5 705.6 864 707.3 844.3 708.7 831.8 709.4 803.6 711.8 792.3 712.4 762.8 713.1M762.8 720.8 800.5 721.3 838.3 720.7 873 721.4 921.3 721.3 951.5 720.5 962.1 719.7 971.2 718.5 977.9 716.9 980.8 715.4 981.1 713.9 979.1 712.4 975.2 710.9 969.9 709.4 967.7 707.8 974.2 706.6 975.7 706 977.2 704.9 976.6 701.8 977 700.3 977.8 698.8 980.8 695.8 993.8 686.3 999.9 682.9 1004.4 681.2 1010.4 679.6 1015 678.8 1021 678.3M1021 729.6 762.8 729.6M874.5 645.9 871.5 647.3 869.7 649.1 868.1 652.1 867.8 655.1 868.1 656.6 868.8 658.1 870 659.6 871.5 660.7 873 661.3 874.5 661.5 876.9 661.1 879.9 659.6 881.8 658.1 883.1 656.6 883.9 655.1 884.1 653.6 883 650.6 880.3 647.6 877.6 646 876 645.7 874.5 645.9ZM762.8 677.1 773.4 672.1 785.4 667.5 799 663.5 817.2 659.1 820.2 658.8 821.7 658.9 830.7 662.1 833.8 662.7 835.3 662.6 838.3 661.8 841.3 660.3 844.9 658.1 848.9 655.1 850.4 653.3 851.7 650.6 853 644.5 854.9 627.3 855.8 621.9 857.8 615.9 860.4 611.4 862.8 608.4 867 604.2 870 601.8 874.5 598.6 883.6 593.8 889.6 591.3 894.2 590 901.7 588.5 909.3 587.7 916.8 587.6 925.9 588 931.9 588.8 939.5 590.5 947 592.5 954.6 595.1 960.6 597.6 966.8 600.8 972.7 604.7 977.1 608.4 980.2 611.8 983 615.9 984.8 620.4 985.3 625 984.9 628 983.8 631 982 634 978.7 637.7 975.7 640.1 970.8 643 967.3 644.5 962.5 646.1 955.4 647.6 948.5 648.5 941 649.3 928.9 649.9 913.8 650.3 901.7 650.3 891.1 649.9 886.6 649.3 885.9 650.6 885.4 653.6 885.6 655.1 886.3 656.6 886.6 657 888.1 657 891.1 657.8 894.2 659 897.8 661.1 901.4 664.1 903.7 667.2 904.9 670.2 905.4 673.2 905.1 676.2 904 679.2 902.1 682.2 899.6 685.2 894.5 689.8 889.6 693.2 883.6 696.8 877.6 699.8 873 701.6 867 703.4 857.9 705 848.9 706 833.8 707 814.1 707.4 796 707.2 782.4 706.7 762.8 705.5M1021 709.3 1008.9 708.5 999.9 707 996.8 706.1 993.6 704.8 991.8 703.3 991.7 701.8 992.4 700.3 993.9 698.8 996.8 697 1001.4 695.1 1005.9 693.7 1011.9 692.4 1021 691.3M762.8 724.1 795 724.4 790.8 725.9 762.8 726.2M1021 726.2 924.4 726.1 918.4 725.9 915.8 724.4 948.5 724 1021 724M762.8 692.3 764.5 689.8 767.2 686.7 773.4 681.7 777.3 679.2 782.4 676.5 793 672 805.1 668.3 812.6 666.5 818.7 665.3 823.2 665.2 832.3 667 835.3 666.9 838.3 666.2 841.3 665 852.2 659.6 854.1 658.1 856.2 655.1 857.3 652.1 859.4 642.6 860.9 638.2 862.5 635 866.5 628 870.7 618.9 873.5 614.4 877.7 609.9 882.1 606.5 888.1 603.2 894.2 600.8 898.7 599.5 904.7 598.4 910.8 597.9 916.8 597.9 924.4 598.4 930.4 599.2 936.4 600.5 942.5 602.2 948.5 604.5 953.4 606.9 958.2 609.9 961.9 612.9 964.5 615.9 966.3 618.9 967.4 621.9 967.6 625 967.1 628 965.7 631 963.2 634 959.1 637.4 954.4 640 950 641.8 944 643.6 936.4 645 927.6 646.1 918.3 646.5 909.3 646.5 900.9 646.1 892.7 644.8 885.1 642.6 879.1 639.1 876 637.9 874.5 637.9 873 638.6 871.5 640.2 867.4 646.1 866.4 647.6 865 650.6 864.6 652.1 864.6 655.1 865.6 658.1 866.5 659.6 868.5 661.7 870 662.9 873 664.1 876 664.6 883.6 663.9 885.1 664.1 888.6 665.6 891.1 667.5 893.4 670.2 894.7 673.2 895.1 676.2 894.5 679.2 892.9 682.2 890.5 685.2 887.3 688.3 883.3 691.3 878.6 694.3 872.9 697.3 867 699.9 861.1 701.8 853.4 703.5 843.6 704.8 832.3 705.6 814.1 706 797.5 705.7 785.4 705.1 762.8 703.3M1021 706.8 1013.5 706.1 1007.2 704.8 1004.2 703.3 1004.1 701.8 1005.3 700.3 1008.9 698.4 1013.5 697.1 1021 695.9M909.6 606.9 915.3 606.8 922.9 607.3 928.9 608.4 934.2 609.9 939.5 612 943.7 614.4 947.2 617.4 949.4 620.4 950.3 623.4 950.2 626.5 948.7 629.5 945.8 632.5 941 635.4 937.2 637 931.9 638.6 924.4 640 916.8 640.6 910.8 640.6 904.7 640.1 898.7 638.7 894.1 637 889.1 634 886.1 631 884.4 628 883.8 625 884.1 621.9 884.6 620.4 886.3 617.4 889.1 614.4 893.5 611.4 898.7 609.1 903.2 607.8 909.6 606.9ZM762.8 697 771.7 695.8 774.6 694.3 777.2 689.8 778.3 688.3 783.1 683.7 790.3 679.2 794.5 677.2 800.5 674.8 811.1 671.6 820.2 669.9 824.7 669.8 833.8 670.8 836.8 670.3 839.8 669.4 860.9 661.7 862.5 661.9 864 662.6 868.5 665.3 871.5 666.8 879.1 669.1 881.7 670.2 883.7 671.7 884.9 673.2 885.7 674.7 886.3 677.7 885.7 680.7 884 683.7 881.3 686.7 875.5 691.3 870 694.5 862.5 698 856 700.3 848.9 702.1 841.9 703.3 833.8 704.2 814.1 704.7 799 704.3 776.4 702.5 762.8 701.9M1021 703.5 1020 703.3 1019.9 701.8 1021 701.4M909.8 618.9 913.8 618.6 918.3 619.1 922.4 620.4 924.7 621.9 925.7 623.4 925.9 625 925.2 626.5 923.3 628 919.3 629.5 913.8 630.1 909.3 629.7 907.8 629.3 905.2 628 903.7 626.5 903.1 625 903.3 623.4 904.2 621.9 906.2 620.2 909.8 618.9ZM855.8 668.7 859.4 668.1 862.5 668 867 669.1 872.1 671.7 874.4 673.2 876.1 674.7 877.6 677.2 878 679.2 877.9 680.7 877.4 682.2 875.5 685.2 873 687.7 870.4 689.8 865.5 692.8 859.2 695.8 851 698.8 844.3 700.6 835.3 702.3 826.2 702.9 815.6 703.2 806.6 703 796 702.3 773.2 700.3 774 698.8 779.4 697.9 782.4 696.9 784.5 695.8 785.5 694.3 786.5 691.3 788.4 688.3 791.5 685.2 796 682.2 800.5 679.8 805.1 678 815.6 674.8 823.2 673.7 832.3 674.2 835.3 674 839.8 672.9 848.9 670 855.8 668.7ZM848.4 674.7 853.4 674.1 859.4 674.2 862.5 674.7 865.9 676.2 867.5 677.7 868.4 679.2 868.7 680.7 868.6 682.2 868.1 683.7 865.8 686.7 861.9 689.8 856.4 692.8 848.9 695.8 844.2 697.3 833.8 699.7 827.7 700.4 818.7 700.8 804.4 700.3 798 698.8 797.2 697.3 796.9 692.8 797.3 691.3 798 689.8 800.7 686.7 805.1 683.8 808.2 682.2 812 680.7 817.2 679.2 823.2 678.1 835.3 677.9 848.4 674.7ZM842.6 682.2 847.4 681.7 850.4 681.9 851.9 682.4 853.6 683.7 853.8 685.2 853 686.7 851.4 688.3 849 689.8 845.8 691.2 838.3 693.7 830.7 695.2 824.7 695.6 818.7 695.3 815.6 694.5 814.1 693.9 812.7 692.8 812.3 691.3 812.9 689.8 814.2 688.3 816.4 686.7 818.7 685.7 823.2 684.3 826.2 683.9 834.6 683.7 842.6 682.2Z" fill="none" stroke="#10182c" stroke-opacity="0.75" stroke-width="0.45"/>
</g>
<path d="M1110.9 31.6 V237.6 H1345.5" fill="none" stroke="#111" stroke-width="2.1"/>
<text x="1091.2" y="243.1" font-size="17.2" text-anchor="middle" fill="#111">0</text>
<text x="1091.2" y="202.1" font-size="17.2" text-anchor="middle" fill="#111">0.2</text>
<text x="1091.2" y="161.1" font-size="17.2" text-anchor="middle" fill="#111">0.4</text>
<text x="1091.2" y="120.1" font-size="17.2" text-anchor="middle" fill="#111">0.6</text>
<text x="1091.2" y="79.1" font-size="17.2" text-anchor="middle" fill="#111">0.8</text>
<text x="1091.2" y="38.1" font-size="17.2" text-anchor="middle" fill="#111">1</text>
<path d="M1110.9 237.6H1108M1110.9 196.6H1108M1110.9 155.6H1108M1110.9 114.6H1108M1110.9 73.6H1108M1110.9 32.6H1108M1110.9 237.6H1108.6M1110.9 229.4H1108.6M1110.9 221.2H1108.6M1110.9 213H1108.6M1110.9 204.8H1108.6M1110.9 196.6H1108.6M1110.9 188.4H1108.6M1110.9 180.2H1108.6M1110.9 172H1108.6M1110.9 163.8H1108.6M1110.9 155.6H1108.6M1110.9 147.4H1108.6M1110.9 139.2H1108.6M1110.9 131H1108.6M1110.9 122.8H1108.6M1110.9 114.6H1108.6M1110.9 106.4H1108.6M1110.9 98.2H1108.6M1110.9 90H1108.6M1110.9 81.8H1108.6M1110.9 73.6H1108.6M1110.9 65.4H1108.6M1110.9 57.2H1108.6M1110.9 49H1108.6M1110.9 40.8H1108.6M1110.9 32.6H1108.6M1110.6 237.6V240.5M1157.6 237.6V240.5M1204.6 237.6V240.5M1251.5 237.6V240.5M1298.5 237.6V240.5M1345.5 237.6V240.5M1110.6 237.6V239.9M1120 237.6V239.9M1129.4 237.6V239.9M1138.8 237.6V239.9M1148.2 237.6V239.9M1157.6 237.6V239.9M1167 237.6V239.9M1176.4 237.6V239.9M1185.8 237.6V239.9M1195.2 237.6V239.9M1204.6 237.6V239.9M1214 237.6V239.9M1223.4 237.6V239.9M1232.7 237.6V239.9M1242.1 237.6V239.9M1251.5 237.6V239.9M1260.9 237.6V239.9M1270.3 237.6V239.9M1279.7 237.6V239.9M1289.1 237.6V239.9M1298.5 237.6V239.9M1307.9 237.6V239.9M1317.3 237.6V239.9M1326.7 237.6V239.9M1336.1 237.6V239.9M1345.5 237.6V239.9" stroke="#111" stroke-width="1.2" fill="none"/>
<text x="1108.6" y="261.4" font-size="16.6" text-anchor="middle" fill="#111">0</text>
<text x="1158.1" y="261.4" font-size="16.6" text-anchor="middle" fill="#111">20</text>
<text x="1204.7" y="261.4" font-size="16.6" text-anchor="middle" fill="#111">40</text>
<text x="1252.1" y="261.4" font-size="16.6" text-anchor="middle" fill="#111">60</text>
<text x="1299" y="261.4" font-size="16.6" text-anchor="middle" fill="#111">80</text>
<text x="1348.6" y="261.4" font-size="16.6" text-anchor="middle" fill="#111">100</text>
<path d="M1115.3 32.6h0M1116.8 32.4h0M1118.2 33.7h0M1119.7 35.3h0M1121.1 35.8h0M1122.6 37.7h0M1124 37.7h0M1125.5 37.4h0M1126.9 40.8h0M1128.4 42h0M1129.9 41.7h0M1131.3 43h0M1132.8 44.4h0M1134.2 46.8h0M1135.7 46.9h0M1137.1 47.2h0M1138.6 50.9h0M1140.1 51.1h0M1141.5 54.1h0M1143 54.7h0M1144.4 56.7h0M1145.9 56.1h0M1147.3 58.8h0M1148.8 58.4h0M1150.3 60h0M1151.7 61.9h0M1153.2 66.4h0M1154.6 65.5h0M1156.1 66.6h0M1157.5 68h0M1159 71.8h0M1160.4 72.3h0M1161.9 74.7h0M1163.4 76.4h0M1164.8 76h0M1166.3 80.3h0M1167.7 81.3h0M1169.2 82.2h0M1170.6 86.1h0M1172.1 87.8h0M1173.6 89.8h0M1175 92.2h0M1176.5 96.2h0M1177.9 97h0M1179.4 97.9h0M1180.8 103.9h0M1182.3 103.3h0M1183.7 106.6h0M1185.2 109.8h0M1186.7 108.9h0M1188.1 112.8h0M1189.6 117.5h0M1191 118.3h0M1192.5 120h0M1193.9 123.2h0M1195.4 124.5h0M1196.9 127.7h0M1198.3 129.2h0M1199.8 130.6h0M1201.2 135.5h0M1202.7 136.7h0M1204.1 139.9h0M1205.6 141.5h0M1207 145.5h0M1208.5 147.1h0M1210 149h0M1211.4 150h0M1212.9 152.2h0M1214.3 157.7h0M1215.8 159.5h0M1217.2 160.2h0M1218.7 165.9h0M1220.2 166.5h0M1221.6 168.6h0M1223.1 169.4h0M1224.5 172.6h0M1226 176.3h0M1227.4 178.9h0M1228.9 181.2h0M1230.4 181.5h0M1231.8 186.4h0M1233.3 188.8h0M1234.7 190.4h0M1236.2 193.5h0M1237.6 196h0M1239.1 199.6h0M1240.5 200.8h0M1242 203.9h0M1243.5 204.5h0M1244.9 207.5h0M1246.4 210.6h0M1247.8 211.6h0M1249.3 214.5h0M1250.7 214.4h0M1252.2 217.1h0M1253.7 217.7h0M1255.1 221.2h0M1256.6 220.4h0M1258 224h0M1259.5 225.5h0M1260.9 224.3h0M1262.4 225.8h0M1263.8 225.1h0M1265.3 222.8h0M1266.8 226.9h0M1268.2 226.8h0M1269.7 226h0M1271.1 225.8h0M1272.6 226.8h0M1274 227h0M1275.5 226h0M1277 226.4h0M1278.4 228.4h0M1279.9 227.5h0M1281.3 227.6h0M1282.8 229.2h0M1284.2 227.9h0M1285.7 229.6h0M1287.2 227.7h0M1288.6 229h0M1290.1 229.5h0M1291.5 230.8h0M1293 230.8h0M1294.4 233.6h0M1295.9 232.9h0M1297.3 231.3h0M1298.8 234.5h0M1300.3 230.8h0M1301.7 234h0M1303.2 230.8h0M1304.6 232.7h0M1306.1 230.6h0M1307.5 231.3h0M1309 233.2h0M1310.5 229.4h0M1311.9 228.7h0M1313.4 230h0M1314.8 229.6h0M1316.3 228.9h0M1317.7 229.4h0M1319.2 226.4h0M1320.6 227.8h0M1322.1 226.7h0M1323.6 227.3h0M1325 227.1h0M1326.5 228.2h0M1327.9 225.6h0M1329.4 227.9h0M1330.8 227.2h0M1332.3 228.9h0M1333.8 230.3h0M1335.2 230.1h0M1336.7 230.7h0M1338.1 230.3h0M1339.6 231.1h0M1341 231.2h0M1342.5 232.8h0M1343.9 232.3h0M1345.4 229.4h0" stroke="#4f8a3c" stroke-width="6.6" stroke-linecap="round" fill="none"/>
<path d="M1112.9 34.4h0M1114.6 36.3h0M1116.2 36h0M1117.9 36.2h0M1119.5 41.2h0M1121.2 41.2h0M1122.8 43.3h0M1124.5 46.2h0M1126.1 44.9h0M1127.7 47.6h0M1129.4 49.4h0M1131 52.6h0M1132.7 53.3h0M1134.3 56.9h0M1136 58.8h0M1137.6 62.5h0M1139.3 65.1h0M1140.9 64.4h0M1142.5 69h0M1144.2 70.5h0M1145.8 73.3h0M1147.5 76.2h0M1149.1 78.8h0M1150.8 79.9h0M1152.4 83.5h0M1154.1 85.9h0M1155.7 88.3h0M1157.3 89.5h0M1159 92.7h0M1160.6 95.8h0M1162.3 99.6h0M1163.9 103.4h0M1165.6 103.3h0M1167.2 106.1h0M1168.9 110.4h0M1170.5 112.6h0M1172.1 115.4h0M1173.8 118.5h0M1175.4 121.7h0M1177.1 126.7h0M1178.7 127.7h0M1180.4 134.5h0M1182 135.4h0M1183.7 139.3h0M1185.3 142.4h0M1186.9 144.7h0M1188.6 148.9h0M1190.2 155.8h0M1191.9 160.2h0M1193.5 160.8h0M1195.2 166.7h0M1196.8 169h0M1198.5 171.4h0M1200.1 177.9h0M1201.7 181.8h0M1203.4 182.3h0M1205 185.9h0M1206.7 189.5h0M1208.3 192.4h0M1210 196.7h0M1211.6 200.6h0M1213.3 202.3h0M1214.9 206.6h0M1216.5 210.3h0M1218.2 209.7h0M1219.8 211.8h0M1221.5 212.2h0M1223.1 214.6h0M1224.8 214.7h0M1226.4 215.6h0M1228 215.7h0M1229.7 214.6h0M1231.3 216h0M1233 214.7h0M1234.6 214.9h0M1236.3 213h0M1237.9 217.3h0M1239.6 214.6h0M1241.2 215.9h0M1242.8 215.9h0M1244.5 217.7h0M1246.1 216.6h0M1247.8 215.1h0M1249.4 216.2h0M1251.1 216h0M1252.7 216.4h0M1254.4 214.7h0M1256 216.1h0M1257.6 218.8h0M1259.3 216.9h0M1260.9 218.5h0M1262.6 220.1h0M1264.2 216.7h0M1265.9 214.4h0M1267.5 216h0M1269.2 217.5h0M1270.8 217.2h0M1272.4 214.7h0M1274.1 215.9h0M1275.7 216h0M1277.4 216.1h0M1279 216h0M1280.7 215h0M1282.3 215.3h0M1284 215.6h0M1285.6 217.1h0M1287.2 215.1h0M1288.9 216.5h0M1290.5 214.2h0M1292.2 217.1h0M1293.8 215.6h0M1295.5 215.3h0M1297.1 216.8h0M1298.8 212.9h0M1300.4 213h0M1302 215h0M1303.7 213.1h0M1305.3 213.2h0M1307 216.6h0M1308.6 212.8h0M1310.3 213.1h0M1311.9 213.1h0M1313.6 215.1h0M1315.2 214.9h0M1316.8 215.6h0M1318.5 214.8h0M1320.1 216.4h0M1321.8 217.1h0M1323.4 215.1h0M1325.1 217.4h0M1326.7 216.9h0M1328.4 218.2h0M1330 213.6h0M1331.6 214h0M1333.3 213.9h0M1334.9 214.2h0M1336.6 215h0M1338.2 214.9h0M1339.9 215.6h0M1341.5 215.7h0M1343.2 215.6h0M1344.8 214.1h0" stroke="#e3262d" stroke-width="5.8" stroke-linecap="round" fill="none"/>
<path d="M1110.6 32h0M1112 33.9h0M1113.4 35.9h0M1114.8 37.7h0M1116.2 37.3h0M1117.6 40.5h0M1119.1 43.4h0M1120.5 46.6h0M1121.9 50.4h0M1123.3 52.5h0M1124.7 54.7h0M1126.1 59.3h0M1127.5 62.6h0M1128.9 66.1h0M1130.3 69.5h0M1131.7 75.2h0M1133.2 77.9h0M1134.6 82.7h0M1136 85.4h0M1137.4 91.8h0M1138.8 95.3h0M1140.2 99.4h0M1141.6 106.5h0M1143 112.4h0M1144.4 117.6h0M1145.8 124.1h0M1147.2 131.5h0M1148.7 136.3h0M1150.1 141h0M1151.5 149.8h0M1152.9 156.2h0M1154.3 163.3h0M1155.7 167.9h0M1157.1 175h0M1158.5 180h0M1159.9 182.7h0M1161.3 190.5h0M1162.7 195.1h0M1164.2 204.1h0M1165.6 212.2h0M1167 215.2h0M1168.4 215.5h0M1169.8 218.3h0M1171.2 219.2h0M1172.6 220.5h0M1174 219.6h0M1175.4 218.7h0M1176.8 219.7h0M1178.3 222.1h0M1179.7 222.2h0M1181.1 221.9h0M1182.5 220.6h0M1183.9 220.3h0M1185.3 218.9h0M1186.7 218.1h0M1188.1 218.4h0M1189.5 218.3h0M1190.9 218.3h0M1192.3 218.9h0M1193.8 218.5h0M1195.2 217.2h0M1196.6 218.3h0M1198 218.3h0M1199.4 219.4h0M1200.8 216.4h0M1202.2 218h0M1203.6 216.9h0M1205 214.2h0M1206.4 214.7h0M1207.8 216.9h0M1209.3 220.1h0M1210.7 219.9h0M1212.1 220.2h0M1213.5 218.3h0M1214.9 216h0M1216.3 217.4h0M1217.7 218h0M1219.1 218.3h0M1220.5 217.2h0M1221.9 217.3h0M1223.4 218.3h0M1224.8 217h0M1226.2 218.3h0M1227.6 216h0M1229 216h0M1230.4 216h0M1231.8 217.5h0M1233.2 216.4h0M1234.6 217h0M1236 217.2h0M1237.4 217.1h0M1238.9 218h0M1240.3 218h0M1241.7 215.7h0M1243.1 216.6h0M1244.5 216.1h0M1245.9 215.2h0M1247.3 217.9h0M1248.7 216.9h0M1250.1 215.9h0M1251.5 215.7h0M1252.9 216.5h0M1254.4 215.1h0M1255.8 215.9h0M1257.2 217.5h0M1258.6 217.3h0M1260 215.6h0M1261.4 216h0M1262.8 218.5h0M1264.2 215.3h0M1265.6 216.1h0M1267 215.4h0M1268.5 217.3h0M1269.9 217.3h0M1271.3 218.2h0M1272.7 214.5h0M1274.1 217.3h0M1275.5 215.5h0M1276.9 217.8h0M1278.3 216.9h0M1279.7 218.8h0M1281.1 217.4h0M1282.5 216h0M1284 218.2h0M1285.4 215.8h0M1286.8 216.4h0M1288.2 217.8h0M1289.6 217.2h0M1291 217h0M1292.4 216.5h0M1293.8 216.9h0M1295.2 217.1h0M1296.6 216.5h0M1298.1 217.2h0M1299.5 217.3h0M1300.9 215.9h0M1302.3 214.7h0M1303.7 216.9h0M1305.1 215h0M1306.5 215.4h0M1307.9 215.5h0M1309.3 213.4h0M1310.7 214.6h0M1312.1 212.5h0M1313.6 214.9h0M1315 214.3h0M1316.4 215.7h0M1317.8 217.2h0M1319.2 216.6h0M1320.6 218h0M1322 217.5h0M1323.4 218.2h0M1324.8 219.2h0M1326.2 218.1h0M1327.6 217.8h0M1329.1 216.7h0M1330.5 218.4h0M1331.9 217.4h0M1333.3 218.9h0M1334.7 216.3h0M1336.1 217.8h0M1337.5 218.3h0M1338.9 216.1h0M1340.3 214.6h0M1341.7 216.8h0M1343.2 215.9h0M1344.6 215.1h0" stroke="#3f57b0" stroke-width="5.6" stroke-linecap="round" fill="none"/>
<circle cx="1269.7" cy="62" r="3" fill="#4f8a3c"/>
<text x="1279.3" y="68.1" font-size="17.2" text-anchor="start" fill="#111" textLength="46.8" lengthAdjust="spacingAndGlyphs">353 K</text>
<circle cx="1269.7" cy="93" r="3" fill="#e3262d"/>
<text x="1279.3" y="99.1" font-size="17.2" text-anchor="start" fill="#111" textLength="46.8" lengthAdjust="spacingAndGlyphs">363 K</text>
<circle cx="1269.7" cy="126.4" r="3" fill="#3f57b0"/>
<text x="1279.3" y="132.5" font-size="17.2" text-anchor="start" fill="#111" textLength="46.8" lengthAdjust="spacingAndGlyphs">373 K</text>
<text x="1182" y="55.5" font-size="20" text-anchor="middle" fill="#111" textLength="27.5" lengthAdjust="spacingAndGlyphs">(D)</text>
<path d="M1110.9 285.7 V492.4 H1345.5" fill="none" stroke="#111" stroke-width="2.1"/>
<text x="1091.2" y="497.9" font-size="17.2" text-anchor="middle" fill="#111">0</text>
<text x="1091.2" y="456.8" font-size="17.2" text-anchor="middle" fill="#111">0.2</text>
<text x="1091.2" y="415.6" font-size="17.2" text-anchor="middle" fill="#111">0.4</text>
<text x="1091.2" y="374.5" font-size="17.2" text-anchor="middle" fill="#111">0.6</text>
<text x="1091.2" y="333.3" font-size="17.2" text-anchor="middle" fill="#111">0.8</text>
<text x="1091.2" y="292.2" font-size="17.2" text-anchor="middle" fill="#111">1</text>
<path d="M1110.9 492.4H1108M1110.9 451.3H1108M1110.9 410.1H1108M1110.9 369H1108M1110.9 327.8H1108M1110.9 286.7H1108M1110.9 492.4H1108.6M1110.9 484.2H1108.6M1110.9 475.9H1108.6M1110.9 467.7H1108.6M1110.9 459.5H1108.6M1110.9 451.3H1108.6M1110.9 443H1108.6M1110.9 434.8H1108.6M1110.9 426.6H1108.6M1110.9 418.3H1108.6M1110.9 410.1H1108.6M1110.9 401.9H1108.6M1110.9 393.7H1108.6M1110.9 385.4H1108.6M1110.9 377.2H1108.6M1110.9 369H1108.6M1110.9 360.8H1108.6M1110.9 352.5H1108.6M1110.9 344.3H1108.6M1110.9 336.1H1108.6M1110.9 327.8H1108.6M1110.9 319.6H1108.6M1110.9 311.4H1108.6M1110.9 303.2H1108.6M1110.9 294.9H1108.6M1110.9 286.7H1108.6M1109.6 492.4V495.3M1148.9 492.4V495.3M1188.2 492.4V495.3M1227.4 492.4V495.3M1266.7 492.4V495.3M1306 492.4V495.3M1345.3 492.4V495.3M1109.6 492.4V494.7M1117.5 492.4V494.7M1125.3 492.4V494.7M1133.2 492.4V494.7M1141 492.4V494.7M1148.9 492.4V494.7M1156.7 492.4V494.7M1164.6 492.4V494.7M1172.5 492.4V494.7M1180.3 492.4V494.7M1188.2 492.4V494.7M1196 492.4V494.7M1203.9 492.4V494.7M1211.7 492.4V494.7M1219.6 492.4V494.7M1227.4 492.4V494.7M1235.3 492.4V494.7M1243.2 492.4V494.7M1251 492.4V494.7M1258.9 492.4V494.7M1266.7 492.4V494.7M1274.6 492.4V494.7M1282.4 492.4V494.7M1290.3 492.4V494.7M1298.2 492.4V494.7M1306 492.4V494.7M1313.9 492.4V494.7M1321.7 492.4V494.7M1329.6 492.4V494.7M1337.4 492.4V494.7M1345.3 492.4V494.7" stroke="#111" stroke-width="1.2" fill="none"/>
<text x="1106.4" y="517" font-size="16.6" text-anchor="middle" fill="#111">0</text>
<text x="1149.8" y="517" font-size="16.6" text-anchor="middle" fill="#111">100</text>
<text x="1188.3" y="517" font-size="16.6" text-anchor="middle" fill="#111">200</text>
<text x="1227.8" y="517" font-size="16.6" text-anchor="middle" fill="#111">300</text>
<text x="1266.8" y="517" font-size="16.6" text-anchor="middle" fill="#111">400</text>
<text x="1306.3" y="517" font-size="16.6" text-anchor="middle" fill="#111">500</text>
<text x="1345.1" y="517" font-size="16.6" text-anchor="middle" fill="#111">600</text>
<path d="M1112 492.5h0M1112.1 492.2h0M1112.3 492.3h0M1112.5 492.2h0M1112.7 491.9h0M1112.8 492h0M1113 491.7h0M1113.2 491.7h0M1113.4 491.6h0M1113.5 491.4h0M1113.7 490.8h0M1113.9 490.8h0M1114.1 490.5h0M1114.3 490.3h0M1114.4 490h0M1114.6 489.8h0M1114.8 489.2h0M1115 489.4h0M1115.1 489.1h0M1115.3 488.7h0M1115.5 488.5h0M1115.7 487.8h0M1115.8 487.3h0M1116 486.9h0M1116.2 486.2h0M1116.4 485.2h0M1116.6 484h0M1116.7 483.6h0M1116.9 481.9h0M1117.1 481h0M1117.3 479.3h0M1117.4 478.4h0M1117.6 476.9h0M1117.8 475.8h0M1118 474.2h0M1118.1 472.1h0M1118.3 470.8h0M1118.5 469.5h0M1118.7 468.1h0M1118.9 466.9h0M1119 465h0M1119.2 463.4h0M1119.4 461.9h0M1119.6 460.4h0M1119.7 459.2h0M1119.9 457.3h0M1120.1 455.6h0M1120.3 453.4h0M1120.4 451.4h0M1120.6 450.3h0M1120.8 448.7h0M1121 446.6h0M1121.1 444.9h0M1121.3 443h0M1121.5 440.8h0M1121.7 439.3h0M1121.9 436.5h0M1122 434.9h0M1122.2 432.7h0M1122.4 431h0M1122.6 429.3h0M1122.7 427.5h0M1122.9 425.2h0M1123.1 423.4h0M1123.3 421.1h0M1123.4 419.4h0M1123.6 418.3h0M1123.8 415.6h0M1124 414.6h0M1124.2 412.4h0M1124.3 410.3h0M1124.5 409.6h0M1124.7 406.4h0M1124.9 404.5h0M1125 402.8h0M1125.2 401.2h0M1125.4 399.3h0M1125.6 397.9h0M1125.7 395.5h0M1125.9 393.9h0M1126.1 391.5h0M1126.3 390.7h0M1126.5 387.7h0M1126.6 385.9h0M1126.8 384.3h0M1127 382.7h0M1127.2 380h0M1127.3 380h0M1127.5 376.4h0M1127.7 374.7h0M1127.9 372.8h0M1128 370.8h0M1128.2 369.8h0M1128.4 367.5h0M1128.6 364.8h0M1128.8 363.1h0M1128.9 361.3h0M1129.1 361.1h0M1129.3 357.2h0M1129.5 354.7h0M1129.6 353h0M1129.8 351.8h0M1130 351.8h0M1130.2 347.4h0M1130.3 346.7h0M1130.5 347.4h0M1130.7 342.6h0M1130.9 342.9h0M1131 341h0M1131.2 338.6h0M1131.4 334.9h0M1131.6 335h0M1131.8 332.5h0M1131.9 329.1h0M1132.1 327.5h0M1132.3 327.7h0M1132.5 326.1h0M1132.6 325.6h0M1132.8 323.3h0M1133 320.3h0M1133.2 318.8h0M1133.3 317.7h0M1133.5 315.2h0M1133.7 316.1h0M1133.9 314h0M1134.1 312h0M1134.2 311.2h0M1134.4 309.8h0M1134.6 309.9h0M1134.8 310h0M1134.9 308.4h0M1135.1 309.4h0M1135.3 309.4h0M1135.5 305.9h0M1135.6 306h0M1135.8 304.9h0M1136 306.9h0M1136.2 304.6h0M1136.4 304.3h0M1136.5 304.2h0M1136.7 305.6h0M1136.9 302.7h0M1137.1 300.7h0M1137.2 301.1h0M1137.4 302.1h0M1137.6 301.2h0M1137.8 300.1h0M1137.9 307.1h0M1138.5 301.4h0M1139.1 300h0M1139.8 299.8h0M1140.4 297.7h0M1141 299.1h0M1141.7 301h0M1142.3 301.2h0M1142.9 300.4h0M1143.5 303.6h0M1144.2 303h0M1144.8 301.6h0M1145.4 300.1h0M1146.1 305.5h0M1146.7 306h0M1147.3 306.3h0M1147.9 304.7h0M1148.6 308.5h0M1149.2 306.3h0M1149.8 312.3h0M1150.5 311.7h0M1151.1 312.8h0M1151.7 311.8h0M1152.3 312.3h0M1153 318.6h0M1153.6 318.5h0M1154.2 317h0M1154.9 320.1h0M1155.5 322.9h0M1156.1 318.9h0M1156.7 321.1h0M1157.4 322.2h0M1158 325.2h0M1158.6 323.4h0M1159.3 326.9h0M1159.9 325.5h0M1160.5 330.5h0M1161.1 331.5h0M1161.8 330.7h0M1162.4 333.6h0M1163 332.3h0M1163.7 334.3h0M1164.3 337.7h0M1164.9 337.1h0M1165.5 339.2h0M1166.2 338.3h0M1166.8 342.5h0M1167.4 343.5h0M1168.1 342.1h0M1168.7 341.7h0M1169.3 343.6h0M1169.9 348.3h0M1170.6 349.5h0M1171.2 348.6h0M1171.8 352.7h0M1172.5 355.5h0M1173.1 354.9h0M1173.7 355.6h0M1174.3 358.8h0M1175 361.3h0M1175.6 362h0M1176.2 359.8h0M1176.9 363h0M1177.5 363.1h0M1178.1 363.6h0M1178.7 364h0M1179.4 366.4h0M1180 366.2h0M1180.6 369.3h0M1181.3 369.5h0M1181.9 371.5h0M1182.5 369.4h0M1183.1 372.1h0M1183.8 374.2h0M1184.4 374.8h0M1185 375.7h0M1185.7 375.6h0M1186.3 380h0M1186.9 380.4h0M1187.5 380.8h0M1188.2 378.1h0M1188.8 381.5h0M1189.4 384.1h0M1190.1 384.3h0M1190.7 383.8h0M1191.3 388h0M1191.9 389.4h0M1192.6 388.7h0M1193.2 390.8h0M1193.8 391.8h0M1194.5 394.4h0M1195.1 392.5h0M1195.7 393.9h0M1196.3 396.4h0M1197 397.3h0M1197.6 401.4h0M1198.2 399.3h0M1198.9 401.2h0M1199.5 401.5h0M1200.1 402.1h0M1200.7 404.2h0M1201.4 406.6h0M1202 405.2h0M1202.6 407.3h0M1203.3 407.7h0M1203.9 408.9h0M1204.5 409.4h0M1205.1 412.3h0M1205.8 409.4h0M1206.4 411.3h0M1207 411.2h0M1207.7 411.1h0M1208.3 413.9h0M1208.9 416.6h0M1209.5 416.4h0M1210.2 417.5h0M1210.8 417.6h0M1211.4 417.8h0M1212.1 420.6h0M1212.7 419.1h0M1213.3 421.6h0M1213.9 420.6h0M1214.6 421.8h0M1215.2 422.7h0M1215.8 423.2h0M1216.5 424.3h0M1217.1 425.1h0M1217.7 426.8h0M1218.3 426h0M1219 425h0M1219.6 425.6h0M1220.2 426.9h0M1220.9 428.1h0M1221.5 429.9h0M1222.1 428.8h0M1222.7 430.7h0M1223.4 431.3h0M1224 432.2h0M1224.6 432.5h0M1225.3 433.5h0M1225.9 433.8h0M1226.5 435.2h0M1227.1 435.2h0M1227.8 433.7h0M1228.4 436.1h0M1229 436.8h0M1229.6 436.8h0M1230.3 437.2h0M1230.9 439.1h0M1231.5 439h0M1232.2 438.7h0M1232.8 439.7h0M1233.4 440.3h0M1234 439.8h0M1234.7 442h0M1235.3 441.9h0M1235.9 442.9h0M1236.6 441.9h0M1237.2 444.9h0M1237.8 444.5h0M1238.4 444.9h0M1239.1 444.5h0M1239.7 445.1h0M1240.3 445h0M1241 447.5h0M1241.6 446.4h0M1242.2 447.6h0M1242.8 448.3h0M1243.5 447.9h0M1244.1 449.4h0M1244.7 450.6h0M1245.4 449.9h0M1246 451.1h0M1246.6 451h0M1247.2 450.8h0M1247.9 451.3h0M1248.5 450.9h0M1249.1 452.5h0M1249.8 453.8h0M1250.4 453.7h0M1251 454.3h0M1251.6 454.9h0M1252.3 454.4h0M1252.9 455.5h0M1253.5 456.8h0M1254.2 455.7h0M1254.8 456.6h0M1255.4 456.8h0M1256 457.4h0M1256.7 457.6h0M1257.3 458.4h0M1257.9 458.2h0M1258.6 459.1h0M1259.2 459.5h0M1259.8 460h0M1260.4 461.4h0M1261.1 461.1h0M1261.7 461.6h0M1262.3 461.8h0M1263 463h0M1263.6 461.9h0M1264.2 463h0M1264.8 464h0M1265.5 464.7h0M1266.1 464.3h0M1266.7 464.6h0M1267.4 465.3h0M1268 465.2h0M1268.6 465.9h0M1269.2 465.7h0M1269.9 466.6h0M1270.5 466.6h0M1271.1 466.5h0M1271.8 466.1h0M1272.4 468.1h0M1273 468.1h0M1273.6 468.6h0M1274.3 468.2h0M1274.9 469.4h0M1275.5 469.4h0M1276.2 469.5h0M1276.8 470.3h0M1277.4 470.6h0M1278 470.7h0M1278.7 471.7h0M1279.3 471.7h0M1279.9 471.6h0M1280.6 471.7h0M1281.2 472.1h0M1281.8 473h0M1282.4 472.8h0M1283.1 472.6h0M1283.7 473h0M1284.3 473.6h0M1285 474.2h0M1285.6 473.9h0M1286.2 474.6h0M1286.8 475.1h0M1287.5 475.2h0M1288.1 474.7h0M1288.7 475.4h0M1289.4 475.3h0M1290 476.2h0M1290.6 475.9h0M1291.2 476.7h0M1291.9 476.8h0M1292.5 476.1h0M1293.1 476.9h0M1293.8 477.6h0M1294.4 477.7h0M1295 477.7h0M1295.6 477.6h0M1296.3 478.4h0M1296.9 479.1h0M1297.5 478.8h0M1298.2 478.9h0M1298.8 479.1h0M1299.4 478.9h0M1300 479.4h0M1300.7 479.4h0M1301.3 480.3h0M1301.9 479.8h0M1302.6 479.6h0M1303.2 480.3h0M1303.8 480.6h0M1304.4 480.9h0M1305.1 480.6h0M1305.7 481.6h0M1306.3 481.6h0M1307 481.6h0M1307.6 481.8h0M1308.2 482.3h0M1308.8 482.3h0M1309.5 482.7h0M1310.1 482.8h0M1310.7 483.1h0M1311.4 483.6h0M1312 483.5h0M1312.6 483.4h0M1313.2 484.1h0M1313.9 484.1h0M1314.5 484.1h0M1315.1 484.7h0M1315.8 484.6h0M1316.4 485.1h0M1317 484.7h0M1317.6 484.5h0M1318.3 484.8h0M1318.9 485.6h0M1319.5 485.5h0M1320.2 485.9h0M1320.8 486.1h0M1321.4 485.9h0M1322 486.8h0M1322.7 486.4h0M1323.3 486.8h0M1323.9 486.6h0M1324.6 487.1h0M1325.2 487.5h0M1325.8 487.4h0M1326.4 487.4h0M1327.1 487.8h0M1327.7 487.8h0M1328.3 488.2h0M1329 488.7h0M1329.6 488.1h0M1330.2 488.3h0M1330.8 488.6h0M1331.5 488.7h0M1332.1 488.6h0M1332.7 489.1h0M1333.4 489.2h0M1334 489.2h0M1334.6 489h0M1335.2 489.7h0M1335.9 489.2h0M1336.5 489.7h0M1337.1 490h0M1337.8 489.5h0M1338.4 489.9h0M1339 490.3h0M1339.6 490.2h0M1340.3 490h0M1340.9 490h0M1341.5 490.4h0M1342.2 490.3h0M1342.8 490.3h0M1343.4 490.7h0M1344 490.6h0M1344.7 490.7h0M1345.3 490.9h0" stroke="#4f8a3c" stroke-width="6.6" stroke-linecap="round" fill="none"/>
<path d="M1111.2 492.3h0M1111.3 492.1h0M1111.5 491.9h0M1111.6 491.7h0M1111.8 491.4h0M1112 490.9h0M1112.1 490.6h0M1112.3 490.1h0M1112.4 489.7h0M1112.6 489.3h0M1112.7 488.5h0M1112.9 488.6h0M1113.1 487.8h0M1113.2 487.4h0M1113.4 486.4h0M1113.5 485.9h0M1113.7 485.9h0M1113.8 484.9h0M1114 483.5h0M1114.2 482.2h0M1114.3 480.8h0M1114.5 479.5h0M1114.6 477.7h0M1114.8 475.9h0M1114.9 474.2h0M1115.1 471.9h0M1115.3 470.9h0M1115.4 467.9h0M1115.6 466.4h0M1115.7 463.5h0M1115.9 461.8h0M1116 459.9h0M1116.2 457.3h0M1116.4 455.7h0M1116.5 453.7h0M1116.7 452h0M1116.8 449.3h0M1117 446.9h0M1117.1 444.5h0M1117.3 443h0M1117.5 440.1h0M1117.6 438.4h0M1117.8 436.2h0M1117.9 433.4h0M1118.1 430.8h0M1118.2 429.3h0M1118.4 426.9h0M1118.6 424.5h0M1118.7 421.9h0M1118.9 420.3h0M1119 416.5h0M1119.2 415.3h0M1119.3 412.3h0M1119.5 411.1h0M1119.7 407.9h0M1119.8 405.7h0M1120 404.2h0M1120.1 400h0M1120.3 399.2h0M1120.4 395.8h0M1120.6 394.4h0M1120.8 393.7h0M1120.9 391.3h0M1121.1 388.4h0M1121.2 386.7h0M1121.4 384.6h0M1121.5 382.8h0M1121.7 382.3h0M1121.9 378.7h0M1122 378.7h0M1122.2 374h0M1122.3 373.2h0M1122.5 371.3h0M1122.6 368.8h0M1122.8 366.4h0M1123 366.5h0M1123.1 365.1h0M1123.3 362.4h0M1123.4 361.8h0M1123.6 358.7h0M1123.7 353.8h0M1123.9 355.2h0M1124.1 351.3h0M1124.2 352h0M1124.4 348.2h0M1124.5 347.2h0M1124.7 345.2h0M1124.8 342.7h0M1125 339.5h0M1125.2 340h0M1125.3 338.6h0M1125.5 338.6h0M1125.6 335.1h0M1125.8 334.8h0M1125.9 332h0M1126.1 332h0M1126.3 328.3h0M1126.4 332.4h0M1126.6 328.8h0M1126.7 325.9h0M1126.9 326.6h0M1127 326.1h0M1127.2 324.3h0M1127.4 324.9h0M1127.5 321.7h0M1127.7 317.4h0M1127.8 318.4h0M1128 321h0M1128.1 320h0M1128.3 318.7h0M1128.5 316h0M1128.6 318.3h0M1128.8 317.7h0M1128.9 314.9h0M1129.1 314.5h0M1129.2 315.9h0M1129.4 316.7h0M1129.6 317h0M1129.7 315.4h0M1129.9 317.5h0M1130 312.7h0M1130.2 314.6h0M1130.3 312.8h0M1130.4 308.7h0M1131 310.8h0M1131.7 318.1h0M1132.3 314.8h0M1132.9 316.1h0M1133.6 322.5h0M1134.2 324.8h0M1134.8 324.7h0M1135.4 330.2h0M1136.1 324.8h0M1136.7 335.9h0M1137.3 334.7h0M1138 334.5h0M1138.6 336.2h0M1139.2 337h0M1139.8 338.6h0M1140.5 341.4h0M1141.1 340.1h0M1141.7 348.9h0M1142.4 346h0M1143 349.2h0M1143.6 349.1h0M1144.2 350.5h0M1144.9 354.5h0M1145.5 355.6h0M1146.1 354.2h0M1146.8 356.7h0M1147.4 360.4h0M1148 356.6h0M1148.6 357.7h0M1149.3 366.6h0M1149.9 364.8h0M1150.5 362.2h0M1151.2 367h0M1151.8 369.7h0M1152.4 372h0M1153 374.2h0M1153.7 375.2h0M1154.3 377.3h0M1154.9 376.6h0M1155.6 380.1h0M1156.2 381.8h0M1156.8 384.6h0M1157.4 384.3h0M1158.1 387.2h0M1158.7 387.7h0M1159.3 387.5h0M1160 390.2h0M1160.6 391.7h0M1161.2 393.5h0M1161.8 395.5h0M1162.5 397.3h0M1163.1 399h0M1163.7 398.8h0M1164.4 402.7h0M1165 400.4h0M1165.6 403.3h0M1166.2 405.5h0M1166.9 406.1h0M1167.5 407.4h0M1168.1 407.2h0M1168.8 409.3h0M1169.4 407.8h0M1182 425.7h0M1182.6 428.2h0M1183.2 427.4h0M1183.8 429.8h0M1184.5 428.8h0M1185.1 428.8h0M1185.7 430.4h0M1186.4 433.6h0M1187 434.1h0M1187.6 432.7h0M1188.2 435.3h0M1188.9 436.8h0M1189.5 437h0M1190.1 436.9h0M1190.8 439.1h0M1191.4 441.3h0M1192 442.2h0M1192.6 443h0M1193.3 445.1h0M1193.9 446.3h0M1194.5 446.2h0M1195.2 447.9h0M1195.8 447.9h0M1196.4 448.6h0M1197 447.5h0M1197.7 450.8h0M1198.3 451h0M1198.9 451.7h0M1199.6 451.9h0M1200.2 452.1h0M1200.8 453.9h0M1201.4 454.9h0M1202.1 456.1h0M1202.7 456.2h0M1203.3 455.8h0M1204 456.9h0M1204.6 458.3h0M1205.2 458.5h0M1205.8 458.9h0M1206.5 459.3h0M1207.1 460.7h0M1207.7 461.1h0M1208.4 462.8h0M1209 463h0M1209.6 461.9h0M1210.2 464.9h0M1210.9 464.4h0M1211.5 464.6h0M1212.1 465.6h0M1212.8 466.4h0M1213.4 466.5h0M1214 466.9h0M1214.6 467.5h0M1215.3 469h0M1215.9 468.5h0M1216.5 469.3h0M1217.2 469.6h0M1217.8 469.6h0M1218.4 469.8h0M1219 470.1h0M1219.7 471.2h0M1220.3 470.9h0M1220.9 471.2h0M1221.6 471.6h0M1222.2 471.8h0M1222.8 473h0M1223.4 473.4h0M1224.1 473.2h0M1224.7 474.7h0M1225.3 474.2h0M1226 475h0M1226.6 475.2h0M1227.2 476.2h0M1227.8 476.1h0M1228.5 476.1h0M1229.1 476h0M1229.7 476.3h0M1230.4 477.1h0M1231 477.4h0M1231.6 478h0M1232.2 477.8h0M1232.9 478.4h0M1233.5 478.3h0M1234.1 478.1h0M1234.8 479.1h0M1235.4 480h0M1236 480h0M1236.6 480.5h0M1237.3 480.6h0M1237.9 479.8h0M1238.5 480.5h0M1239.2 481.4h0M1239.8 480.8h0M1240.4 480.8h0M1241 481.6h0M1241.7 481.9h0M1242.3 482h0M1242.9 482h0M1243.6 482h0M1244.2 482h0M1244.8 482.2h0M1245.4 482.4h0M1246.1 482.5h0M1246.7 483h0M1247.3 483.9h0M1248 483.6h0M1248.6 483.6h0M1249.2 484h0M1249.8 483.7h0M1250.5 484.3h0M1251.1 484.7h0M1251.7 484h0M1252.4 484.4h0M1253 484.7h0M1253.6 484.6h0M1254.2 484.7h0M1254.9 485h0M1255.5 486.1h0M1256.1 485.6h0M1256.8 485.7h0M1257.4 486h0M1258 485.7h0M1258.6 485.5h0M1259.3 486.1h0M1259.9 486.5h0M1260.5 485.5h0M1261.2 486.5h0M1261.8 486.8h0M1262.4 486.4h0M1263 486.5h0M1263.7 487h0M1264.3 486.6h0M1264.9 487.1h0M1265.6 487.3h0M1266.2 487.1h0M1266.8 487h0M1267.4 487.5h0M1268.1 487.3h0M1268.7 487.5h0M1269.3 486.7h0M1270 487.9h0M1270.6 487.4h0M1271.2 487.9h0M1271.8 488h0M1272.5 487.9h0M1273.1 487.9h0M1273.7 487.9h0M1274.4 488.2h0M1275 488.6h0M1275.6 488.7h0M1276.2 488.4h0M1276.9 488.5h0M1277.5 488.3h0M1278.1 488.7h0M1278.8 488.6h0M1279.4 488.5h0M1280 489h0M1280.6 489.5h0M1281.3 489.5h0M1281.9 489.6h0M1282.5 488.8h0M1283.2 489.6h0M1283.8 489.1h0M1284.4 489.3h0M1285 489h0M1285.7 489.3h0M1286.3 489.7h0M1286.9 489.7h0M1287.6 489.7h0M1288.2 489.8h0M1288.8 490h0M1289.4 489.9h0M1290.1 489.5h0M1290.7 490.5h0M1291.3 490h0M1292 490.4h0M1292.6 490.1h0M1293.2 490h0M1293.8 490.3h0M1294.5 490.1h0M1295.1 490.8h0M1295.7 490.1h0M1296.4 490.6h0M1297 490.3h0M1297.6 490.5h0M1298.2 491.3h0M1298.9 490.9h0M1299.5 490.6h0M1300.1 490.3h0M1300.8 490.7h0M1301.4 490.7h0M1302 491.2h0M1302.6 490.5h0M1303.3 490.5h0M1303.9 491h0M1304.5 491.1h0M1305.2 491.5h0M1305.8 490.8h0M1306.4 490.4h0M1307 490.9h0M1307.7 490.8h0M1308.3 491h0M1308.9 491.5h0M1309.6 490.9h0M1310.2 491.6h0M1310.8 491.3h0M1311.4 491.2h0M1312.1 491.1h0M1312.7 491.2h0M1313.3 491.3h0" stroke="#e3262d" stroke-width="5.8" stroke-linecap="round" fill="none"/>
<path d="M1109.6 492.5h0M1109.7 492.5h0M1109.9 492.2h0M1110 492h0M1110.1 491.8h0M1110.2 491.3h0M1110.4 490.7h0M1110.5 490.4h0M1110.6 489.6h0M1110.8 489h0M1110.9 487.9h0M1111 487.1h0M1111.2 486h0M1111.3 485.5h0M1111.4 483.7h0M1111.5 481.2h0M1111.7 478.9h0M1111.8 476h0M1111.9 472.3h0M1112.1 469.5h0M1112.2 466.2h0M1112.3 462.8h0M1112.5 458.6h0M1112.6 455.2h0M1112.7 452.6h0M1112.8 449.3h0M1113 445.4h0M1113.1 442.1h0M1113.2 439.3h0M1113.4 435.3h0M1113.5 431.8h0M1113.6 429.7h0M1113.7 425.4h0M1113.9 421.5h0M1114 418.6h0M1114.1 416.2h0M1114.3 411.6h0M1114.4 407.4h0M1114.5 403.3h0M1114.7 402.7h0M1114.8 395.4h0M1114.9 394.9h0M1115 389.6h0M1115.2 385.9h0M1115.3 382.6h0M1115.4 380h0M1115.6 377.9h0M1115.7 373h0M1115.8 371.2h0M1116 370h0M1116.1 361.5h0M1116.2 360.7h0M1116.3 356.5h0M1116.5 356.5h0M1116.6 351h0M1116.7 348.1h0M1116.9 345.3h0M1117 344.5h0M1117.1 343.4h0M1117.2 339.8h0M1117.4 340.1h0M1117.5 337.3h0M1117.6 333h0M1117.8 332.3h0M1117.9 329.2h0M1118 327.1h0M1118.2 322.5h0M1118.3 321.5h0M1118.4 321.5h0M1118.5 318.3h0M1118.7 319.5h0M1118.8 317.6h0M1118.9 314.9h0M1119.1 317h0M1119.2 314.9h0M1119.3 315.6h0M1119.5 312.9h0M1119.6 310.1h0M1119.7 312.7h0M1119.8 310.8h0M1120 311.9h0M1120.1 311.8h0M1120.2 311.5h0M1120.4 307.5h0M1120.5 306h0M1120.6 308.2h0M1121.1 312.2h0M1121.6 311.8h0M1122.1 317.7h0M1122.6 318.2h0M1123.2 322.3h0M1123.7 325.2h0M1124.2 327.5h0M1124.7 333h0M1125.2 335.4h0M1125.7 340.8h0M1126.2 340.8h0M1126.7 345.2h0M1127.2 345.1h0M1127.7 349h0M1128.3 349.3h0M1128.8 351h0M1129.3 356.8h0M1129.8 358h0M1130.3 360.5h0M1130.8 359.9h0M1131.3 360.7h0M1131.8 364.7h0M1132.3 369.2h0M1132.9 368.7h0M1133.4 375.9h0M1133.9 373.5h0M1134.4 379.3h0M1134.9 384.9h0M1135.4 378.9h0M1135.9 382.7h0M1136.4 388.7h0M1136.9 389h0M1137.5 391.6h0M1138 393.1h0M1138.5 397.2h0M1139 398.1h0M1139.5 398.6h0M1140 400.9h0M1140.5 401.7h0M1141 405.1h0M1141.5 404.5h0M1142 410.3h0M1142.6 411.3h0M1143.1 415.9h0M1143.6 417.3h0M1144.1 416.5h0M1144.6 421.1h0M1145.1 421.6h0M1145.6 424.2h0M1146.1 427.1h0M1146.6 428.3h0M1147.2 430.3h0M1147.7 432h0M1148.2 432.6h0M1148.7 434.4h0M1149.2 437.1h0M1149.7 439h0M1150.2 439.6h0M1150.7 441.5h0M1151.2 442.1h0M1151.8 442.3h0M1152.3 445.2h0M1152.8 447.3h0M1153.3 448.7h0M1153.8 450.5h0M1154.3 451.7h0M1154.8 453h0M1155.3 453.7h0M1155.8 454.9h0M1156.3 455.3h0M1156.9 457.1h0M1157.4 458.1h0M1157.9 459.7h0M1158.4 459h0M1158.9 460.7h0M1159.4 460.9h0M1159.9 462.5h0M1160.4 463h0M1160.9 464.8h0M1161.5 465.1h0M1162 464.9h0M1162.5 467.7h0M1163 467.2h0M1163.5 467.7h0M1164 469.1h0M1164.5 469.6h0M1165 470h0M1165.5 471.6h0M1166.1 471.7h0M1166.6 472.9h0M1167.1 473.4h0M1167.6 474h0M1168.1 474.3h0M1168.6 474.8h0M1169.1 475.2h0M1169.6 476.5h0M1170.1 475.6h0M1170.6 476.4h0M1171.2 477.1h0M1171.7 478.1h0M1172.2 478.4h0M1172.7 478.7h0M1173.2 479.2h0M1173.7 480.5h0M1174.2 480h0M1174.7 479.7h0M1175.2 481.9h0M1175.8 481.3h0M1176.3 481.9h0M1176.8 482.5h0M1177.3 482.4h0M1177.8 483.6h0M1178.3 483.5h0M1178.8 483.5h0M1179.3 484.3h0M1179.8 484.7h0M1180.3 484.9h0M1180.9 485.3h0M1181.4 485h0M1181.9 486h0M1182.4 485.8h0M1182.9 486.7h0M1183.4 486.4h0M1183.9 486.9h0M1184.4 487.9h0M1184.9 487.4h0M1185.5 487.9h0M1186 488h0M1186.5 487.6h0M1187 488.6h0M1187.5 488.8h0M1188 488.3h0M1188.5 488.8h0M1189 488.6h0M1189.5 489.1h0M1190.1 489.5h0M1190.6 489.4h0M1191.1 489.2h0M1191.6 489.4h0M1192.1 489.7h0M1192.6 489.8h0M1193.1 490h0M1193.6 490.2h0M1194.1 489.7h0M1194.6 490.3h0M1195.2 490.7h0M1195.7 490.6h0M1196.2 490.4h0M1196.7 490.5h0M1197.2 490.8h0M1197.7 491h0M1198.2 490.9h0M1198.7 491.4h0M1199.2 491.4h0M1199.8 490.9h0M1200.3 491.3h0M1200.8 491.1h0M1201.3 491h0M1201.8 491.1h0M1202.3 491.3h0M1202.8 490.8h0M1203.3 491.2h0M1203.8 491.5h0M1204.4 491.2h0M1204.9 491.3h0M1205.4 491.6h0M1205.9 491.4h0M1206.4 491.4h0M1206.9 491.9h0M1207.4 491.4h0M1207.9 491.5h0M1208.4 491.5h0M1208.9 491.8h0M1209.5 491.5h0M1210 491.4h0M1210.5 491.4h0M1211 491.7h0M1211.5 491.3h0M1212 491.7h0M1212.5 491.5h0M1213 491.1h0M1213.5 491.6h0M1214.1 491.6h0M1214.6 491.2h0M1215.1 491.5h0M1215.6 491.5h0M1216.1 491.4h0M1216.6 491.2h0M1217.1 492h0M1217.6 491.7h0M1218.1 491.7h0M1218.7 491.7h0M1219.2 491.7h0M1219.7 491.7h0M1220.2 491.4h0M1220.7 491.7h0M1221.2 491.4h0M1221.7 491.4h0M1222.2 491.7h0M1222.7 491.5h0M1223.2 491.1h0M1223.8 491.4h0M1224.3 491.6h0M1224.8 491.5h0M1225.3 491.7h0M1225.8 491.4h0M1226.3 491.3h0M1226.8 491.7h0M1227.3 491.6h0M1227.8 491.2h0M1228.4 491.6h0M1228.9 491.5h0M1229.4 491.8h0M1229.9 491.7h0M1230.4 491.6h0M1230.9 491h0M1231.4 491.6h0M1231.9 491.6h0M1232.4 491.7h0M1232.9 491.6h0M1233.5 491.4h0M1234 491.5h0M1234.5 491h0M1235 491.5h0M1235.5 491.2h0M1236 491.5h0M1236.5 491.4h0M1237 491.9h0M1237.5 491.6h0M1238.1 491.6h0M1238.6 491.6h0M1239.1 492h0M1239.6 491.3h0M1240.1 491.6h0M1240.6 491.6h0M1241.1 491.6h0M1241.6 491.6h0M1242.1 491.5h0M1242.7 491.8h0M1243.2 491.8h0M1243.7 491.5h0M1244.2 491.5h0M1244.7 491.6h0M1245.2 491.7h0M1245.7 491.7h0M1246.2 491.6h0M1246.7 491.3h0M1247.2 491.8h0M1247.8 491.2h0M1248.3 491.4h0M1248.8 491.7h0M1249.3 491.4h0M1249.8 491.9h0M1250.3 492h0M1250.8 491.9h0M1251.3 491.7h0M1251.8 491.6h0M1252.4 491.7h0M1252.9 491.5h0M1253.4 492.1h0M1253.9 491.5h0M1254.4 491.9h0M1254.9 491.7h0M1255.4 491.7h0M1255.9 491.8h0M1256.4 491.9h0M1257 491.8h0M1257.5 491.6h0M1258 491.4h0M1258.5 491.4h0M1259 491.8h0M1259.5 491.8h0M1260 491.8h0M1260.5 491.5h0M1261 492h0M1261.5 491.3h0M1262.1 491.7h0M1262.6 491.8h0M1263.1 491.5h0M1263.6 491.3h0M1264.1 491.5h0M1264.6 491.3h0M1265.1 491.5h0M1265.6 491.3h0M1266.1 491.3h0M1266.7 491.6h0M1267.2 491.2h0M1267.7 491.5h0M1268.2 491.6h0M1268.7 491.8h0M1269.2 491.6h0M1269.7 491.4h0M1270.2 491.9h0M1270.7 491.4h0M1271.3 491.5h0M1271.8 491.5h0M1272.3 492.1h0M1272.8 491.6h0M1273.3 491.4h0M1273.8 491.8h0" stroke="#3f57b0" stroke-width="5.6" stroke-linecap="round" fill="none"/>
<text transform="translate(1059.2 391.5) rotate(-90)" font-size="17.5" text-anchor="middle" fill="#111" textLength="211.5" lengthAdjust="spacingAndGlyphs">Relative fraction,&#160; arb. units</text>
<path d="M1110.9 544.8 V752 H1345.5" fill="none" stroke="#111" stroke-width="2.1"/>
<text x="1091.2" y="757.5" font-size="17.2" text-anchor="middle" fill="#111">0</text>
<text x="1091.2" y="716.3" font-size="17.2" text-anchor="middle" fill="#111">0.2</text>
<text x="1091.2" y="675" font-size="17.2" text-anchor="middle" fill="#111">0.4</text>
<text x="1091.2" y="633.8" font-size="17.2" text-anchor="middle" fill="#111">0.6</text>
<text x="1091.2" y="592.5" font-size="17.2" text-anchor="middle" fill="#111">0.8</text>
<text x="1091.2" y="551.3" font-size="17.2" text-anchor="middle" fill="#111">1</text>
<path d="M1110.9 752H1108M1110.9 710.8H1108M1110.9 669.5H1108M1110.9 628.3H1108M1110.9 587H1108M1110.9 545.8H1108M1110.9 752H1108.6M1110.9 743.8H1108.6M1110.9 735.5H1108.6M1110.9 727.3H1108.6M1110.9 719H1108.6M1110.9 710.8H1108.6M1110.9 702.5H1108.6M1110.9 694.3H1108.6M1110.9 686H1108.6M1110.9 677.8H1108.6M1110.9 669.5H1108.6M1110.9 661.3H1108.6M1110.9 653H1108.6M1110.9 644.8H1108.6M1110.9 636.5H1108.6M1110.9 628.3H1108.6M1110.9 620H1108.6M1110.9 611.8H1108.6M1110.9 603.5H1108.6M1110.9 595.3H1108.6M1110.9 587H1108.6M1110.9 578.8H1108.6M1110.9 570.5H1108.6M1110.9 562.3H1108.6M1110.9 554H1108.6M1110.9 545.8H1108.6M1110.4 752V754.9M1157.2 752V754.9M1204 752V754.9M1250.7 752V754.9M1297.5 752V754.9M1344.3 752V754.9M1110.4 752V754.3M1119.8 752V754.3M1129.1 752V754.3M1138.5 752V754.3M1147.8 752V754.3M1157.2 752V754.3M1166.5 752V754.3M1175.9 752V754.3M1185.2 752V754.3M1194.6 752V754.3M1204 752V754.3M1213.3 752V754.3M1222.7 752V754.3M1232 752V754.3M1241.4 752V754.3M1250.7 752V754.3M1260.1 752V754.3M1269.5 752V754.3M1278.8 752V754.3M1288.2 752V754.3M1297.5 752V754.3M1306.9 752V754.3M1316.2 752V754.3M1325.6 752V754.3M1334.9 752V754.3M1344.3 752V754.3" stroke="#111" stroke-width="1.2" fill="none"/>
<text x="1106.4" y="780.8" font-size="16.6" text-anchor="middle" fill="#111">0</text>
<text x="1157.4" y="780.8" font-size="16.6" text-anchor="middle" fill="#111">200</text>
<text x="1203.5" y="780.8" font-size="16.6" text-anchor="middle" fill="#111">400</text>
<text x="1250.1" y="780.8" font-size="16.6" text-anchor="middle" fill="#111">600</text>
<text x="1296.2" y="780.8" font-size="16.6" text-anchor="middle" fill="#111">800</text>
<text x="1344.6" y="780.8" font-size="16.6" text-anchor="middle" fill="#111">1000</text>
<path d="M1127.2 751.2h0M1127.7 749.8h0M1128.2 748.3h0M1128.6 746.6h0M1129.1 744.6h0M1129.6 742.6h0M1130 740.4h0M1130.5 738.1h0M1131 735.8h0M1131.5 733.6h0M1131.9 731.4h0M1132.4 729.4h0M1132.9 727.5h0M1133.3 725.6h0M1133.8 723.7h0M1134.3 721.8h0M1134.7 720h0M1135.2 718.2h0M1135.7 716.3h0M1136.1 714.6h0M1136.6 712.8h0M1137.1 711.1h0M1137.5 709.4h0M1138 707.7h0M1138.5 706h0M1138.9 704.4h0M1139.4 702.9h0M1139.9 701.4h0M1140.3 699.9h0M1140.8 698.4h0M1141.3 696.9h0M1141.7 695.5h0M1142.2 694.1h0M1142.7 692.7h0M1143.1 691.3h0M1143.6 690h0M1144.1 688.6h0M1144.5 687.3h0M1145 686h0M1145.5 684.7h0M1146 683.4h0M1146.4 682.2h0M1146.9 680.9h0M1147.4 679.7h0M1147.8 678.5h0M1148.3 677.3h0M1148.8 676.1h0M1149.2 674.9h0M1149.7 673.8h0M1150.2 672.6h0M1150.6 671.5h0M1151.1 670.4h0M1151.6 669.2h0M1152 668.1h0M1152.5 667.1h0M1153 666h0M1153.4 664.9h0M1153.9 663.9h0M1154.4 662.8h0M1154.8 661.8h0M1155.3 660.8h0M1155.8 659.8h0M1156.2 658.8h0M1156.7 657.8h0M1157.2 656.8h0M1157.6 655.9h0M1158.1 654.9h0M1158.6 654h0M1159.1 653.1h0M1159.5 652.2h0M1160 651.3h0M1160.5 650.4h0M1160.9 649.5h0M1161.4 648.7h0M1161.9 647.8h0M1162.3 647h0M1162.8 646.2h0M1163.3 645.4h0M1163.7 644.6h0M1164.2 643.8h0M1164.7 643h0M1165.1 642.2h0M1165.6 641.4h0M1166.1 640.7h0M1166.5 639.9h0M1167 639.1h0M1167.5 638.3h0M1167.9 637.5h0M1168.4 636.7h0M1168.9 635.9h0M1169.3 635.1h0M1169.8 634.3h0M1170.3 633.5h0M1170.7 632.6h0M1171.2 631.8h0M1171.7 631h0M1172.1 630.2h0M1172.6 629.3h0M1173.1 628.5h0M1173.6 627.7h0M1174 626.9h0M1174.5 626.1h0M1175 625.3h0M1175.4 624.4h0M1175.9 623.6h0M1176.4 622.8h0M1176.8 622h0M1177.3 621.2h0M1177.8 620.5h0M1178.2 619.7h0M1178.7 618.9h0M1179.2 618.1h0M1179.6 617.3h0M1180.1 616.5h0M1180.6 615.8h0M1181 615h0M1181.5 614.2h0M1182 613.4h0M1182.4 612.6h0M1182.9 611.9h0M1183.4 611.1h0M1183.8 610.4h0M1184.3 609.6h0M1184.8 608.9h0M1185.2 608.1h0M1185.7 607.4h0M1186.2 606.7h0M1186.7 606h0M1187.1 605.3h0M1187.6 604.6h0M1188.1 603.9h0M1188.5 603.3h0M1189 602.6h0M1189.5 602h0M1189.9 601.3h0M1190.4 600.7h0M1190.9 600.1h0M1191.3 599.4h0M1191.8 598.8h0M1192.3 598.2h0M1192.7 597.6h0M1193.2 597h0M1193.7 596.4h0M1194.1 595.8h0M1194.6 595.3h0M1195.1 594.7h0M1195.5 594.1h0M1196 593.5h0M1196.5 593h0M1196.9 592.4h0M1197.4 591.9h0M1197.9 591.3h0M1198.3 590.7h0M1198.8 590.2h0M1199.3 589.6h0M1199.7 589.1h0M1200.2 588.6h0M1200.7 588h0M1201.2 587.5h0M1201.6 586.9h0M1202.1 586.4h0M1202.6 585.9h0M1203 585.4h0M1203.5 584.9h0M1204 584.3h0M1204.4 583.8h0M1204.9 583.3h0M1205.4 582.8h0M1205.8 582.3h0M1206.3 581.8h0M1206.8 581.4h0M1207.2 580.9h0M1207.7 580.4h0M1208.2 580h0M1208.6 579.5h0M1209.1 579.1h0M1209.6 578.6h0M1210 578.2h0M1210.5 577.7h0M1211 577.3h0M1211.4 576.9h0M1211.9 576.5h0M1212.4 576.1h0M1212.8 575.7h0M1213.3 575.3h0M1213.8 574.9h0M1214.3 574.5h0M1214.7 574.1h0M1215.2 573.7h0M1215.7 573.3h0M1216.1 572.9h0M1216.6 572.5h0M1217.1 572.2h0M1217.5 571.8h0M1218 571.4h0M1218.5 571.1h0M1218.9 570.7h0M1219.4 570.4h0M1219.9 570h0M1220.3 569.7h0M1220.8 569.3h0M1221.3 569h0M1221.7 568.6h0M1222.2 568.3h0M1222.7 568h0M1223.1 567.6h0M1223.6 567.3h0M1224.1 567h0M1224.5 566.7h0M1225 566.3h0M1225.5 566h0M1225.9 565.7h0M1226.4 565.4h0M1226.9 565.1h0M1227.3 564.8h0M1227.8 564.5h0M1228.3 564.1h0M1228.8 563.8h0M1229.2 563.5h0M1229.7 563.3h0M1230.2 563h0M1230.6 562.7h0M1231.1 562.4h0M1231.6 562.1h0M1232 561.8h0M1232.5 561.5h0M1233 561.3h0M1233.4 561h0M1233.9 560.7h0M1234.4 560.5h0M1234.8 560.2h0M1235.3 559.9h0M1235.8 559.7h0M1236.2 559.4h0M1236.7 559.2h0M1237.2 559h0M1237.6 558.7h0M1238.1 558.5h0M1238.6 558.2h0M1239 558h0M1239.5 557.8h0M1240 557.5h0M1240.4 557.3h0M1240.9 557.1h0M1241.4 556.9h0M1241.9 556.6h0M1242.3 556.4h0M1242.8 556.2h0M1243.3 556h0M1243.7 555.8h0M1244.2 555.6h0M1244.7 555.4h0M1245.1 555.2h0M1245.6 554.9h0M1246.1 554.7h0M1246.5 554.6h0M1247 554.4h0M1247.5 554.2h0M1247.9 554h0M1248.4 553.8h0M1248.9 553.6h0M1249.3 553.4h0M1249.8 553.3h0M1250.3 553.1h0M1250.7 552.9h0M1251.2 552.8h0M1251.7 552.6h0M1252.1 552.5h0M1252.6 552.3h0M1253.1 552.2h0M1253.5 552h0M1254 551.9h0M1254.5 551.7h0M1255 551.6h0M1255.4 551.5h0M1255.9 551.3h0M1256.4 551.2h0M1256.8 551h0M1257.3 550.9h0M1257.8 550.8h0M1258.2 550.6h0M1258.7 550.5h0M1259.2 550.4h0M1259.6 550.3h0M1260.1 550.2h0M1260.6 550h0M1261 549.9h0M1261.5 549.8h0M1262 549.7h0M1262.4 549.6h0M1262.9 549.5h0M1263.4 549.4h0M1263.8 549.3h0M1264.3 549.2h0M1264.8 549.1h0M1265.2 549h0M1265.7 548.9h0M1266.2 548.8h0M1266.6 548.7h0M1267.1 548.6h0M1267.6 548.5h0M1268 548.5h0M1268.5 548.4h0M1269 548.3h0M1269.5 548.2h0M1269.9 548.2h0M1270.4 548.1h0M1270.9 548h0M1271.3 548h0M1271.8 547.9h0M1272.3 547.8h0M1272.7 547.8h0M1273.2 547.7h0M1273.7 547.6h0M1274.1 547.6h0M1274.6 547.5h0M1275.1 547.5h0M1275.5 547.4h0M1276 547.4h0M1276.5 547.3h0M1276.9 547.2h0M1277.4 547.2h0M1277.9 547.1h0M1278.3 547.1h0M1278.8 547h0M1279.3 547h0M1279.7 547h0M1280.2 546.9h0M1280.7 546.9h0M1281.1 546.8h0M1281.6 546.8h0M1282.1 546.7h0M1282.6 546.7h0M1283 546.7h0M1283.5 546.6h0M1284 546.6h0M1284.4 546.6h0M1284.9 546.5h0M1285.4 546.5h0M1285.8 546.5h0M1286.3 546.4h0M1286.8 546.4h0M1287.2 546.4h0M1287.7 546.3h0M1288.2 546.3h0M1288.6 546.3h0M1289.1 546.2h0M1289.6 546.2h0M1290 546.2h0M1290.5 546.1h0M1291 546.1h0M1291.4 546.1h0M1291.9 546h0M1292.4 546h0M1292.8 546h0M1293.3 546h0M1293.8 545.9h0M1294.2 545.9h0M1294.7 545.9h0M1295.2 545.9h0M1295.6 545.9h0M1296.1 545.8h0M1296.6 545.8h0M1297.1 545.8h0M1297.5 545.8h0M1298 545.8h0M1298.5 545.8h0M1298.9 545.8h0M1299.4 545.8h0M1299.9 545.8h0M1300.3 545.8h0M1300.8 545.8h0M1301.3 545.8h0M1301.7 545.8h0M1302.2 545.8h0M1302.7 545.8h0M1303.1 545.8h0M1303.6 545.8h0M1304.1 545.8h0M1304.5 545.8h0M1305 545.8h0M1305.5 545.8h0M1305.9 545.8h0M1306.4 545.8h0M1306.9 545.8h0M1307.3 545.8h0M1307.8 545.8h0M1308.3 545.8h0M1308.7 545.8h0M1309.2 545.8h0M1309.7 545.8h0M1310.2 545.8h0M1310.6 545.8h0M1311.1 545.8h0M1311.6 545.8h0M1312 545.8h0M1312.5 545.8h0M1313 545.8h0M1313.4 545.8h0M1313.9 545.8h0M1314.4 545.8h0M1314.8 545.8h0M1315.3 545.8h0M1315.8 545.8h0M1316.2 545.8h0M1316.7 545.8h0M1317.2 545.8h0M1317.6 545.8h0M1318.1 545.8h0M1318.6 545.8h0M1319 545.8h0M1319.5 545.8h0M1320 545.8h0M1320.4 545.8h0M1320.9 545.8h0M1321.4 545.8h0M1321.8 545.8h0M1322.3 545.8h0M1322.8 545.8h0M1323.2 545.8h0M1323.7 545.8h0M1324.2 545.8h0M1324.7 545.8h0M1325.1 545.8h0M1325.6 545.8h0M1326.1 545.8h0M1326.5 545.8h0M1327 545.8h0M1327.5 545.8h0M1327.9 545.8h0M1328.4 545.8h0M1328.9 545.8h0M1329.3 545.8h0M1329.8 545.8h0M1330.3 545.8h0M1330.7 545.8h0M1331.2 545.8h0M1331.7 545.8h0M1332.1 545.8h0M1332.6 545.8h0M1333.1 545.8h0M1333.5 545.8h0M1334 545.8h0M1334.5 545.8h0M1334.9 545.8h0M1335.4 545.8h0M1335.9 545.8h0M1336.3 545.8h0M1336.8 545.8h0M1337.3 545.8h0M1337.8 545.8h0M1338.2 545.8h0M1338.7 545.8h0M1339.2 545.8h0M1339.6 545.8h0M1340.1 545.8h0M1340.6 545.8h0M1341 545.8h0M1341.5 545.8h0M1342 545.8h0M1342.4 545.8h0M1342.9 545.8h0M1343.4 545.8h0M1343.8 545.8h0M1344.3 545.8h0" stroke="#4f8a3c" stroke-width="6.8" stroke-linecap="round" fill="none"/>
<path d="M1122.3 751.6h0M1122.7 750h0M1123.1 747.8h0M1123.5 744.3h0M1123.8 740.1h0M1124.2 735.4h0M1124.6 730.5h0M1124.9 725.9h0M1125.3 721.8h0M1125.7 718.6h0M1126.1 716h0M1126.4 713.6h0M1126.8 711.3h0M1127.2 709.1h0M1127.6 707h0M1127.9 705h0M1128.3 703.2h0M1128.7 701.4h0M1129.1 699.6h0M1129.4 698h0M1129.8 696.3h0M1130.2 694.7h0M1130.6 693.2h0M1130.9 691.7h0M1131.3 690.1h0M1131.7 688.6h0M1132.1 687.1h0M1132.4 685.7h0M1132.8 684.2h0M1133.2 682.8h0M1133.6 681.5h0M1133.9 680.2h0M1134.3 678.9h0M1134.7 677.6h0M1135.1 676.3h0M1135.4 675.1h0M1135.8 673.9h0M1136.2 672.7h0M1136.6 671.5h0M1136.9 670.3h0M1137.3 669.2h0M1137.7 668h0M1138 666.9h0M1138.4 665.8h0M1138.8 664.6h0M1139.2 663.5h0M1139.5 662.4h0M1139.9 661.3h0M1140.3 660.2h0M1140.7 659.1h0M1141 658h0M1141.4 657h0M1141.8 655.9h0M1142.2 654.9h0M1142.5 653.9h0M1142.9 652.8h0M1143.3 651.9h0M1143.7 650.9h0M1144 649.9h0M1144.4 649h0M1144.8 648.1h0M1145.2 647.1h0M1145.5 646.3h0M1153.8 629.4h0M1154.1 628.3h0M1154.5 627.1h0M1154.9 625.8h0M1155.3 624.4h0M1155.6 623h0M1156 621.5h0M1156.4 620h0M1156.8 618.5h0M1157.1 617h0M1157.5 615.6h0M1157.9 614.3h0M1158.3 613h0M1158.6 611.9h0M1159 610.8h0M1159.4 609.7h0M1159.8 608.6h0M1160.1 607.6h0M1160.5 606.6h0M1160.9 605.6h0M1161.2 604.7h0M1161.6 603.7h0M1162 602.8h0M1162.4 601.9h0M1162.7 601h0M1163.1 600.1h0M1163.5 599.2h0M1163.9 598.3h0M1164.2 597.5h0M1164.6 596.6h0M1165 595.8h0M1165.4 594.9h0M1165.7 594.1h0M1166.1 593.3h0M1166.5 592.5h0M1166.9 591.6h0M1167.2 590.8h0M1167.6 590h0M1168 589.2h0M1168.4 588.4h0M1168.7 587.6h0M1169.1 586.8h0M1169.5 586h0M1169.9 585.2h0M1170.2 584.4h0M1170.6 583.7h0M1171 582.9h0M1171.4 582.2h0M1171.7 581.5h0M1172.1 580.7h0M1172.5 580h0M1172.9 579.3h0M1173.2 578.7h0M1173.6 578h0M1174 577.4h0M1174.3 576.7h0M1174.7 576.1h0M1175.1 575.5h0M1175.5 574.9h0M1175.8 574.3h0M1176.2 573.7h0M1176.6 573.1h0M1177 572.5h0M1177.3 571.9h0M1177.7 571.4h0M1178.1 570.8h0M1178.5 570.3h0M1178.8 569.7h0M1179.2 569.2h0M1179.6 568.6h0M1180 568.1h0M1180.3 567.6h0M1180.7 567.1h0M1181.1 566.6h0M1181.5 566.1h0M1181.8 565.6h0M1182.2 565.2h0M1182.6 564.7h0M1183 564.3h0M1183.3 563.9h0M1183.7 563.4h0M1184.1 563h0M1184.5 562.6h0M1184.8 562.2h0M1185.2 561.8h0M1185.6 561.4h0M1185.9 561h0M1186.3 560.6h0M1186.7 560.3h0M1187.1 559.9h0M1187.4 559.5h0M1187.8 559.2h0M1188.2 558.8h0M1188.6 558.4h0M1188.9 558.1h0M1189.3 557.8h0M1189.7 557.4h0M1190.1 557.1h0M1190.4 556.8h0M1190.8 556.5h0M1191.2 556.2h0M1191.6 555.9h0M1191.9 555.6h0M1192.3 555.4h0M1192.7 555.1h0M1193.1 554.9h0M1193.4 554.7h0M1193.8 554.4h0M1194.2 554.2h0M1194.6 554h0M1194.9 553.8h0M1195.3 553.6h0M1195.7 553.4h0M1196.1 553.2h0M1196.4 553h0M1196.8 552.9h0M1197.2 552.7h0M1197.6 552.5h0M1197.9 552.3h0M1198.3 552.2h0M1198.7 552h0M1199 551.8h0M1199.4 551.7h0M1199.8 551.5h0M1200.2 551.4h0M1200.5 551.2h0M1200.9 551.1h0M1201.3 550.9h0M1201.7 550.8h0M1202 550.7h0M1202.4 550.5h0M1202.8 550.4h0M1203.2 550.3h0M1203.5 550.1h0M1203.9 550h0M1204.3 549.9h0M1204.7 549.8h0M1205 549.7h0M1205.4 549.5h0M1205.8 549.4h0M1206.2 549.3h0M1206.5 549.2h0M1206.9 549.1h0M1207.3 548.9h0M1207.7 548.8h0M1208 548.7h0M1208.4 548.6h0M1208.8 548.5h0M1209.2 548.4h0M1209.5 548.3h0M1209.9 548.2h0M1210.3 548.1h0M1210.6 547.9h0M1211 547.8h0M1211.4 547.7h0M1211.8 547.6h0M1212.1 547.5h0M1212.5 547.5h0M1212.9 547.4h0M1213.3 547.3h0M1213.6 547.2h0M1214 547.1h0M1214.4 547h0M1214.8 547h0M1215.1 546.9h0M1215.5 546.8h0M1215.9 546.8h0M1216.3 546.7h0M1216.6 546.7h0M1217 546.6h0M1217.4 546.6h0M1217.8 546.6h0M1218.1 546.5h0M1218.5 546.5h0M1218.9 546.5h0M1219.3 546.4h0M1219.6 546.4h0M1220 546.4h0M1220.4 546.3h0M1220.8 546.3h0M1221.1 546.3h0M1221.5 546.2h0M1221.9 546.2h0M1222.3 546.2h0M1222.6 546.1h0M1223 546.1h0M1223.4 546.1h0M1223.7 546.1h0M1224.1 546h0M1224.5 546h0M1224.9 546h0M1225.2 546h0M1225.6 545.9h0M1226 545.9h0M1226.4 545.9h0M1226.7 545.9h0M1227.1 545.9h0M1227.5 545.9h0M1227.9 545.9h0M1228.2 545.8h0M1228.6 545.8h0M1229 545.8h0M1229.4 545.8h0M1229.7 545.8h0M1230.1 545.8h0M1230.5 545.8h0M1230.9 545.8h0" stroke="#e3262d" stroke-width="6.2" stroke-linecap="round" fill="none"/>
<path d="M1110.4 752h0M1110.7 752h0M1111 752h0M1111.3 752h0M1111.6 752h0M1111.9 752h0M1112.2 752h0M1112.5 752h0M1112.8 752h0M1113.1 752h0M1113.4 752h0M1113.7 752h0M1114 751.9h0M1114.4 751.4h0M1114.7 750.5h0M1115 749.5h0M1115.3 747.6h0M1115.6 745h0M1115.9 741.8h0M1116.2 738.1h0M1116.5 734.2h0M1116.8 730.2h0M1117.1 726.3h0M1117.4 722.6h0M1117.7 719.5h0M1118 716.7h0M1118.3 714.2h0M1118.6 711.6h0M1118.9 709.2h0M1119.2 706.8h0M1119.5 704.5h0M1119.8 702.2h0M1120.1 700h0M1120.4 697.9h0M1120.7 695.7h0M1121 693.7h0M1121.3 691.6h0M1121.7 689.5h0M1122 687.5h0M1122.3 685.5h0M1122.6 683.5h0M1122.9 681.6h0M1123.2 679.7h0M1123.5 677.8h0M1123.8 676h0M1124.1 674.2h0M1124.4 672.4h0M1124.7 670.6h0M1125 668.8h0M1125.3 667h0M1125.6 665.3h0M1125.9 663.6h0M1126.2 661.8h0M1126.5 660.1h0M1126.8 658.4h0M1127.1 656.7h0M1127.4 655.1h0M1127.7 653.5h0M1128 651.9h0M1128.3 650.3h0M1128.6 648.7h0M1128.9 647.1h0M1129.3 645.5h0M1129.6 643.9h0M1129.9 642.3h0M1130.2 640.7h0M1130.5 639h0M1130.8 637.3h0M1131.1 635.5h0M1131.4 633.7h0M1131.7 631.9h0M1132 630h0M1132.3 628.2h0M1132.6 626.3h0M1132.9 624.5h0M1133.2 622.7h0M1133.5 620.9h0M1133.8 619.1h0M1134.1 617.4h0M1134.4 615.8h0M1134.7 614.2h0M1135 612.7h0M1135.3 611.2h0M1135.6 609.8h0M1135.9 608.4h0M1136.2 607.1h0M1136.6 605.8h0M1136.9 604.4h0M1137.2 603.2h0M1137.5 601.9h0M1137.8 600.7h0M1138.1 599.5h0M1138.4 598.3h0M1138.7 597.1h0M1139 596h0M1139.3 594.8h0M1139.6 593.7h0M1139.9 592.6h0M1140.2 591.6h0M1140.5 590.5h0M1140.8 589.5h0M1141.1 588.5h0M1141.4 587.4h0M1141.7 586.4h0M1142 585.4h0M1142.3 584.5h0M1142.6 583.5h0M1142.9 582.5h0M1143.2 581.6h0M1143.5 580.6h0M1143.8 579.7h0M1144.2 578.8h0M1144.5 577.9h0M1144.8 577h0M1145.1 576.1h0M1145.4 575.3h0M1145.7 574.5h0M1146 573.6h0M1146.3 572.9h0M1146.6 572.1h0M1146.9 571.3h0M1147.2 570.6h0M1147.5 569.9h0M1147.8 569.3h0M1148.1 568.6h0M1148.4 568h0M1148.7 567.3h0M1149 566.7h0M1149.3 566.1h0M1149.6 565.5h0M1149.9 564.9h0M1150.2 564.4h0M1150.5 563.8h0M1150.8 563.3h0M1151.1 562.7h0M1151.4 562.2h0M1151.8 561.7h0M1152.1 561.2h0M1152.4 560.7h0M1152.7 560.2h0M1153 559.8h0M1153.3 559.3h0M1153.6 558.9h0M1153.9 558.4h0M1154.2 558h0M1154.5 557.6h0M1154.8 557.2h0M1155.1 556.8h0M1155.4 556.5h0M1155.7 556.1h0M1156 555.7h0M1156.3 555.3h0M1156.6 554.9h0M1156.9 554.6h0M1157.2 554.2h0M1157.5 553.8h0M1157.8 553.5h0M1158.1 553.2h0M1158.4 552.8h0M1158.7 552.5h0M1159.1 552.2h0M1159.4 551.9h0M1159.7 551.6h0M1160 551.3h0M1160.3 551h0M1160.6 550.8h0M1160.9 550.5h0M1161.2 550.3h0M1161.5 550.1h0M1161.8 549.9h0M1162.1 549.7h0M1162.4 549.6h0M1162.7 549.4h0M1163 549.3h0M1163.3 549.2h0M1163.6 549h0M1163.9 548.9h0M1164.2 548.8h0M1164.5 548.6h0M1164.8 548.5h0M1165.1 548.4h0M1165.4 548.3h0M1165.7 548.2h0M1166 548.1h0M1166.3 548h0M1166.7 547.9h0M1167 547.8h0M1167.3 547.7h0M1167.6 547.6h0M1167.9 547.5h0M1168.2 547.4h0M1168.5 547.4h0M1168.8 547.3h0M1169.1 547.2h0M1169.4 547.1h0M1169.7 547.1h0M1170 547h0M1170.3 547h0M1170.6 546.9h0M1170.9 546.8h0M1171.2 546.8h0M1171.5 546.7h0M1171.8 546.7h0M1172.1 546.6h0M1172.4 546.6h0M1172.7 546.6h0M1173 546.5h0M1173.3 546.5h0M1173.6 546.4h0M1174 546.4h0M1174.3 546.4h0M1174.6 546.3h0M1174.9 546.3h0M1175.2 546.3h0M1175.5 546.2h0M1175.8 546.2h0M1176.1 546.2h0M1176.4 546.1h0M1176.7 546.1h0M1177 546.1h0M1177.3 546h0M1177.6 546h0M1177.9 546h0M1178.2 546h0M1178.5 545.9h0M1178.8 545.9h0M1179.1 545.9h0M1179.4 545.9h0M1179.7 545.9h0M1180 545.8h0M1180.3 545.8h0M1180.6 545.8h0M1180.9 545.8h0M1181.2 545.8h0M1181.6 545.8h0M1181.9 545.8h0M1182.2 545.8h0M1182.5 545.8h0M1182.8 545.8h0M1183.1 545.8h0M1183.4 545.8h0M1183.7 545.8h0M1184 545.8h0M1184.3 545.8h0M1184.6 545.8h0M1184.9 545.8h0M1185.2 545.8h0M1185.5 545.8h0M1185.8 545.8h0M1186.1 545.8h0M1186.4 545.8h0M1186.7 545.8h0M1187 545.8h0M1187.3 545.8h0M1187.6 545.8h0M1187.9 545.8h0M1188.2 545.8h0M1188.5 545.8h0M1188.9 545.8h0M1189.2 545.8h0M1189.5 545.8h0M1189.8 545.8h0M1190.1 545.8h0M1190.4 545.8h0M1190.7 545.8h0M1191 545.8h0M1191.3 545.8h0M1191.6 545.8h0M1191.9 545.8h0M1192.2 545.8h0M1192.5 545.8h0M1192.8 545.8h0M1193.1 545.8h0M1193.4 545.8h0M1193.7 545.8h0M1194 545.8h0M1194.3 545.8h0M1194.6 545.8h0M1194.9 545.8h0M1195.2 545.8h0M1195.5 545.8h0M1195.8 545.8h0M1196.1 545.8h0M1196.5 545.8h0M1196.8 545.8h0M1197.1 545.8h0M1197.4 545.8h0M1197.7 545.8h0M1198 545.8h0M1198.3 545.8h0M1198.6 545.8h0M1198.9 545.8h0M1199.2 545.8h0M1199.5 545.8h0M1199.8 545.8h0M1200.1 545.8h0M1200.4 545.8h0M1200.7 545.8h0M1201 545.8h0M1201.3 545.8h0M1201.6 545.8h0M1201.9 545.8h0M1202.2 545.8h0M1202.5 545.8h0M1202.8 545.8h0M1203.1 545.8h0M1203.4 545.8h0M1203.7 545.8h0M1204.1 545.8h0M1204.4 545.8h0M1204.7 545.8h0M1205 545.8h0M1205.3 545.8h0M1205.6 545.8h0M1205.9 545.8h0M1206.2 545.8h0M1206.5 545.8h0" stroke="#3f57b0" stroke-width="6" stroke-linecap="round" fill="none"/>
<text x="1231.2" y="802" font-size="17" text-anchor="middle" fill="#111" textLength="75" lengthAdjust="spacingAndGlyphs">Time, min</text>
</svg>
</body></html>
